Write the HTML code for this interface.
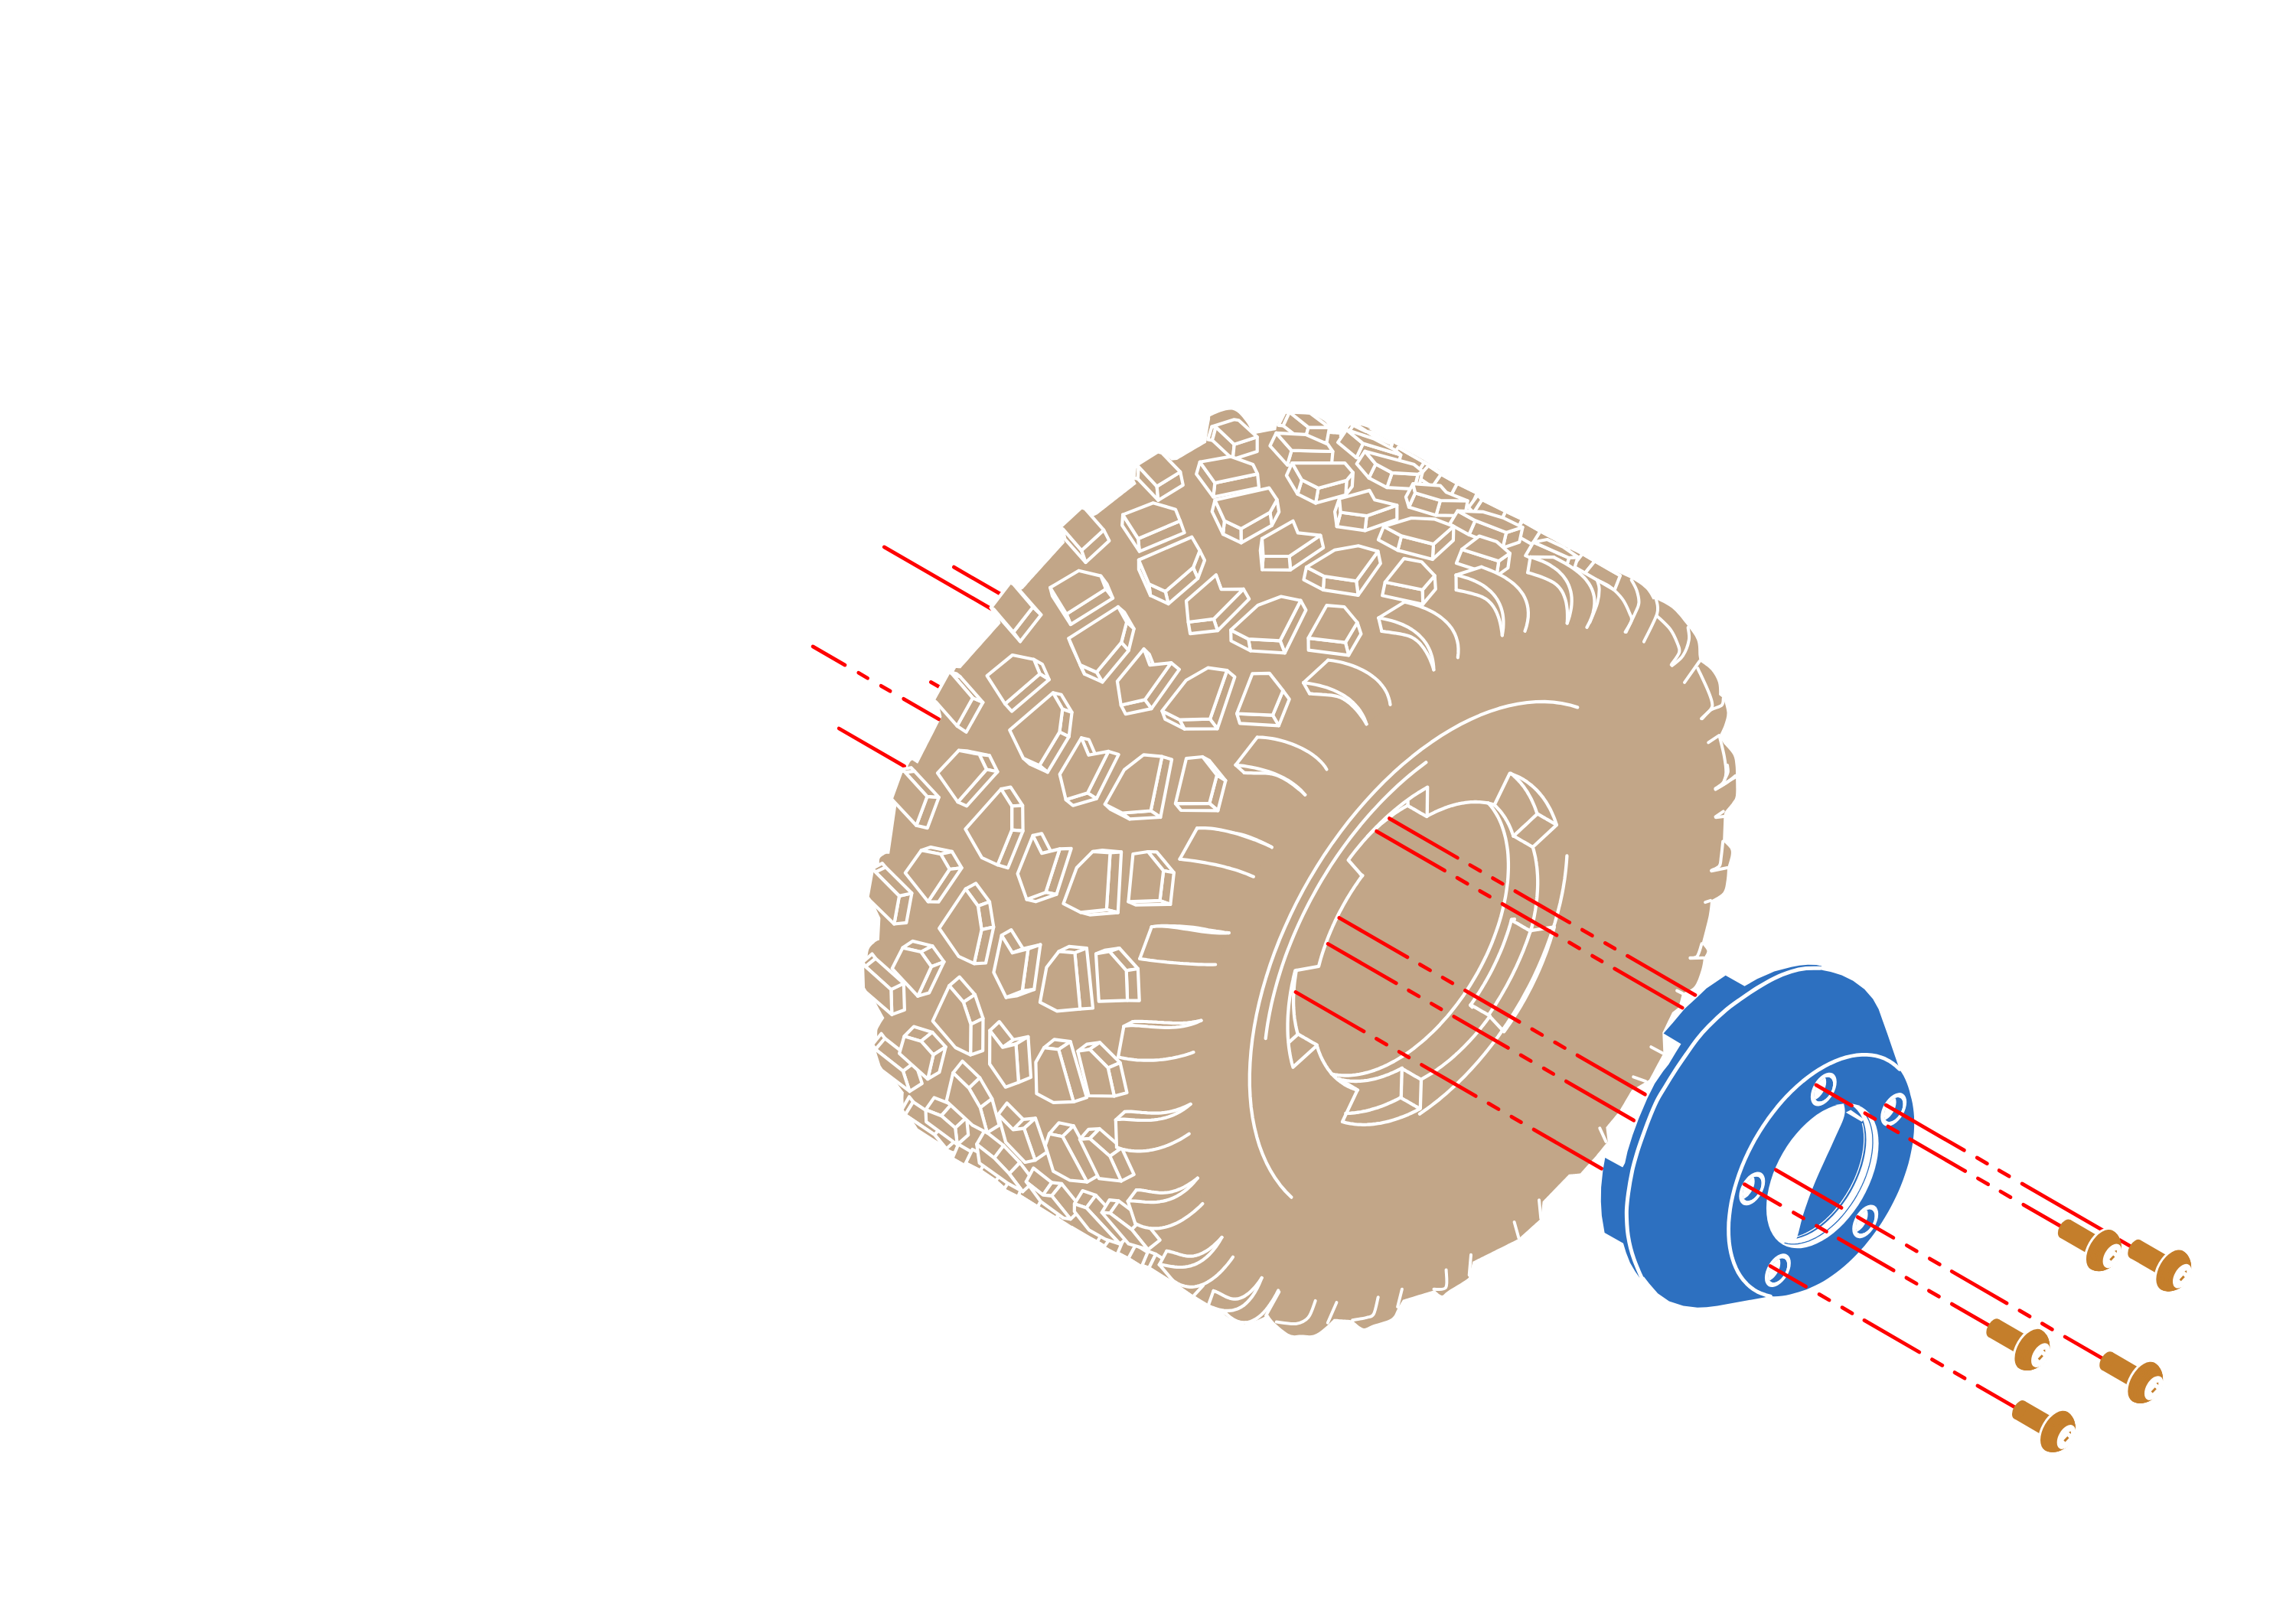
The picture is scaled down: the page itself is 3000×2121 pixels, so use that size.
<!DOCTYPE html>
<html><head><meta charset="utf-8"><title>Wheel assembly</title>
<style>html,body{margin:0;padding:0;background:#fff}svg{display:block}</style></head>
<body><svg xmlns="http://www.w3.org/2000/svg" width="3000" height="2121" viewBox="0 0 3000 2121">
<rect width="3000" height="2121" fill="#fff"/>
<g stroke="#FF0000" stroke-width="4.8" stroke-linecap="round" fill="none"><line x1="1246.4" y1="741.1" x2="1308.3" y2="776.9"/><line x1="1216.3" y1="891.4" x2="1229.8" y2="899.2"/><line x1="1096.2" y1="952.0" x2="1181.7" y2="1001.3"/><line x1="1062.1" y1="844.9" x2="1104.0" y2="869.1"/><line x1="1121.8" y1="879.3" x2="1133.6" y2="886.2"/><line x1="1151.2" y1="896.3" x2="1163.1" y2="903.2"/><line x1="1180.7" y1="913.3" x2="1226.9" y2="940.0"/><line x1="1155.3" y1="714.9" x2="1297.2" y2="796.8"/></g>
<path d="M1639.6,567.0 C1639.6,567.0 1637.8,572.8 1637.8,572.8 C1637.8,572.8 1633.8,559.3 1629.3,553.1 C1624.8,546.9 1618.3,537.5 1610.8,535.8 C1603.3,534.1 1589.2,540.4 1584.2,542.7 C1579.2,545.0 1582.1,543.7 1580.7,549.7 C1579.3,555.7 1576.1,578.6 1576.1,578.6 C1576.1,578.6 1538.0,601.0 1538.0,601.0 C1538.0,601.0 1531.1,601.7 1531.1,601.7 C1531.1,601.7 1519.5,592.4 1519.5,592.4 C1519.5,592.4 1497.6,603.5 1491.8,607.4 C1486.0,611.2 1486.5,612.8 1484.8,615.5 C1483.1,618.2 1481.4,620.8 1481.4,623.6 C1481.4,626.4 1484.8,632.2 1484.8,632.2 C1484.8,632.2 1434.0,672.1 1434.0,672.1 C1434.0,672.1 1428.2,675.1 1428.2,675.1 C1428.2,675.1 1417.8,665.2 1417.8,665.2 C1417.8,665.2 1396.3,685.4 1391.3,690.6 C1386.3,695.8 1387.8,693.3 1387.8,696.4 C1387.8,699.5 1391.3,709.1 1391.3,709.1 C1391.3,709.1 1337.0,769.2 1337.0,769.2 C1337.0,769.2 1331.2,772.6 1331.2,772.6 C1331.2,772.6 1324.3,763.4 1324.3,763.4 C1324.3,763.4 1300.0,786.5 1300.0,786.5 C1300.0,786.5 1301.3,795.7 1301.3,795.7 C1301.3,795.7 1307.6,814.2 1307.6,814.2 C1307.6,814.2 1255.1,873.4 1255.1,873.4 C1255.1,873.4 1249.0,873.1 1249.0,873.1 C1249.0,873.1 1248.1,875.0 1244.4,881.2 C1240.7,887.4 1229.7,904.7 1226.6,910.5 C1223.5,916.3 1225.2,911.5 1225.9,915.9 C1226.6,920.2 1230.5,936.6 1230.5,936.6 C1230.5,936.6 1199.4,997.9 1199.4,997.9 C1199.4,997.9 1193.6,994.4 1193.6,994.4 C1193.6,994.4 1191.4,990.6 1187.8,997.9 C1184.2,1005.2 1174.7,1030.2 1172.1,1038.3 C1169.5,1046.4 1173.7,1033.5 1172.1,1046.4 C1170.5,1059.3 1162.4,1115.7 1162.4,1115.7 C1162.4,1115.7 1157.8,1115.7 1157.8,1115.7 C1157.8,1115.7 1151.2,1118.8 1149.7,1121.5 C1148.2,1124.2 1149.3,1127.5 1148.5,1131.9 C1147.7,1136.3 1146.4,1141.9 1145.1,1148.1 C1143.8,1154.3 1141.0,1163.6 1140.4,1168.9 C1139.8,1174.2 1139.9,1174.9 1141.6,1180.0 C1143.3,1185.1 1150.4,1199.7 1150.4,1199.7 C1150.4,1199.7 1149.0,1228.6 1149.0,1228.6 C1149.0,1228.6 1145.1,1229.7 1142.7,1232.0 C1140.3,1234.3 1136.2,1236.8 1134.7,1242.4 C1133.2,1248.0 1133.2,1257.0 1133.5,1265.5 C1133.8,1274.0 1132.8,1282.5 1136.5,1293.3 C1140.2,1304.1 1155.5,1330.2 1155.5,1330.2 C1155.5,1330.2 1151.2,1336.4 1149.7,1339.5 C1148.2,1342.6 1146.4,1343.7 1146.2,1348.7 C1146.0,1353.7 1146.6,1361.8 1148.5,1369.5 C1150.4,1377.2 1152.4,1385.3 1157.8,1394.9 C1163.2,1404.5 1180.9,1427.3 1180.9,1427.3 C1180.9,1427.3 1179.2,1444.2 1182.7,1452.7 C1186.2,1461.2 1192.4,1470.0 1201.7,1478.1 C1211.0,1486.2 1231.0,1496.9 1238.6,1501.2 C1246.1,1505.5 1247.0,1504.0 1247.0,1504.0 C1247.0,1504.0 1256.3,1520.1 1256.3,1520.1 C1256.3,1520.1 1281.7,1529.4 1281.7,1529.4 C1281.7,1529.4 1311.7,1552.5 1311.7,1552.5 C1311.7,1552.5 1339.5,1566.4 1339.5,1566.4 C1339.5,1566.4 1381.1,1589.5 1381.1,1589.5 C1381.1,1589.5 1427.3,1619.5 1427.3,1619.5 C1427.3,1619.5 1473.5,1644.9 1473.5,1644.9 C1473.5,1644.9 1519.7,1668.0 1519.7,1668.0 C1519.7,1668.0 1561.3,1693.4 1561.3,1693.4 C1561.3,1693.4 1584.4,1707.3 1584.4,1707.3 C1584.4,1707.3 1607.5,1723.5 1607.5,1723.5 C1607.5,1723.5 1626.0,1730.4 1626.0,1730.4 C1626.0,1730.4 1637.2,1727.3 1642.4,1725.3 C1647.6,1723.3 1657.4,1718.3 1657.4,1718.3 C1657.4,1718.3 1660.9,1724.5 1665.5,1728.7 C1670.1,1733.0 1679.4,1741.2 1685.2,1743.8 C1691.0,1746.4 1695.0,1744.4 1700.2,1744.5 C1705.4,1744.6 1711.4,1746.0 1716.4,1744.5 C1721.4,1743.0 1725.8,1739.2 1730.2,1735.7 C1734.6,1732.2 1742.9,1723.7 1742.9,1723.7 C1742.9,1723.7 1767.2,1725.3 1767.2,1725.3 C1767.2,1725.3 1776.5,1734.7 1781.1,1735.7 C1785.7,1736.7 1788.8,1733.2 1794.9,1731.1 C1801.1,1729.0 1812.8,1726.5 1818.0,1723.0 C1823.2,1719.5 1823.6,1714.3 1826.1,1710.3 C1828.6,1706.2 1833.0,1698.7 1833.0,1698.7 C1833.0,1698.7 1874.6,1686.0 1874.6,1686.0 C1874.6,1686.0 1881.0,1692.7 1883.9,1692.9 C1886.8,1693.1 1886.6,1690.7 1892.0,1687.2 C1897.4,1683.7 1911.6,1675.6 1916.2,1672.1 C1920.8,1668.6 1918.4,1670.2 1919.7,1666.4 C1921.0,1662.6 1924.3,1649.0 1924.3,1649.0 C1924.3,1649.0 1982.1,1620.1 1982.1,1620.1 C1982.1,1620.1 1982.6,1620.1 1987.8,1615.5 C1993.0,1610.9 2013.3,1592.4 2013.3,1592.4 C2013.3,1592.4 2015.6,1570.5 2015.6,1570.5 C2015.6,1570.5 2050.0,1534.7 2050.0,1534.7 C2050.0,1534.7 2064.9,1533.4 2064.9,1533.4 C2064.9,1533.4 2085.7,1510.3 2085.7,1510.3 C2085.7,1510.3 2100.7,1491.8 2100.7,1491.8 C2100.7,1491.8 2098.4,1473.3 2098.4,1473.3 C2098.4,1473.3 2115.7,1452.5 2115.7,1452.5 C2115.7,1452.5 2131.9,1424.8 2131.9,1424.8 C2131.9,1424.8 2155.0,1410.9 2155.0,1410.9 C2155.0,1410.9 2173.5,1376.2 2173.5,1376.2 C2173.5,1376.2 2172.3,1349.7 2172.3,1349.7 C2172.3,1349.7 2185.0,1323.1 2185.0,1323.1 C2185.0,1323.1 2193.4,1316.5 2193.4,1316.5 C2193.4,1316.5 2198.1,1298.1 2198.1,1298.1 C2198.1,1298.1 2210.0,1294.2 2214.2,1288.8 C2218.4,1283.4 2221.6,1271.9 2223.5,1265.7 C2225.4,1259.5 2225.8,1251.8 2225.8,1251.8 C2225.8,1251.8 2230.8,1245.7 2230.4,1242.6 C2230.0,1239.5 2223.5,1233.4 2223.5,1233.4 C2223.5,1233.4 2230.8,1205.8 2232.7,1196.4 C2234.6,1187.0 2235.0,1176.8 2235.0,1176.8 C2235.0,1176.8 2247.7,1170.8 2251.2,1166.4 C2254.7,1162.0 2254.8,1155.6 2255.8,1150.2 C2256.8,1144.8 2257.0,1134.0 2257.0,1134.0 C2257.0,1134.0 2261.0,1122.0 2261.6,1117.8 C2262.2,1113.6 2262.1,1111.7 2260.4,1108.6 C2258.7,1105.5 2251.2,1099.4 2251.2,1099.4 C2251.2,1099.4 2252.4,1067.0 2252.4,1067.0 C2252.4,1067.0 2252.4,1063.4 2254.2,1060.4 C2256.0,1057.4 2261.1,1052.4 2263.4,1048.9 C2265.7,1045.4 2267.2,1045.2 2268.0,1039.6 C2268.8,1034.0 2268.0,1015.4 2268.0,1015.4 C2268.0,1015.4 2268.2,1005.2 2267.6,1000.4 C2267.0,995.6 2267.0,991.1 2264.6,986.5 C2262.2,981.9 2253.0,972.6 2253.0,972.6 C2253.0,972.6 2246.1,962.2 2246.1,962.2 C2246.1,962.2 2251.3,952.4 2253.0,947.2 C2254.7,942.0 2256.7,936.9 2256.5,931.1 C2256.3,925.3 2251.8,912.6 2251.8,912.6 C2251.8,912.6 2246.1,907.9 2246.1,907.9 C2246.1,907.9 2246.6,897.2 2244.9,891.8 C2243.2,886.4 2239.7,880.2 2235.7,875.6 C2231.7,871.0 2220.7,864.0 2220.7,864.0 C2220.7,864.0 2220.1,861.7 2219.5,857.1 C2218.9,852.5 2219.9,843.2 2217.2,836.3 C2214.5,829.4 2208.7,822.4 2203.3,815.5 C2197.9,808.6 2191.4,800.1 2184.8,794.7 C2178.2,789.3 2164.0,783.2 2164.0,783.2 C2164.0,783.2 2159.4,783.2 2159.4,783.2 C2159.4,783.2 2154.8,773.7 2150.2,769.3 C2145.6,764.9 2141.3,761.8 2131.7,756.6 C2122.1,751.4 2110.5,747.0 2092.4,738.1 C2074.3,729.2 2023.1,703.5 2023.1,703.5 C2023.1,703.5 1990.3,682.5 1990.3,682.5 C1990.3,682.5 1934.8,647.9 1934.8,647.9 C1934.8,647.9 1860.9,601.7 1860.9,601.7 C1860.9,601.7 1819.3,578.6 1819.3,578.6 C1819.3,578.6 1789.3,561.2 1789.3,561.2 C1789.3,561.2 1773.1,554.3 1773.1,554.3 C1773.1,554.3 1761.6,557.8 1761.6,557.8 C1761.6,557.8 1787.8,560.9 1789.8,560.5 C1791.8,560.1 1778.9,555.5 1773.7,555.5 C1768.5,555.5 1762.1,558.4 1758.6,560.5 C1755.1,562.6 1752.9,568.2 1752.9,568.2 C1752.9,568.2 1736.7,567.0 1736.7,567.0 C1736.7,567.0 1736.7,559.5 1735.5,556.6 C1734.3,553.7 1733.1,552.0 1729.8,549.7 C1726.5,547.4 1720.9,544.1 1715.9,542.7 C1710.9,541.4 1705.1,541.6 1699.7,541.6 C1694.3,541.6 1688.1,541.4 1683.5,542.7 C1678.9,544.1 1674.5,547.4 1672.0,549.7 C1669.5,552.0 1669.3,554.6 1668.5,556.6 C1667.7,558.6 1667.4,561.9 1667.4,561.9 C1667.4,561.9 1639.6,567.0 1639.6,567.0Z" fill="#C2A688" stroke="none" stroke-width="0" stroke-linejoin="round" stroke-linecap="round" />
<polygon points="1277.6,1533.2 1244.3,1514.0 1252.2,1495.4 1290.1,1517.3" fill="#C2A688" stroke="#fff" stroke-width="4.2" stroke-linejoin="round" />
<polygon points="1244.3,1514.0 1239.3,1507.6 1239.7,1507.9 1243.4,1513.5 1276.8,1532.7 1277.6,1533.2" fill="#C2A688" stroke="#fff" stroke-width="4.2" stroke-linejoin="round" />
<polygon points="1763.3,553.3 1769.6,553.6 1758.6,570.4 1751.7,569.8" fill="#C2A688" stroke="#fff" stroke-width="4.2" stroke-linejoin="round" />
<polygon points="1769.6,553.6 1795.7,570.0 1787.5,588.6 1758.6,570.4" fill="#C2A688" stroke="#fff" stroke-width="4.2" stroke-linejoin="round" />
<polygon points="1795.7,570.0 1818.9,580.3 1812.1,599.5 1787.5,588.6" fill="#C2A688" stroke="#fff" stroke-width="4.2" stroke-linejoin="round" />
<polygon points="1792.3,564.8 1784.7,563.9 1763.3,553.3 1769.6,553.6 1795.7,570.0 1818.9,580.3" fill="#C2A688" stroke="#fff" stroke-width="4.2" stroke-linejoin="round" />
<polygon points="1876.3,613.3 1860.7,604.3 1850.0,621.2 1868.6,632.0" fill="#C2A688" stroke="#fff" stroke-width="4.2" stroke-linejoin="round" />
<polygon points="1860.7,604.3 1826.9,584.8 1814.3,600.6 1850.0,621.2" fill="#C2A688" stroke="#fff" stroke-width="4.2" stroke-linejoin="round" />
<polygon points="1826.9,584.8 1838.6,591.6 1861.6,604.8 1876.3,613.3 1860.7,604.3" fill="#C2A688" stroke="#fff" stroke-width="4.2" stroke-linejoin="round" />
<polygon points="1261.8,1520.1 1280.8,1529.8 1291.7,1512.8 1270.6,1502.0" fill="#C2A688" stroke="#fff" stroke-width="4.2" stroke-linejoin="round" />
<polygon points="1280.8,1529.8 1300.9,1543.2 1313.6,1527.3 1291.7,1512.8" fill="#C2A688" stroke="#fff" stroke-width="4.2" stroke-linejoin="round" />
<polygon points="1300.9,1543.2 1312.2,1553.2 1323.5,1536.6 1313.6,1527.3" fill="#C2A688" stroke="#fff" stroke-width="4.2" stroke-linejoin="round" />
<polygon points="1268.6,1527.6 1261.8,1520.1 1280.8,1529.8 1300.9,1543.2 1312.2,1553.2" fill="#C2A688" stroke="#fff" stroke-width="4.2" stroke-linejoin="round" />
<polygon points="1182.7,1456.9 1178.1,1450.6 1188.0,1433.3 1193.2,1439.9" fill="#C2A688" stroke="#fff" stroke-width="4.2" stroke-linejoin="round" />
<polygon points="1236.5,1501.3 1220.9,1482.7 1235.0,1468.1 1251.5,1487.8" fill="#C2A688" stroke="#fff" stroke-width="4.2" stroke-linejoin="round" />
<polygon points="1220.9,1482.7 1182.7,1456.9 1193.2,1439.9 1235.0,1468.1" fill="#C2A688" stroke="#fff" stroke-width="4.2" stroke-linejoin="round" />
<polygon points="1182.7,1456.9 1178.1,1450.6 1194.1,1470.7 1197.7,1476.3 1236.5,1501.3 1220.9,1482.7" fill="#C2A688" stroke="#fff" stroke-width="4.2" stroke-linejoin="round" />
<polygon points="1331.0,1561.9 1355.8,1577.3 1365.5,1559.5 1338.5,1542.7" fill="#C2A688" stroke="#fff" stroke-width="4.2" stroke-linejoin="round" />
<polygon points="1355.8,1577.3 1379.6,1592.1 1391.0,1575.6 1365.5,1559.5" fill="#C2A688" stroke="#fff" stroke-width="4.2" stroke-linejoin="round" />
<polygon points="1379.6,1592.1 1380.3,1592.5 1392.0,1576.2 1391.0,1575.6" fill="#C2A688" stroke="#fff" stroke-width="4.2" stroke-linejoin="round" />
<polygon points="1331.8,1564.5 1331.0,1561.9 1355.8,1577.3 1379.6,1592.1 1380.3,1592.5 1360.3,1581.0" fill="#C2A688" stroke="#fff" stroke-width="4.2" stroke-linejoin="round" />
<polygon points="1930.0,644.3 1904.1,631.6 1894.6,649.6 1921.9,662.7" fill="#C2A688" stroke="#fff" stroke-width="4.2" stroke-linejoin="round" />
<polygon points="1904.1,631.6 1882.9,619.6 1871.3,636.4 1894.6,649.6" fill="#C2A688" stroke="#fff" stroke-width="4.2" stroke-linejoin="round" />
<polygon points="1882.9,619.6 1866.5,608.4 1852.9,623.7 1871.3,636.4" fill="#C2A688" stroke="#fff" stroke-width="4.2" stroke-linejoin="round" />
<polygon points="1866.5,608.4 1900.5,627.3 1919.6,638.3 1930.0,644.3 1904.1,631.6 1882.9,619.6" fill="#C2A688" stroke="#fff" stroke-width="4.2" stroke-linejoin="round" />
<polygon points="1830.3,594.5 1781.0,579.6 1772.3,598.1 1825.2,614.1" fill="#C2A688" stroke="#fff" stroke-width="4.2" stroke-linejoin="round" />
<polygon points="1781.0,579.6 1759.4,561.6 1748.1,578.1 1772.3,598.1" fill="#C2A688" stroke="#fff" stroke-width="4.2" stroke-linejoin="round" />
<polygon points="1759.4,561.6 1794.6,573.2 1822.7,588.0 1830.3,594.5 1781.0,579.6" fill="#C2A688" stroke="#fff" stroke-width="4.2" stroke-linejoin="round" />
<polygon points="1679.0,538.4 1684.9,538.7 1676.7,556.4 1670.4,555.9" fill="#C2A688" stroke="#fff" stroke-width="4.2" stroke-linejoin="round" />
<polygon points="1684.9,538.7 1709.6,558.3 1704.3,578.0 1676.7,556.4" fill="#C2A688" stroke="#fff" stroke-width="4.2" stroke-linejoin="round" />
<polygon points="1709.6,558.3 1737.1,558.7 1733.5,578.4 1704.3,578.0" fill="#C2A688" stroke="#fff" stroke-width="4.2" stroke-linejoin="round" />
<polygon points="1712.0,540.0 1705.5,539.3 1679.0,538.4 1684.9,538.7 1709.6,558.3 1737.1,558.7" fill="#C2A688" stroke="#fff" stroke-width="4.2" stroke-linejoin="round" />
<polygon points="1433.6,1623.0 1443.0,1628.7 1454.9,1612.5 1443.8,1605.7" fill="#C2A688" stroke="#fff" stroke-width="4.2" stroke-linejoin="round" />
<polygon points="1405.4,1607.0 1400.5,1604.0 1423.6,1617.5 1433.6,1623.0 1443.0,1628.7 1424.4,1618.0" fill="#C2A688" stroke="#fff" stroke-width="4.2" stroke-linejoin="round" />
<polygon points="1988.9,678.3 1967.2,668.0 1958.7,686.3 1980.6,696.6" fill="#C2A688" stroke="#fff" stroke-width="4.2" stroke-linejoin="round" />
<polygon points="1967.2,668.0 1936.5,652.9 1925.3,670.1 1958.7,686.3" fill="#C2A688" stroke="#fff" stroke-width="4.2" stroke-linejoin="round" />
<polygon points="1936.5,652.9 1931.0,646.9 1918.9,663.1 1925.3,670.1" fill="#C2A688" stroke="#fff" stroke-width="4.2" stroke-linejoin="round" />
<polygon points="1931.0,646.9 1954.7,658.6 1970.4,667.6 1988.9,678.3 1967.2,668.0 1936.5,652.9" fill="#C2A688" stroke="#fff" stroke-width="4.2" stroke-linejoin="round" />
<polygon points="1209.5,1450.3 1230.0,1458.2 1243.2,1443.2 1220.6,1434.4" fill="#C2A688" stroke="#fff" stroke-width="4.2" stroke-linejoin="round" />
<polygon points="1230.0,1458.2 1248.2,1474.0 1263.0,1460.4 1243.2,1443.2" fill="#C2A688" stroke="#fff" stroke-width="4.2" stroke-linejoin="round" />
<polygon points="1248.2,1474.0 1250.8,1495.9 1265.2,1483.1 1263.0,1460.4" fill="#C2A688" stroke="#fff" stroke-width="4.2" stroke-linejoin="round" />
<polygon points="1210.2,1466.0 1209.5,1450.3 1230.0,1458.2 1248.2,1474.0 1250.8,1495.9" fill="#C2A688" stroke="#fff" stroke-width="4.2" stroke-linejoin="round" />
<polygon points="1276.2,1495.4 1299.1,1513.3 1311.4,1497.1 1286.5,1477.6" fill="#C2A688" stroke="#fff" stroke-width="4.2" stroke-linejoin="round" />
<polygon points="1299.1,1513.3 1318.7,1533.9 1332.6,1519.3 1311.4,1497.1" fill="#C2A688" stroke="#fff" stroke-width="4.2" stroke-linejoin="round" />
<polygon points="1318.7,1533.9 1336.3,1557.2 1351.1,1543.8 1332.6,1519.3" fill="#C2A688" stroke="#fff" stroke-width="4.2" stroke-linejoin="round" />
<polygon points="1279.7,1519.9 1276.2,1495.4 1299.1,1513.3 1318.7,1533.9 1336.3,1557.2 1317.3,1546.7" fill="#C2A688" stroke="#fff" stroke-width="4.2" stroke-linejoin="round" />
<polygon points="1460.4,1637.5 1474.3,1644.8 1484.0,1626.8 1468.4,1618.8" fill="#C2A688" stroke="#fff" stroke-width="4.2" stroke-linejoin="round" />
<polygon points="1474.3,1644.8 1515.8,1670.7 1528.9,1655.2 1484.0,1626.8" fill="#C2A688" stroke="#fff" stroke-width="4.2" stroke-linejoin="round" />
<polygon points="1466.4,1642.2 1464.7,1641.2 1460.4,1637.5 1474.3,1644.8 1515.8,1670.7 1488.5,1655.0" fill="#C2A688" stroke="#fff" stroke-width="4.2" stroke-linejoin="round" />
<polygon points="1144.0,1371.3 1139.8,1365.3 1151.5,1350.7 1156.3,1357.0" fill="#C2A688" stroke="#fff" stroke-width="4.2" stroke-linejoin="round" />
<polygon points="1188.5,1426.2 1179.9,1399.6 1195.7,1387.8 1204.8,1415.9" fill="#C2A688" stroke="#fff" stroke-width="4.2" stroke-linejoin="round" />
<polygon points="1179.9,1399.6 1144.0,1371.3 1156.3,1357.0 1195.7,1387.8" fill="#C2A688" stroke="#fff" stroke-width="4.2" stroke-linejoin="round" />
<polygon points="1144.0,1371.3 1139.8,1365.3 1148.6,1393.3 1151.9,1398.5 1188.5,1426.2 1179.9,1399.6" fill="#C2A688" stroke="#fff" stroke-width="4.2" stroke-linejoin="round" />
<polygon points="2051.1,714.9 2012.6,694.2 2001.8,711.4 2043.7,733.8" fill="#C2A688" stroke="#fff" stroke-width="4.2" stroke-linejoin="round" />
<polygon points="2012.6,694.2 1989.8,681.2 1976.6,697.0 2001.8,711.4" fill="#C2A688" stroke="#fff" stroke-width="4.2" stroke-linejoin="round" />
<polygon points="1989.8,681.2 2014.9,693.3 2024.8,699.1 2043.4,709.8 2051.1,714.9 2012.6,694.2" fill="#C2A688" stroke="#fff" stroke-width="4.2" stroke-linejoin="round" />
<polygon points="1858.9,616.2 1852.7,619.8 1848.0,639.2 1854.2,635.2" fill="#C2A688" stroke="#fff" stroke-width="4.2" stroke-linejoin="round" />
<polygon points="1852.7,619.8 1818.9,617.8 1812.2,637.1 1848.0,639.2" fill="#C2A688" stroke="#fff" stroke-width="4.2" stroke-linejoin="round" />
<polygon points="1818.9,617.8 1797.5,606.4 1788.6,624.6 1812.2,637.1" fill="#C2A688" stroke="#fff" stroke-width="4.2" stroke-linejoin="round" />
<polygon points="1797.5,606.4 1783.5,589.7 1772.7,606.1 1788.6,624.6" fill="#C2A688" stroke="#fff" stroke-width="4.2" stroke-linejoin="round" />
<polygon points="1783.5,589.7 1847.1,606.7 1858.9,616.2 1852.7,619.8 1818.9,617.8 1797.5,606.4" fill="#C2A688" stroke="#fff" stroke-width="4.2" stroke-linejoin="round" />
<polygon points="1741.5,590.0 1687.6,588.6 1682.0,607.7 1739.7,609.4" fill="#C2A688" stroke="#fff" stroke-width="4.2" stroke-linejoin="round" />
<polygon points="1687.6,588.6 1667.5,565.8 1659.4,582.6 1682.0,607.7" fill="#C2A688" stroke="#fff" stroke-width="4.2" stroke-linejoin="round" />
<polygon points="1667.5,565.8 1706.0,567.9 1734.9,580.5 1741.5,590.0 1687.6,588.6" fill="#C2A688" stroke="#fff" stroke-width="4.2" stroke-linejoin="round" />
<polygon points="1340.8,1544.3 1362.8,1561.6 1374.3,1545.3 1350.3,1526.5" fill="#C2A688" stroke="#fff" stroke-width="4.2" stroke-linejoin="round" />
<polygon points="1362.8,1561.6 1374.2,1562.8 1387.1,1546.9 1374.3,1545.3" fill="#C2A688" stroke="#fff" stroke-width="4.2" stroke-linejoin="round" />
<polygon points="1374.2,1562.8 1398.8,1593.2 1413.3,1579.3 1387.1,1546.9" fill="#C2A688" stroke="#fff" stroke-width="4.2" stroke-linejoin="round" />
<polygon points="1360.0,1570.2 1340.8,1544.3 1362.8,1561.6 1374.2,1562.8 1398.8,1593.2 1389.4,1591.7" fill="#C2A688" stroke="#fff" stroke-width="4.2" stroke-linejoin="round" />
<polygon points="1583.4,557.5 1588.7,557.9 1584.0,575.3 1578.3,574.5" fill="#C2A688" stroke="#fff" stroke-width="4.2" stroke-linejoin="round" />
<polygon points="1588.7,557.9 1612.7,580.7 1610.8,600.3 1584.0,575.3" fill="#C2A688" stroke="#fff" stroke-width="4.2" stroke-linejoin="round" />
<polygon points="1612.7,580.7 1642.7,571.1 1642.7,590.1 1610.8,600.3" fill="#C2A688" stroke="#fff" stroke-width="4.2" stroke-linejoin="round" />
<polygon points="1618.6,549.3 1612.6,548.3 1583.4,557.5 1588.7,557.9 1612.7,580.7 1642.7,571.1" fill="#C2A688" stroke="#fff" stroke-width="4.2" stroke-linejoin="round" />
<polygon points="2083.9,733.2 2067.7,723.8 2055.3,739.8 2071.1,748.9" fill="#C2A688" stroke="#fff" stroke-width="4.2" stroke-linejoin="round" />
<polygon points="2117.0,752.3 2083.9,733.2 2071.1,748.9 2109.6,771.1" fill="#C2A688" stroke="#fff" stroke-width="4.2" stroke-linejoin="round" />
<polygon points="2083.9,733.2 2067.7,723.8 2082.0,732.1 2107.1,746.6 2117.0,752.3" fill="#C2A688" stroke="#fff" stroke-width="4.2" stroke-linejoin="round" />
<polygon points="1917.6,654.5 1882.0,654.0 1876.4,673.4 1914.1,674.0" fill="#C2A688" stroke="#fff" stroke-width="4.2" stroke-linejoin="round" />
<polygon points="1882.0,654.0 1849.2,644.2 1840.9,662.7 1876.4,673.4" fill="#C2A688" stroke="#fff" stroke-width="4.2" stroke-linejoin="round" />
<polygon points="1849.2,644.2 1846.2,632.2 1836.9,649.5 1840.9,662.7" fill="#C2A688" stroke="#fff" stroke-width="4.2" stroke-linejoin="round" />
<polygon points="1846.2,632.2 1882.0,634.6 1889.8,643.4 1917.6,654.5 1882.0,654.0 1849.2,644.2" fill="#C2A688" stroke="#fff" stroke-width="4.2" stroke-linejoin="round" />
<polygon points="1492.3,1653.7 1501.2,1657.1 1510.2,1639.0 1500.2,1635.1" fill="#C2A688" stroke="#fff" stroke-width="4.2" stroke-linejoin="round" />
<polygon points="1501.2,1657.1 1531.3,1676.1 1543.1,1659.7 1510.2,1639.0" fill="#C2A688" stroke="#fff" stroke-width="4.2" stroke-linejoin="round" />
<polygon points="1531.3,1676.1 1558.3,1694.8 1572.1,1679.8 1543.1,1659.7" fill="#C2A688" stroke="#fff" stroke-width="4.2" stroke-linejoin="round" />
<polygon points="1536.1,1682.5 1492.3,1653.7 1501.2,1657.1 1531.3,1676.1 1558.3,1694.8" fill="#C2A688" stroke="#fff" stroke-width="4.2" stroke-linejoin="round" />
<polygon points="1181.5,1354.3 1203.5,1360.7 1218.2,1348.9 1193.9,1341.6" fill="#C2A688" stroke="#fff" stroke-width="4.2" stroke-linejoin="round" />
<polygon points="1203.5,1360.7 1219.5,1378.5 1235.7,1368.1 1218.2,1348.9" fill="#C2A688" stroke="#fff" stroke-width="4.2" stroke-linejoin="round" />
<polygon points="1219.5,1378.5 1212.2,1410.1 1227.4,1401.2 1235.7,1368.1" fill="#C2A688" stroke="#fff" stroke-width="4.2" stroke-linejoin="round" />
<polygon points="1175.1,1376.7 1181.5,1354.3 1203.5,1360.7 1219.5,1378.5 1212.2,1410.1" fill="#C2A688" stroke="#fff" stroke-width="4.2" stroke-linejoin="round" />
<polygon points="1130.8,1263.1 1126.9,1257.6 1139.5,1246.6 1144.1,1252.5" fill="#C2A688" stroke="#fff" stroke-width="4.2" stroke-linejoin="round" />
<polygon points="1165.3,1325.9 1164.3,1293.2 1180.8,1285.2 1181.9,1319.8" fill="#C2A688" stroke="#fff" stroke-width="4.2" stroke-linejoin="round" />
<polygon points="1164.3,1293.2 1130.8,1263.1 1144.1,1252.5 1180.8,1285.2" fill="#C2A688" stroke="#fff" stroke-width="4.2" stroke-linejoin="round" />
<polygon points="1130.8,1263.1 1126.9,1257.6 1128.0,1291.5 1131.1,1296.3 1165.3,1325.9 1164.3,1293.2" fill="#C2A688" stroke="#fff" stroke-width="4.2" stroke-linejoin="round" />
<polygon points="1403.9,1573.2 1419.4,1578.4 1431.8,1561.9 1414.5,1556.1" fill="#C2A688" stroke="#fff" stroke-width="4.2" stroke-linejoin="round" />
<polygon points="1419.4,1578.4 1463.3,1625.7 1479.0,1612.6 1431.8,1561.9" fill="#C2A688" stroke="#fff" stroke-width="4.2" stroke-linejoin="round" />
<polygon points="1422.8,1607.3 1403.8,1583.2 1403.9,1573.2 1419.4,1578.4 1463.3,1625.7 1444.3,1619.5" fill="#C2A688" stroke="#fff" stroke-width="4.2" stroke-linejoin="round" />
<polygon points="1245.3,1402.0 1266.0,1422.0 1280.2,1408.5 1257.5,1386.8" fill="#C2A688" stroke="#fff" stroke-width="4.2" stroke-linejoin="round" />
<polygon points="1266.0,1422.0 1280.8,1447.5 1296.2,1435.9 1280.2,1408.5" fill="#C2A688" stroke="#fff" stroke-width="4.2" stroke-linejoin="round" />
<polygon points="1280.8,1447.5 1289.8,1480.3 1305.7,1470.4 1296.2,1435.9" fill="#C2A688" stroke="#fff" stroke-width="4.2" stroke-linejoin="round" />
<polygon points="1236.6,1439.1 1245.3,1402.0 1266.0,1422.0 1280.8,1447.5 1289.8,1480.3 1270.4,1470.3" fill="#C2A688" stroke="#fff" stroke-width="4.2" stroke-linejoin="round" />
<polygon points="1989.5,689.1 1968.1,695.9 1963.5,716.0 1985.3,708.4" fill="#C2A688" stroke="#fff" stroke-width="4.2" stroke-linejoin="round" />
<polygon points="1968.1,695.9 1927.5,680.3 1919.4,698.8 1963.5,716.0" fill="#C2A688" stroke="#fff" stroke-width="4.2" stroke-linejoin="round" />
<polygon points="1927.5,680.3 1904.5,667.6 1894.1,684.9 1919.4,698.8" fill="#C2A688" stroke="#fff" stroke-width="4.2" stroke-linejoin="round" />
<polygon points="1904.5,667.6 1937.2,668.8 1965.0,677.1 1989.5,689.1 1968.1,695.9 1927.5,680.3" fill="#C2A688" stroke="#fff" stroke-width="4.2" stroke-linejoin="round" />
<polygon points="1767.9,617.7 1759.5,627.9 1758.4,646.8 1766.8,635.8" fill="#C2A688" stroke="#fff" stroke-width="4.2" stroke-linejoin="round" />
<polygon points="1759.5,627.9 1722.5,638.0 1719.1,657.5 1758.4,646.8" fill="#C2A688" stroke="#fff" stroke-width="4.2" stroke-linejoin="round" />
<polygon points="1722.5,638.0 1701.0,627.2 1695.4,645.6 1719.1,657.5" fill="#C2A688" stroke="#fff" stroke-width="4.2" stroke-linejoin="round" />
<polygon points="1701.0,627.2 1688.3,605.1 1680.9,621.4 1695.4,645.6" fill="#C2A688" stroke="#fff" stroke-width="4.2" stroke-linejoin="round" />
<polygon points="1688.3,605.1 1757.2,605.2 1767.9,617.7 1759.5,627.9 1722.5,638.0 1701.0,627.2" fill="#C2A688" stroke="#fff" stroke-width="4.2" stroke-linejoin="round" />
<polygon points="2061.7,727.9 2050.1,729.2 2044.0,748.6 2055.8,747.0" fill="#C2A688" stroke="#fff" stroke-width="4.2" stroke-linejoin="round" />
<polygon points="2050.1,729.2 2003.6,708.5 1993.3,726.1 2044.0,748.6" fill="#C2A688" stroke="#fff" stroke-width="4.2" stroke-linejoin="round" />
<polygon points="2003.6,708.5 2021.7,705.0 2043.1,715.2 2061.7,727.9 2050.1,729.2" fill="#C2A688" stroke="#fff" stroke-width="4.2" stroke-linejoin="round" />
<polygon points="1483.0,609.1 1487.7,609.9 1486.7,625.8 1481.5,624.6" fill="#C2A688" stroke="#fff" stroke-width="4.2" stroke-linejoin="round" />
<polygon points="1487.7,609.9 1511.6,635.6 1513.4,653.8 1486.7,625.8" fill="#C2A688" stroke="#fff" stroke-width="4.2" stroke-linejoin="round" />
<polygon points="1511.6,635.6 1542.2,616.8 1545.8,633.9 1513.4,653.8" fill="#C2A688" stroke="#fff" stroke-width="4.2" stroke-linejoin="round" />
<polygon points="1518.3,592.0 1512.9,590.5 1483.0,609.1 1487.7,609.9 1511.6,635.6 1542.2,616.8" fill="#C2A688" stroke="#fff" stroke-width="4.2" stroke-linejoin="round" />
<polygon points="1643.1,619.4 1587.4,631.1 1585.3,649.5 1645.0,637.3" fill="#C2A688" stroke="#fff" stroke-width="4.2" stroke-linejoin="round" />
<polygon points="1587.4,631.1 1567.8,603.7 1563.2,619.6 1585.3,649.5" fill="#C2A688" stroke="#fff" stroke-width="4.2" stroke-linejoin="round" />
<polygon points="1567.8,603.7 1607.8,596.6 1637.1,607.0 1643.1,619.4 1587.4,631.1" fill="#C2A688" stroke="#fff" stroke-width="4.2" stroke-linejoin="round" />
<polygon points="1304.2,1456.5 1323.7,1476.4 1337.0,1462.9 1315.7,1441.4" fill="#C2A688" stroke="#fff" stroke-width="4.2" stroke-linejoin="round" />
<polygon points="1323.7,1476.4 1338.0,1474.6 1352.9,1461.3 1337.0,1462.9" fill="#C2A688" stroke="#fff" stroke-width="4.2" stroke-linejoin="round" />
<polygon points="1338.0,1474.6 1352.5,1516.2 1368.2,1505.5 1352.9,1461.3" fill="#C2A688" stroke="#fff" stroke-width="4.2" stroke-linejoin="round" />
<polygon points="1314.1,1492.6 1304.2,1456.5 1323.7,1476.4 1338.0,1474.6 1352.5,1516.2 1339.4,1519.0" fill="#C2A688" stroke="#fff" stroke-width="4.2" stroke-linejoin="round" />
<polygon points="1144.0,1139.7 1140.2,1134.8 1152.8,1128.1 1157.2,1133.3" fill="#C2A688" stroke="#fff" stroke-width="4.2" stroke-linejoin="round" />
<polygon points="1168.3,1207.5 1175.0,1170.9 1191.4,1167.2 1184.3,1205.9" fill="#C2A688" stroke="#fff" stroke-width="4.2" stroke-linejoin="round" />
<polygon points="1175.0,1170.9 1144.0,1139.7 1157.2,1133.3 1191.4,1167.2" fill="#C2A688" stroke="#fff" stroke-width="4.2" stroke-linejoin="round" />
<polygon points="1144.0,1139.7 1140.2,1134.8 1133.5,1172.3 1136.5,1176.5 1168.3,1207.5 1175.0,1170.9" fill="#C2A688" stroke="#fff" stroke-width="4.2" stroke-linejoin="round" />
<polygon points="1825.3,660.3 1785.7,674.2 1783.5,693.4 1825.3,678.7" fill="#C2A688" stroke="#fff" stroke-width="4.2" stroke-linejoin="round" />
<polygon points="1785.7,674.2 1751.7,669.5 1746.7,688.1 1783.5,693.4" fill="#C2A688" stroke="#fff" stroke-width="4.2" stroke-linejoin="round" />
<polygon points="1751.7,669.5 1750.0,651.7 1744.1,668.7 1746.7,688.1" fill="#C2A688" stroke="#fff" stroke-width="4.2" stroke-linejoin="round" />
<polygon points="1750.0,651.7 1789.4,640.9 1796.2,653.2 1825.3,660.3 1785.7,674.2 1751.7,669.5" fill="#C2A688" stroke="#fff" stroke-width="4.2" stroke-linejoin="round" />
<polygon points="1179.5,1238.6 1203.3,1244.0 1218.4,1236.2 1192.3,1229.9" fill="#C2A688" stroke="#fff" stroke-width="4.2" stroke-linejoin="round" />
<polygon points="1203.3,1244.0 1217.0,1263.2 1233.5,1256.9 1218.4,1236.2" fill="#C2A688" stroke="#fff" stroke-width="4.2" stroke-linejoin="round" />
<polygon points="1217.0,1263.2 1199.2,1301.8 1214.1,1297.4 1233.5,1256.9" fill="#C2A688" stroke="#fff" stroke-width="4.2" stroke-linejoin="round" />
<polygon points="1165.7,1265.8 1179.5,1238.6 1203.3,1244.0 1217.0,1263.2 1199.2,1301.8" fill="#C2A688" stroke="#fff" stroke-width="4.2" stroke-linejoin="round" />
<polygon points="1439.6,1584.5 1450.4,1585.4 1461.7,1569.4 1449.6,1568.1" fill="#C2A688" stroke="#fff" stroke-width="4.2" stroke-linejoin="round" />
<polygon points="1450.4,1585.4 1478.7,1606.7 1492.7,1592.5 1461.7,1569.4" fill="#C2A688" stroke="#fff" stroke-width="4.2" stroke-linejoin="round" />
<polygon points="1478.7,1606.7 1500.0,1633.0 1515.7,1620.6 1492.7,1592.5" fill="#C2A688" stroke="#fff" stroke-width="4.2" stroke-linejoin="round" />
<polygon points="1474.7,1625.6 1439.6,1584.5 1450.4,1585.4 1478.7,1606.7 1500.0,1633.0" fill="#C2A688" stroke="#fff" stroke-width="4.2" stroke-linejoin="round" />
<polygon points="1384.5,689.8 1388.7,691.2 1391.4,704.4 1386.7,702.6" fill="#C2A688" stroke="#fff" stroke-width="4.2" stroke-linejoin="round" />
<polygon points="1388.7,691.2 1413.2,719.3 1418.6,735.0 1391.4,704.4" fill="#C2A688" stroke="#fff" stroke-width="4.2" stroke-linejoin="round" />
<polygon points="1413.2,719.3 1442.2,692.6 1449.4,706.6 1418.6,735.0" fill="#C2A688" stroke="#fff" stroke-width="4.2" stroke-linejoin="round" />
<polygon points="1418.0,665.1 1413.1,663.1 1384.5,689.8 1388.7,691.2 1413.2,719.3 1442.2,692.6" fill="#C2A688" stroke="#fff" stroke-width="4.2" stroke-linejoin="round" />
<polygon points="1240.3,1288.2 1258.8,1309.7 1273.9,1299.8 1253.7,1276.6" fill="#C2A688" stroke="#fff" stroke-width="4.2" stroke-linejoin="round" />
<polygon points="1258.8,1309.7 1268.5,1338.7 1284.5,1330.9 1273.9,1299.8" fill="#C2A688" stroke="#fff" stroke-width="4.2" stroke-linejoin="round" />
<polygon points="1268.5,1338.7 1268.1,1378.6 1284.2,1373.1 1284.5,1330.9" fill="#C2A688" stroke="#fff" stroke-width="4.2" stroke-linejoin="round" />
<polygon points="1218.7,1334.4 1240.3,1288.2 1258.8,1309.7 1268.5,1338.7 1268.1,1378.6 1248.4,1369.0" fill="#C2A688" stroke="#fff" stroke-width="4.2" stroke-linejoin="round" />
<polygon points="1668.6,653.0 1659.4,669.5 1661.9,686.6 1671.2,668.9" fill="#C2A688" stroke="#fff" stroke-width="4.2" stroke-linejoin="round" />
<polygon points="1659.4,669.5 1621.5,691.0 1621.7,709.4 1661.9,686.6" fill="#C2A688" stroke="#fff" stroke-width="4.2" stroke-linejoin="round" />
<polygon points="1621.5,691.0 1599.9,680.6 1598.0,698.0 1621.7,709.4" fill="#C2A688" stroke="#fff" stroke-width="4.2" stroke-linejoin="round" />
<polygon points="1599.9,680.6 1587.5,653.5 1583.7,668.4 1598.0,698.0" fill="#C2A688" stroke="#fff" stroke-width="4.2" stroke-linejoin="round" />
<polygon points="1587.5,653.5 1658.3,637.6 1668.6,653.0 1659.4,669.5 1621.5,691.0 1599.9,680.6" fill="#C2A688" stroke="#fff" stroke-width="4.2" stroke-linejoin="round" />
<polygon points="1542.0,680.7 1487.1,704.0 1488.8,720.6 1547.6,696.1" fill="#C2A688" stroke="#fff" stroke-width="4.2" stroke-linejoin="round" />
<polygon points="1487.1,704.0 1467.1,672.6 1466.2,686.5 1488.8,720.6" fill="#C2A688" stroke="#fff" stroke-width="4.2" stroke-linejoin="round" />
<polygon points="1467.1,672.6 1506.7,657.2 1536.0,665.7 1542.0,680.7 1487.1,704.0" fill="#C2A688" stroke="#fff" stroke-width="4.2" stroke-linejoin="round" />
<polygon points="1371.0,1481.7 1388.3,1485.2 1402.7,1471.3 1383.5,1467.3" fill="#C2A688" stroke="#fff" stroke-width="4.2" stroke-linejoin="round" />
<polygon points="1388.3,1485.2 1420.4,1544.7 1437.4,1534.9 1402.7,1471.3" fill="#C2A688" stroke="#fff" stroke-width="4.2" stroke-linejoin="round" />
<polygon points="1376.2,1530.6 1365.8,1496.9 1371.0,1481.7 1388.3,1485.2 1420.4,1544.7 1397.9,1542.5" fill="#C2A688" stroke="#fff" stroke-width="4.2" stroke-linejoin="round" />
<polygon points="1899.4,687.8 1873.0,711.1 1871.8,731.0 1898.9,706.1" fill="#C2A688" stroke="#fff" stroke-width="4.2" stroke-linejoin="round" />
<polygon points="1873.0,711.1 1831.1,700.4 1826.3,719.1 1871.8,731.0" fill="#C2A688" stroke="#fff" stroke-width="4.2" stroke-linejoin="round" />
<polygon points="1831.1,700.4 1808.0,688.0 1800.9,705.5 1826.3,719.1" fill="#C2A688" stroke="#fff" stroke-width="4.2" stroke-linejoin="round" />
<polygon points="1808.0,688.0 1844.1,677.0 1874.1,678.3 1899.4,687.8 1873.0,711.1 1831.1,700.4" fill="#C2A688" stroke="#fff" stroke-width="4.2" stroke-linejoin="round" />
<polygon points="1182.7,1009.4 1178.8,1005.2 1190.5,1003.2 1194.9,1007.8" fill="#C2A688" stroke="#fff" stroke-width="4.2" stroke-linejoin="round" />
<polygon points="1197.3,1078.8 1211.4,1040.9 1226.7,1041.9 1211.8,1082.1" fill="#C2A688" stroke="#fff" stroke-width="4.2" stroke-linejoin="round" />
<polygon points="1211.4,1040.9 1182.7,1009.4 1194.9,1007.8 1226.7,1041.9" fill="#C2A688" stroke="#fff" stroke-width="4.2" stroke-linejoin="round" />
<polygon points="1182.7,1009.4 1178.8,1005.2 1164.8,1043.8 1168.0,1047.3 1197.3,1078.8 1211.4,1040.9" fill="#C2A688" stroke="#fff" stroke-width="4.2" stroke-linejoin="round" />
<polygon points="1972.9,723.1 1958.3,733.2 1955.3,752.9 1970.4,742.1" fill="#C2A688" stroke="#fff" stroke-width="4.2" stroke-linejoin="round" />
<polygon points="1958.3,733.2 1910.1,717.9 1902.9,736.1 1955.3,752.9" fill="#C2A688" stroke="#fff" stroke-width="4.2" stroke-linejoin="round" />
<polygon points="1910.1,717.9 1932.9,700.5 1955.3,707.7 1972.9,723.1 1958.3,733.2" fill="#C2A688" stroke="#fff" stroke-width="4.2" stroke-linejoin="round" />
<polygon points="1294.8,794.1 1298.5,796.1 1304.6,805.7 1300.4,803.3" fill="#C2A688" stroke="#fff" stroke-width="4.2" stroke-linejoin="round" />
<polygon points="1298.5,796.1 1324.1,826.1 1333.1,838.3 1304.6,805.7" fill="#C2A688" stroke="#fff" stroke-width="4.2" stroke-linejoin="round" />
<polygon points="1324.1,826.1 1349.7,793.3 1360.3,803.5 1333.1,838.3" fill="#C2A688" stroke="#fff" stroke-width="4.2" stroke-linejoin="round" />
<polygon points="1349.7,793.3 1324.5,763.8 1332.2,771.5 1360.3,803.5" fill="#C2A688" stroke="#fff" stroke-width="4.2" stroke-linejoin="round" />
<polygon points="1324.5,763.8 1320.1,761.1 1294.8,794.1 1298.5,796.1 1324.1,826.1 1349.7,793.3" fill="#C2A688" stroke="#fff" stroke-width="4.2" stroke-linejoin="round" />
<polygon points="1293.3,1346.7 1310.1,1368.6 1324.2,1358.8 1305.7,1335.1" fill="#C2A688" stroke="#fff" stroke-width="4.2" stroke-linejoin="round" />
<polygon points="1310.1,1368.6 1327.5,1364.4 1343.4,1354.8 1324.2,1358.8" fill="#C2A688" stroke="#fff" stroke-width="4.2" stroke-linejoin="round" />
<polygon points="1327.5,1364.4 1330.9,1414.5 1347.0,1407.9 1343.4,1354.8" fill="#C2A688" stroke="#fff" stroke-width="4.2" stroke-linejoin="round" />
<polygon points="1293.1,1390.5 1293.3,1346.7 1310.1,1368.6 1327.5,1364.4 1330.9,1414.5 1313.9,1420.7" fill="#C2A688" stroke="#fff" stroke-width="4.2" stroke-linejoin="round" />
<polygon points="1244.3,881.2 1240.2,877.7 1250.0,880.5 1254.6,884.4" fill="#C2A688" stroke="#fff" stroke-width="4.2" stroke-linejoin="round" />
<polygon points="1250.5,948.7 1271.0,912.1 1284.3,917.9 1262.5,956.7" fill="#C2A688" stroke="#fff" stroke-width="4.2" stroke-linejoin="round" />
<polygon points="1271.0,912.1 1244.3,881.2 1254.6,884.4 1284.3,917.9" fill="#C2A688" stroke="#fff" stroke-width="4.2" stroke-linejoin="round" />
<polygon points="1244.3,881.2 1240.2,877.7 1219.8,914.8 1223.2,917.6 1250.5,948.7 1271.0,912.1" fill="#C2A688" stroke="#fff" stroke-width="4.2" stroke-linejoin="round" />
<polygon points="1203.8,1111.2 1229.2,1116.2 1243.9,1112.9 1216.1,1107.1" fill="#C2A688" stroke="#fff" stroke-width="4.2" stroke-linejoin="round" />
<polygon points="1229.2,1116.2 1240.7,1136.0 1256.6,1134.2 1243.9,1112.9" fill="#C2A688" stroke="#fff" stroke-width="4.2" stroke-linejoin="round" />
<polygon points="1240.7,1136.0 1212.6,1178.3 1226.3,1178.7 1256.6,1134.2" fill="#C2A688" stroke="#fff" stroke-width="4.2" stroke-linejoin="round" />
<polygon points="1182.8,1140.8 1203.8,1111.2 1229.2,1116.2 1240.7,1136.0 1212.6,1178.3" fill="#C2A688" stroke="#fff" stroke-width="4.2" stroke-linejoin="round" />
<polygon points="1438.3,752.6 1445.0,769.8 1454.1,781.7 1446.4,763.2" fill="#C2A688" stroke="#fff" stroke-width="4.2" stroke-linejoin="round" />
<polygon points="1445.0,769.8 1393.5,802.5 1398.9,816.1 1454.1,781.7" fill="#C2A688" stroke="#fff" stroke-width="4.2" stroke-linejoin="round" />
<polygon points="1393.5,802.5 1372.2,767.9 1374.9,778.6 1398.9,816.1" fill="#C2A688" stroke="#fff" stroke-width="4.2" stroke-linejoin="round" />
<polygon points="1372.2,767.9 1409.5,745.7 1438.3,752.6 1445.0,769.8 1393.5,802.5" fill="#C2A688" stroke="#fff" stroke-width="4.2" stroke-linejoin="round" />
<polygon points="1725.4,699.6 1684.6,727.0 1686.1,744.8 1729.2,715.7" fill="#C2A688" stroke="#fff" stroke-width="4.2" stroke-linejoin="round" />
<polygon points="1684.6,727.0 1650.5,727.0 1649.2,744.5 1686.1,744.8" fill="#C2A688" stroke="#fff" stroke-width="4.2" stroke-linejoin="round" />
<polygon points="1650.5,727.0 1649.0,703.9 1646.8,719.4 1649.2,744.5" fill="#C2A688" stroke="#fff" stroke-width="4.2" stroke-linejoin="round" />
<polygon points="1649.0,703.9 1689.5,680.7 1695.9,696.4 1725.4,699.6 1684.6,727.0 1650.5,727.0" fill="#C2A688" stroke="#fff" stroke-width="4.2" stroke-linejoin="round" />
<polygon points="1261.7,1161.7 1277.9,1183.9 1293.0,1178.5 1275.2,1154.4" fill="#C2A688" stroke="#fff" stroke-width="4.2" stroke-linejoin="round" />
<polygon points="1277.9,1183.9 1282.6,1214.9 1298.3,1211.5 1293.0,1178.5" fill="#C2A688" stroke="#fff" stroke-width="4.2" stroke-linejoin="round" />
<polygon points="1282.6,1214.9 1272.8,1259.3 1288.0,1258.5 1298.3,1211.5" fill="#C2A688" stroke="#fff" stroke-width="4.2" stroke-linejoin="round" />
<polygon points="1227.2,1213.2 1261.7,1161.7 1277.9,1183.9 1282.6,1214.9 1272.8,1259.3 1252.6,1249.9" fill="#C2A688" stroke="#fff" stroke-width="4.2" stroke-linejoin="round" />
<polygon points="1567.7,719.6 1559.0,741.7 1565.1,755.9 1574.0,732.3" fill="#C2A688" stroke="#fff" stroke-width="4.2" stroke-linejoin="round" />
<polygon points="1559.0,741.7 1522.7,773.0 1526.6,789.1 1565.1,755.9" fill="#C2A688" stroke="#fff" stroke-width="4.2" stroke-linejoin="round" />
<polygon points="1522.7,773.0 1501.2,763.1 1503.1,778.2 1526.6,789.1" fill="#C2A688" stroke="#fff" stroke-width="4.2" stroke-linejoin="round" />
<polygon points="1501.2,763.1 1487.9,731.7 1487.9,744.1 1503.1,778.2" fill="#C2A688" stroke="#fff" stroke-width="4.2" stroke-linejoin="round" />
<polygon points="1487.9,731.7 1557.3,701.7 1567.7,719.6 1559.0,741.7 1522.7,773.0 1501.2,763.1" fill="#C2A688" stroke="#fff" stroke-width="4.2" stroke-linejoin="round" />
<polygon points="1252.7,980.7 1279.5,985.8 1292.8,987.3 1263.5,981.4" fill="#C2A688" stroke="#fff" stroke-width="4.2" stroke-linejoin="round" />
<polygon points="1279.5,985.8 1289.0,1005.5 1303.4,1008.5 1292.8,987.3" fill="#C2A688" stroke="#fff" stroke-width="4.2" stroke-linejoin="round" />
<polygon points="1289.0,1005.5 1251.5,1048.1 1263.1,1053.3 1303.4,1008.5" fill="#C2A688" stroke="#fff" stroke-width="4.2" stroke-linejoin="round" />
<polygon points="1225.0,1010.3 1252.7,980.7 1279.5,985.8 1289.0,1005.5 1251.5,1048.1" fill="#C2A688" stroke="#fff" stroke-width="4.2" stroke-linejoin="round" />
<polygon points="1350.9,861.8 1358.7,880.6 1370.8,888.2 1361.9,868.0" fill="#C2A688" stroke="#fff" stroke-width="4.2" stroke-linejoin="round" />
<polygon points="1358.7,880.6 1313.2,919.9 1322.0,929.6 1370.8,888.2" fill="#C2A688" stroke="#fff" stroke-width="4.2" stroke-linejoin="round" />
<polygon points="1289.6,883.1 1322.9,856.0 1350.9,861.8 1358.7,880.6 1313.2,919.9" fill="#C2A688" stroke="#fff" stroke-width="4.2" stroke-linejoin="round" />
<polygon points="1410.9,1489.0 1423.9,1487.9 1436.7,1475.0 1422.3,1475.9" fill="#C2A688" stroke="#fff" stroke-width="4.2" stroke-linejoin="round" />
<polygon points="1423.9,1487.9 1450.2,1511.0 1465.6,1500.1 1436.7,1475.0" fill="#C2A688" stroke="#fff" stroke-width="4.2" stroke-linejoin="round" />
<polygon points="1450.2,1511.0 1465.0,1543.5 1481.7,1534.8 1465.6,1500.1" fill="#C2A688" stroke="#fff" stroke-width="4.2" stroke-linejoin="round" />
<polygon points="1435.9,1540.1 1410.9,1489.0 1423.9,1487.9 1450.2,1511.0 1465.0,1543.5" fill="#C2A688" stroke="#fff" stroke-width="4.2" stroke-linejoin="round" />
<polygon points="1364.1,1369.2 1383.2,1371.5 1398.6,1361.2 1377.5,1358.4" fill="#C2A688" stroke="#fff" stroke-width="4.2" stroke-linejoin="round" />
<polygon points="1383.2,1371.5 1402.7,1439.9 1420.0,1434.3 1398.6,1361.2" fill="#C2A688" stroke="#fff" stroke-width="4.2" stroke-linejoin="round" />
<polygon points="1354.4,1429.1 1353.4,1388.1 1364.1,1369.2 1383.2,1371.5 1402.7,1439.9 1376.4,1440.8" fill="#C2A688" stroke="#fff" stroke-width="4.2" stroke-linejoin="round" />
<polygon points="1800.5,720.5 1772.2,759.3 1774.6,777.9 1803.8,736.4" fill="#C2A688" stroke="#fff" stroke-width="4.2" stroke-linejoin="round" />
<polygon points="1772.2,759.3 1730.1,753.2 1728.9,770.9 1774.6,777.9" fill="#C2A688" stroke="#fff" stroke-width="4.2" stroke-linejoin="round" />
<polygon points="1730.1,753.2 1707.0,741.2 1703.5,757.6 1728.9,770.9" fill="#C2A688" stroke="#fff" stroke-width="4.2" stroke-linejoin="round" />
<polygon points="1707.0,741.2 1743.9,718.7 1774.8,713.2 1800.5,720.5 1772.2,759.3 1730.1,753.2" fill="#C2A688" stroke="#fff" stroke-width="4.2" stroke-linejoin="round" />
<polygon points="1308.7,1222.3 1322.8,1245.3 1336.8,1239.9 1321.3,1215.1" fill="#C2A688" stroke="#fff" stroke-width="4.2" stroke-linejoin="round" />
<polygon points="1322.8,1245.3 1343.4,1239.9 1359.4,1234.5 1336.8,1239.9" fill="#C2A688" stroke="#fff" stroke-width="4.2" stroke-linejoin="round" />
<polygon points="1343.4,1239.9 1335.7,1295.1 1351.2,1293.1 1359.4,1234.5" fill="#C2A688" stroke="#fff" stroke-width="4.2" stroke-linejoin="round" />
<polygon points="1335.7,1295.1 1314.6,1303.5 1328.2,1301.5 1351.2,1293.1" fill="#C2A688" stroke="#fff" stroke-width="4.2" stroke-linejoin="round" />
<polygon points="1298.4,1270.8 1308.7,1222.3 1322.8,1245.3 1343.4,1239.9 1335.7,1295.1 1314.6,1303.5" fill="#C2A688" stroke="#fff" stroke-width="4.2" stroke-linejoin="round" />
<polygon points="1308.0,1031.1 1322.1,1053.4 1336.2,1052.6 1320.5,1028.6" fill="#C2A688" stroke="#fff" stroke-width="4.2" stroke-linejoin="round" />
<polygon points="1322.1,1053.4 1322.1,1084.6 1336.6,1085.9 1336.2,1052.6" fill="#C2A688" stroke="#fff" stroke-width="4.2" stroke-linejoin="round" />
<polygon points="1322.1,1084.6 1303.5,1130.3 1316.9,1134.3 1336.6,1085.9" fill="#C2A688" stroke="#fff" stroke-width="4.2" stroke-linejoin="round" />
<polygon points="1261.4,1083.5 1308.0,1031.1 1322.1,1053.4 1322.1,1084.6 1303.5,1130.3 1282.9,1120.9" fill="#C2A688" stroke="#fff" stroke-width="4.2" stroke-linejoin="round" />
<polygon points="1460.9,793.0 1472.1,813.0 1481.7,821.7 1469.1,800.1" fill="#C2A688" stroke="#fff" stroke-width="4.2" stroke-linejoin="round" />
<polygon points="1472.1,813.0 1465.2,839.6 1474.7,850.1 1481.7,821.7" fill="#C2A688" stroke="#fff" stroke-width="4.2" stroke-linejoin="round" />
<polygon points="1465.2,839.6 1432.8,878.5 1440.4,891.4 1474.7,850.1" fill="#C2A688" stroke="#fff" stroke-width="4.2" stroke-linejoin="round" />
<polygon points="1432.8,878.5 1411.5,869.0 1417.0,880.8 1440.4,891.4" fill="#C2A688" stroke="#fff" stroke-width="4.2" stroke-linejoin="round" />
<polygon points="1411.5,869.0 1396.4,834.2 1399.8,843.2 1417.0,880.8" fill="#C2A688" stroke="#fff" stroke-width="4.2" stroke-linejoin="round" />
<polygon points="1396.4,834.2 1460.9,793.0 1472.1,813.0 1465.2,839.6 1432.8,878.5 1411.5,869.0" fill="#C2A688" stroke="#fff" stroke-width="4.2" stroke-linejoin="round" />
<polygon points="1874.6,752.3 1858.6,770.8 1859.2,789.7 1875.8,769.8" fill="#C2A688" stroke="#fff" stroke-width="4.2" stroke-linejoin="round" />
<polygon points="1858.6,770.8 1809.8,760.7 1806.2,778.2 1859.2,789.7" fill="#C2A688" stroke="#fff" stroke-width="4.2" stroke-linejoin="round" />
<polygon points="1809.8,760.7 1834.5,729.9 1857.5,734.3 1874.6,752.3 1858.6,770.8" fill="#C2A688" stroke="#fff" stroke-width="4.2" stroke-linejoin="round" />
<polygon points="1588.9,751.4 1595.6,770.1 1600.6,782.5 1592.8,762.4" fill="#C2A688" stroke="#fff" stroke-width="4.2" stroke-linejoin="round" />
<polygon points="1624.7,769.8 1585.8,808.9 1590.9,824.2 1632.2,782.7" fill="#C2A688" stroke="#fff" stroke-width="4.2" stroke-linejoin="round" />
<polygon points="1585.8,808.9 1552.6,813.0 1555.1,828.1 1590.9,824.2" fill="#C2A688" stroke="#fff" stroke-width="4.2" stroke-linejoin="round" />
<polygon points="1550.0,785.3 1588.9,751.4 1595.6,770.1 1624.7,769.8 1585.8,808.9 1552.6,813.0" fill="#C2A688" stroke="#fff" stroke-width="4.2" stroke-linejoin="round" />
<polygon points="1375.9,905.4 1388.3,926.8 1400.6,930.9 1386.7,907.8" fill="#C2A688" stroke="#fff" stroke-width="4.2" stroke-linejoin="round" />
<polygon points="1388.3,926.8 1384.4,956.6 1396.7,962.7 1400.6,930.9" fill="#C2A688" stroke="#fff" stroke-width="4.2" stroke-linejoin="round" />
<polygon points="1384.4,956.6 1358.1,1000.4 1368.8,1009.1 1396.7,962.7" fill="#C2A688" stroke="#fff" stroke-width="4.2" stroke-linejoin="round" />
<polygon points="1358.1,1000.4 1337.1,991.0 1345.8,998.7 1368.8,1009.1" fill="#C2A688" stroke="#fff" stroke-width="4.2" stroke-linejoin="round" />
<polygon points="1319.2,954.2 1375.9,905.4 1388.3,926.8 1384.4,956.6 1358.1,1000.4 1337.1,991.0" fill="#C2A688" stroke="#fff" stroke-width="4.2" stroke-linejoin="round" />
<polygon points="1349.6,1091.9 1361.1,1115.1 1374.0,1114.4 1361.1,1089.3" fill="#C2A688" stroke="#fff" stroke-width="4.2" stroke-linejoin="round" />
<polygon points="1384.7,1109.4 1366.4,1166.1 1380.4,1168.8 1399.7,1108.8" fill="#C2A688" stroke="#fff" stroke-width="4.2" stroke-linejoin="round" />
<polygon points="1366.4,1166.1 1341.5,1175.4 1353.3,1178.3 1380.4,1168.8" fill="#C2A688" stroke="#fff" stroke-width="4.2" stroke-linejoin="round" />
<polygon points="1329.6,1141.7 1349.6,1091.9 1361.1,1115.1 1384.7,1109.4 1366.4,1166.1 1341.5,1175.4" fill="#C2A688" stroke="#fff" stroke-width="4.2" stroke-linejoin="round" />
<polygon points="1383.5,1243.4 1404.4,1245.1 1419.9,1239.1 1396.9,1236.9" fill="#C2A688" stroke="#fff" stroke-width="4.2" stroke-linejoin="round" />
<polygon points="1404.4,1245.1 1411.3,1318.6 1428.0,1317.5 1419.9,1239.1" fill="#C2A688" stroke="#fff" stroke-width="4.2" stroke-linejoin="round" />
<polygon points="1358.9,1309.9 1367.4,1264.3 1383.5,1243.4 1404.4,1245.1 1411.3,1318.6 1381.1,1321.3" fill="#C2A688" stroke="#fff" stroke-width="4.2" stroke-linejoin="round" />
<polygon points="1494.6,848.1 1502.3,869.1 1510.6,877.6 1501.7,855.0" fill="#C2A688" stroke="#fff" stroke-width="4.2" stroke-linejoin="round" />
<polygon points="1530.3,866.1 1495.9,914.4 1504.5,926.1 1540.9,874.9" fill="#C2A688" stroke="#fff" stroke-width="4.2" stroke-linejoin="round" />
<polygon points="1495.9,914.4 1464.7,921.5 1470.8,933.2 1504.5,926.1" fill="#C2A688" stroke="#fff" stroke-width="4.2" stroke-linejoin="round" />
<polygon points="1459.9,890.4 1494.6,848.1 1502.3,869.1 1530.3,866.1 1495.9,914.4 1464.7,921.5" fill="#C2A688" stroke="#fff" stroke-width="4.2" stroke-linejoin="round" />
<polygon points="1408.3,1373.7 1423.7,1371.3 1437.0,1362.3 1420.1,1364.6" fill="#C2A688" stroke="#fff" stroke-width="4.2" stroke-linejoin="round" />
<polygon points="1423.7,1371.3 1447.8,1395.6 1463.6,1388.8 1437.0,1362.3" fill="#C2A688" stroke="#fff" stroke-width="4.2" stroke-linejoin="round" />
<polygon points="1447.8,1395.6 1455.9,1432.5 1472.5,1428.0 1463.6,1388.8" fill="#C2A688" stroke="#fff" stroke-width="4.2" stroke-linejoin="round" />
<polygon points="1422.6,1432.0 1408.3,1373.7 1423.7,1371.3 1447.8,1395.6 1455.9,1432.5" fill="#C2A688" stroke="#fff" stroke-width="4.2" stroke-linejoin="round" />
<polygon points="1699.5,784.7 1672.6,837.3 1678.8,853.3 1706.4,797.3" fill="#C2A688" stroke="#fff" stroke-width="4.2" stroke-linejoin="round" />
<polygon points="1672.6,837.3 1631.2,835.2 1633.8,850.5 1678.8,853.3" fill="#C2A688" stroke="#fff" stroke-width="4.2" stroke-linejoin="round" />
<polygon points="1631.2,835.2 1608.2,823.4 1608.5,837.5 1633.8,850.5" fill="#C2A688" stroke="#fff" stroke-width="4.2" stroke-linejoin="round" />
<polygon points="1608.2,823.4 1643.5,791.0 1673.9,779.5 1699.5,784.7 1672.6,837.3 1631.2,835.2" fill="#C2A688" stroke="#fff" stroke-width="4.2" stroke-linejoin="round" />
<polygon points="1413.0,964.2 1422.4,986.8 1433.3,990.8 1422.7,966.5" fill="#C2A688" stroke="#fff" stroke-width="4.2" stroke-linejoin="round" />
<polygon points="1448.4,981.9 1421.1,1036.2 1432.7,1043.7 1461.6,986.1" fill="#C2A688" stroke="#fff" stroke-width="4.2" stroke-linejoin="round" />
<polygon points="1421.1,1036.2 1392.7,1045.1 1401.9,1052.7 1432.7,1043.7" fill="#C2A688" stroke="#fff" stroke-width="4.2" stroke-linejoin="round" />
<polygon points="1384.7,1011.9 1413.0,964.2 1422.4,986.8 1448.4,981.9 1421.1,1036.2 1392.7,1045.1" fill="#C2A688" stroke="#fff" stroke-width="4.2" stroke-linejoin="round" />
<polygon points="1773.5,813.5 1757.9,839.6 1762.2,856.3 1778.4,828.4" fill="#C2A688" stroke="#fff" stroke-width="4.2" stroke-linejoin="round" />
<polygon points="1757.9,839.6 1709.5,833.9 1709.7,849.6 1762.2,856.3" fill="#C2A688" stroke="#fff" stroke-width="4.2" stroke-linejoin="round" />
<polygon points="1709.5,833.9 1733.4,791.2 1756.4,793.0 1773.5,813.5 1757.9,839.6" fill="#C2A688" stroke="#fff" stroke-width="4.2" stroke-linejoin="round" />
<polygon points="1427.9,1112.8 1450.5,1114.5 1465.1,1113.3 1440.4,1111.1" fill="#C2A688" stroke="#fff" stroke-width="4.2" stroke-linejoin="round" />
<polygon points="1450.5,1114.5 1445.8,1188.9 1460.8,1192.6 1465.1,1113.3" fill="#C2A688" stroke="#fff" stroke-width="4.2" stroke-linejoin="round" />
<polygon points="1445.8,1188.9 1411.9,1192.3 1423.9,1195.6 1460.8,1192.6" fill="#C2A688" stroke="#fff" stroke-width="4.2" stroke-linejoin="round" />
<polygon points="1389.4,1180.9 1406.8,1134.0 1427.9,1112.8 1450.5,1114.5 1445.8,1188.9 1411.9,1192.3" fill="#C2A688" stroke="#fff" stroke-width="4.2" stroke-linejoin="round" />
<polygon points="1603.2,876.2 1581.0,939.7 1590.6,952.3 1613.4,884.6" fill="#C2A688" stroke="#fff" stroke-width="4.2" stroke-linejoin="round" />
<polygon points="1581.0,939.7 1541.4,940.7 1547.6,952.7 1590.6,952.3" fill="#C2A688" stroke="#fff" stroke-width="4.2" stroke-linejoin="round" />
<polygon points="1541.4,940.7 1518.4,929.1 1522.4,939.9 1547.6,952.7" fill="#C2A688" stroke="#fff" stroke-width="4.2" stroke-linejoin="round" />
<polygon points="1518.4,929.1 1549.8,889.0 1578.2,872.7 1603.2,876.2 1581.0,939.7 1541.4,940.7" fill="#C2A688" stroke="#fff" stroke-width="4.2" stroke-linejoin="round" />
<polygon points="1518.3,988.7 1503.6,1059.6 1516.3,1068.0 1531.1,992.4" fill="#C2A688" stroke="#fff" stroke-width="4.2" stroke-linejoin="round" />
<polygon points="1503.6,1059.6 1466.5,1062.5 1475.9,1070.4 1516.3,1068.0" fill="#C2A688" stroke="#fff" stroke-width="4.2" stroke-linejoin="round" />
<polygon points="1466.5,1062.5 1443.8,1051.0 1451.0,1057.7 1475.9,1070.4" fill="#C2A688" stroke="#fff" stroke-width="4.2" stroke-linejoin="round" />
<polygon points="1443.8,1051.0 1469.0,1006.0 1494.3,986.4 1518.3,988.7 1503.6,1059.6 1466.5,1062.5" fill="#C2A688" stroke="#fff" stroke-width="4.2" stroke-linejoin="round" />
<polygon points="1432.0,1246.5 1449.6,1243.4 1462.5,1239.0 1443.3,1241.9" fill="#C2A688" stroke="#fff" stroke-width="4.2" stroke-linejoin="round" />
<polygon points="1449.6,1243.4 1471.7,1268.4 1486.9,1266.0 1462.5,1239.0" fill="#C2A688" stroke="#fff" stroke-width="4.2" stroke-linejoin="round" />
<polygon points="1471.7,1268.4 1473.1,1307.4 1488.7,1307.7 1486.9,1266.0" fill="#C2A688" stroke="#fff" stroke-width="4.2" stroke-linejoin="round" />
<polygon points="1435.8,1308.6 1432.0,1246.5 1449.6,1243.4 1471.7,1268.4 1473.1,1307.4" fill="#C2A688" stroke="#fff" stroke-width="4.2" stroke-linejoin="round" />
<polygon points="1676.4,902.4 1662.9,934.7 1670.9,948.3 1684.7,913.7" fill="#C2A688" stroke="#fff" stroke-width="4.2" stroke-linejoin="round" />
<polygon points="1662.9,934.7 1616.1,932.6 1620.0,945.4 1670.9,948.3" fill="#C2A688" stroke="#fff" stroke-width="4.2" stroke-linejoin="round" />
<polygon points="1616.1,932.6 1636.4,880.3 1658.7,879.9 1676.4,902.4 1662.9,934.7" fill="#C2A688" stroke="#fff" stroke-width="4.2" stroke-linejoin="round" />
<polygon points="1499.9,1113.0 1520.2,1137.9 1533.9,1140.3 1511.4,1113.4" fill="#C2A688" stroke="#fff" stroke-width="4.2" stroke-linejoin="round" />
<polygon points="1520.2,1137.9 1515.5,1176.9 1529.3,1181.9 1533.9,1140.3" fill="#C2A688" stroke="#fff" stroke-width="4.2" stroke-linejoin="round" />
<polygon points="1515.5,1176.9 1474.4,1178.4 1484.5,1182.7 1529.3,1181.9" fill="#C2A688" stroke="#fff" stroke-width="4.2" stroke-linejoin="round" />
<polygon points="1474.4,1178.4 1480.4,1116.0 1499.9,1113.0 1520.2,1137.9 1515.5,1176.9" fill="#C2A688" stroke="#fff" stroke-width="4.2" stroke-linejoin="round" />
<polygon points="1571.3,989.0 1590.0,1013.0 1601.4,1020.1 1580.5,994.2" fill="#C2A688" stroke="#fff" stroke-width="4.2" stroke-linejoin="round" />
<polygon points="1590.0,1013.0 1580.3,1049.8 1591.4,1059.3 1601.4,1020.1" fill="#C2A688" stroke="#fff" stroke-width="4.2" stroke-linejoin="round" />
<polygon points="1580.3,1049.8 1535.9,1050.1 1543.1,1059.0 1591.4,1059.3" fill="#C2A688" stroke="#fff" stroke-width="4.2" stroke-linejoin="round" />
<polygon points="1535.9,1050.1 1550.1,991.1 1571.3,989.0 1590.0,1013.0 1580.3,1049.8" fill="#C2A688" stroke="#fff" stroke-width="4.2" stroke-linejoin="round" />
<polygon points="1578.5,1706.7 1579.9,1707.1 1581.6,1707.7 1583.5,1708.4 1585.6,1709.1 1587.9,1710.0 1590.4,1710.8 1593.1,1711.5 1596.0,1712.1 1598.9,1712.6 1602.0,1712.9 1605.2,1712.9 1608.5,1712.7 1611.9,1712.1 1615.3,1711.1 1618.7,1709.7 1622.2,1707.8 1625.7,1705.4 1629.1,1702.4 1632.5,1698.8 1635.9,1694.6 1639.2,1689.6 1642.5,1683.8 1645.6,1677.3 1648.7,1669.9 1648.7,1669.9 1644.1,1676.6 1639.6,1682.2 1635.2,1686.8 1631.0,1690.5 1627.0,1693.3 1623.4,1695.3 1620.1,1696.6 1617.2,1697.4 1614.6,1697.7 1612.3,1697.6 1610.2,1697.4 1608.3,1697.0 1606.4,1696.4 1604.5,1695.7 1602.7,1695.0 1600.8,1694.1 1598.9,1693.2 1597.0,1692.2 1595.1,1691.2 1593.2,1690.2 1591.3,1689.2 1589.4,1688.3 1587.3,1687.5 1585.6,1686.9" fill="#C2A688" stroke="none" stroke-width="0" stroke-linejoin="round" />
<path d="M1585.6,1686.9 L1587.3,1687.5 L1589.4,1688.3 L1591.3,1689.2 L1593.2,1690.2 L1595.1,1691.2 L1597.0,1692.2 L1598.9,1693.2 L1600.8,1694.1 L1602.7,1695.0 L1604.5,1695.7 L1606.4,1696.4 L1608.3,1697.0 L1610.2,1697.4 L1612.3,1697.6 L1614.6,1697.7 L1617.2,1697.4 L1620.1,1696.6 L1623.4,1695.3 L1627.0,1693.3 L1631.0,1690.5 L1635.2,1686.8 L1639.6,1682.2 L1644.1,1676.6 L1648.7,1669.9" fill="none" stroke="#fff" stroke-width="4.2" stroke-linejoin="round" stroke-linecap="round" />
<path d="M1578.5,1706.7 L1585.6,1686.9" fill="none" stroke="#fff" stroke-width="4.2" stroke-linejoin="round" stroke-linecap="round" />
<polygon points="1578.5,1706.7 1579.9,1707.1 1581.6,1707.7 1583.5,1708.4 1585.6,1709.1 1587.9,1710.0 1590.4,1710.8 1593.1,1711.5 1596.0,1712.1 1598.9,1712.6 1602.0,1712.9 1605.2,1712.9 1608.5,1712.7 1611.9,1712.1 1615.3,1711.1 1618.7,1709.7 1622.2,1707.8 1625.7,1705.4 1629.1,1702.4 1632.5,1698.8 1635.9,1694.6 1639.2,1689.6 1642.5,1683.8 1645.6,1677.3 1648.7,1669.9 1670.2,1686.4 1667.6,1691.4 1665.0,1696.1 1662.3,1700.5 1659.6,1704.5 1656.9,1708.3 1654.1,1711.8 1651.3,1714.9 1648.5,1717.7 1645.7,1720.2 1642.9,1722.4 1640.0,1724.2 1637.1,1725.7 1634.2,1726.9 1631.3,1727.7 1628.4,1728.2 1625.5,1728.4 1622.6,1728.2 1619.7,1727.6 1616.7,1726.7 1613.8,1725.4 1610.9,1723.8 1607.9,1721.8 1605.0,1719.4 1602.0,1716.7" fill="#C2A688" stroke="none" stroke-width="0" stroke-linejoin="round" />
<path d="M1578.5,1706.7 L1579.9,1707.1 L1581.6,1707.7 L1583.5,1708.4 L1585.6,1709.1 L1587.9,1710.0 L1590.4,1710.8 L1593.1,1711.5 L1596.0,1712.1 L1598.9,1712.6 L1602.0,1712.9 L1605.2,1712.9 L1608.5,1712.7 L1611.9,1712.1 L1615.3,1711.1 L1618.7,1709.7 L1622.2,1707.8 L1625.7,1705.4 L1629.1,1702.4 L1632.5,1698.8 L1635.9,1694.6 L1639.2,1689.6 L1642.5,1683.8 L1645.6,1677.3 L1648.7,1669.9" fill="none" stroke="#fff" stroke-width="4.2" stroke-linejoin="round" stroke-linecap="round" />
<path d="M1602.0,1716.7 L1605.0,1719.4 L1607.9,1721.8 L1610.9,1723.8 L1613.8,1725.4 L1616.7,1726.7 L1619.7,1727.6 L1622.6,1728.2 L1625.5,1728.4 L1628.4,1728.2 L1631.3,1727.7 L1634.2,1726.9 L1637.1,1725.7 L1640.0,1724.2 L1642.9,1722.4 L1645.7,1720.2 L1648.5,1717.7 L1651.3,1714.9 L1654.1,1711.8 L1656.9,1708.3 L1659.6,1704.5 L1662.3,1700.5 L1665.0,1696.1 L1667.6,1691.4 L1670.2,1686.4" fill="none" stroke="#fff" stroke-width="4.2" stroke-linejoin="round" stroke-linecap="round" />
<path d="M1578.5,1706.7 L1602.0,1716.7" fill="none" stroke="#fff" stroke-width="4.2" stroke-linejoin="round" stroke-linecap="round" />
<polygon points="1514.8,1652.7 1516.5,1652.7 1518.5,1652.9 1520.7,1653.3 1523.2,1653.7 1525.8,1654.2 1528.6,1654.7 1531.6,1655.2 1534.8,1655.6 1538.1,1655.9 1541.5,1656.0 1545.1,1656.0 1548.7,1655.6 1552.5,1655.0 1556.4,1654.1 1560.3,1652.8 1564.3,1651.0 1568.3,1648.8 1572.3,1646.2 1576.4,1642.9 1580.5,1639.1 1584.5,1634.6 1588.6,1629.5 1592.6,1623.6 1596.5,1617.0 1596.5,1617.0 1591.0,1622.9 1585.6,1627.8 1580.5,1631.9 1575.6,1635.2 1571.1,1637.6 1566.9,1639.4 1563.2,1640.6 1559.9,1641.3 1557.1,1641.6 1554.5,1641.7 1552.2,1641.6 1550.0,1641.4 1547.9,1641.0 1545.8,1640.6 1543.7,1640.0 1541.6,1639.4 1539.5,1638.8 1537.4,1638.1 1535.3,1637.5 1533.1,1636.8 1530.9,1636.2 1528.7,1635.6 1526.4,1635.1 1524.4,1634.9" fill="#C2A688" stroke="none" stroke-width="0" stroke-linejoin="round" />
<path d="M1524.4,1634.9 L1526.4,1635.1 L1528.7,1635.6 L1530.9,1636.2 L1533.1,1636.8 L1535.3,1637.5 L1537.4,1638.1 L1539.5,1638.8 L1541.6,1639.4 L1543.7,1640.0 L1545.8,1640.6 L1547.9,1641.0 L1550.0,1641.4 L1552.2,1641.6 L1554.5,1641.7 L1557.1,1641.6 L1559.9,1641.3 L1563.2,1640.6 L1566.9,1639.4 L1571.1,1637.6 L1575.6,1635.2 L1580.5,1631.9 L1585.6,1627.8 L1591.0,1622.9 L1596.5,1617.0" fill="none" stroke="#fff" stroke-width="4.2" stroke-linejoin="round" stroke-linecap="round" />
<path d="M1514.8,1652.7 L1524.4,1634.9" fill="none" stroke="#fff" stroke-width="4.2" stroke-linejoin="round" stroke-linecap="round" />
<polygon points="1514.8,1652.7 1516.5,1652.7 1518.5,1652.9 1520.7,1653.3 1523.2,1653.7 1525.8,1654.2 1528.6,1654.7 1531.6,1655.2 1534.8,1655.6 1538.1,1655.9 1541.5,1656.0 1545.1,1656.0 1548.7,1655.6 1552.5,1655.0 1556.4,1654.1 1560.3,1652.8 1564.3,1651.0 1568.3,1648.8 1572.3,1646.2 1576.4,1642.9 1580.5,1639.1 1584.5,1634.6 1588.6,1629.5 1592.6,1623.6 1596.5,1617.0 1611.0,1642.8 1607.8,1647.3 1604.5,1651.5 1601.1,1655.5 1597.8,1659.2 1594.5,1662.6 1591.1,1665.8 1587.8,1668.6 1584.4,1671.2 1581.0,1673.5 1577.7,1675.6 1574.3,1677.3 1571.0,1678.8 1567.6,1680.0 1564.3,1680.9 1561.0,1681.5 1557.7,1681.8 1554.4,1681.8 1551.1,1681.4 1547.9,1680.8 1544.6,1679.9 1541.4,1678.6 1538.3,1677.0 1535.1,1675.1 1532.0,1672.9" fill="#C2A688" stroke="none" stroke-width="0" stroke-linejoin="round" />
<path d="M1514.8,1652.7 L1516.5,1652.7 L1518.5,1652.9 L1520.7,1653.3 L1523.2,1653.7 L1525.8,1654.2 L1528.6,1654.7 L1531.6,1655.2 L1534.8,1655.6 L1538.1,1655.9 L1541.5,1656.0 L1545.1,1656.0 L1548.7,1655.6 L1552.5,1655.0 L1556.4,1654.1 L1560.3,1652.8 L1564.3,1651.0 L1568.3,1648.8 L1572.3,1646.2 L1576.4,1642.9 L1580.5,1639.1 L1584.5,1634.6 L1588.6,1629.5 L1592.6,1623.6 L1596.5,1617.0" fill="none" stroke="#fff" stroke-width="4.2" stroke-linejoin="round" stroke-linecap="round" />
<path d="M1532.0,1672.9 L1535.1,1675.1 L1538.3,1677.0 L1541.4,1678.6 L1544.6,1679.9 L1547.9,1680.8 L1551.1,1681.4 L1554.4,1681.8 L1557.7,1681.8 L1561.0,1681.5 L1564.3,1680.9 L1567.6,1680.0 L1571.0,1678.8 L1574.3,1677.3 L1577.7,1675.6 L1581.0,1673.5 L1584.4,1671.2 L1587.8,1668.6 L1591.1,1665.8 L1594.5,1662.6 L1597.8,1659.2 L1601.1,1655.5 L1604.5,1651.5 L1607.8,1647.3 L1611.0,1642.8" fill="none" stroke="#fff" stroke-width="4.2" stroke-linejoin="round" stroke-linecap="round" />
<path d="M1514.8,1652.7 L1532.0,1672.9" fill="none" stroke="#fff" stroke-width="4.2" stroke-linejoin="round" stroke-linecap="round" />
<polygon points="1999.6,727.9 2005.5,729.7 2011.0,731.7 2016.3,733.8 2021.1,736.2 2025.7,738.7 2029.8,741.4 2033.7,744.2 2037.2,747.2 2040.4,750.4 2043.2,753.7 2045.7,757.2 2047.9,760.8 2049.7,764.6 2051.1,768.5 2052.3,772.5 2053.1,776.7 2053.6,781.0 2053.7,785.4 2053.5,790.0 2053.0,794.7 2052.1,799.4 2051.0,804.3 2049.5,809.4 2047.7,814.5 2047.7,814.5 2048.0,808.5 2048.0,802.8 2047.8,797.4 2047.2,792.4 2046.4,787.6 2045.3,783.2 2043.9,779.2 2042.4,775.6 2040.6,772.3 2038.7,769.5 2036.7,767.0 2034.6,764.9 2032.4,763.1 2030.2,761.5 2027.8,760.1 2025.4,758.8 2022.8,757.6 2020.0,756.4 2017.0,755.1 2013.6,753.8 2010.0,752.5 2005.9,751.2 2001.5,749.8 1996.2,748.3" fill="#C2A688" stroke="none" stroke-width="0" stroke-linejoin="round" />
<path d="M1996.2,748.3 L2001.5,749.8 L2005.9,751.2 L2010.0,752.5 L2013.6,753.8 L2017.0,755.1 L2020.0,756.4 L2022.8,757.6 L2025.4,758.8 L2027.8,760.1 L2030.2,761.5 L2032.4,763.1 L2034.6,764.9 L2036.7,767.0 L2038.7,769.5 L2040.6,772.3 L2042.4,775.6 L2043.9,779.2 L2045.3,783.2 L2046.4,787.6 L2047.2,792.4 L2047.8,797.4 L2048.0,802.8 L2048.0,808.5 L2047.7,814.5" fill="none" stroke="#fff" stroke-width="4.2" stroke-linejoin="round" stroke-linecap="round" />
<path d="M1999.6,727.9 L1996.2,748.3" fill="none" stroke="#fff" stroke-width="4.2" stroke-linejoin="round" stroke-linecap="round" />
<polygon points="2030.1,728.2 2033.4,729.9 2036.8,731.7 2040.4,733.6 2044.2,735.7 2048.0,737.9 2051.8,740.3 2055.6,742.8 2059.4,745.5 2063.0,748.4 2066.5,751.4 2069.8,754.7 2072.8,758.2 2075.6,761.9 2078.0,765.8 2080.0,769.9 2081.6,774.3 2082.8,779.0 2083.4,784.0 2083.4,789.2 2082.8,794.7 2081.6,800.5 2079.7,806.6 2077.0,813.0 2073.5,819.8 2047.7,814.5 2049.5,809.4 2051.0,804.3 2052.1,799.4 2053.0,794.7 2053.5,790.0 2053.7,785.4 2053.6,781.0 2053.1,776.7 2052.3,772.5 2051.1,768.5 2049.7,764.6 2047.9,760.8 2045.7,757.2 2043.2,753.7 2040.4,750.4 2037.2,747.2 2033.7,744.2 2029.8,741.4 2025.7,738.7 2021.1,736.2 2016.3,733.8 2011.0,731.7 2005.5,729.7 1999.6,727.9" fill="#C2A688" stroke="none" stroke-width="0" stroke-linejoin="round" />
<path d="M2030.1,728.2 L2033.4,729.9 L2036.8,731.7 L2040.4,733.6 L2044.2,735.7 L2048.0,737.9 L2051.8,740.3 L2055.6,742.8 L2059.4,745.5 L2063.0,748.4 L2066.5,751.4 L2069.8,754.7 L2072.8,758.2 L2075.6,761.9 L2078.0,765.8 L2080.0,769.9 L2081.6,774.3 L2082.8,779.0 L2083.4,784.0 L2083.4,789.2 L2082.8,794.7 L2081.6,800.5 L2079.7,806.6 L2077.0,813.0 L2073.5,819.8" fill="none" stroke="#fff" stroke-width="4.2" stroke-linejoin="round" stroke-linecap="round" />
<path d="M1999.6,727.9 L2005.5,729.7 L2011.0,731.7 L2016.3,733.8 L2021.1,736.2 L2025.7,738.7 L2029.8,741.4 L2033.7,744.2 L2037.2,747.2 L2040.4,750.4 L2043.2,753.7 L2045.7,757.2 L2047.9,760.8 L2049.7,764.6 L2051.1,768.5 L2052.3,772.5 L2053.1,776.7 L2053.6,781.0 L2053.7,785.4 L2053.5,790.0 L2053.0,794.7 L2052.1,799.4 L2051.0,804.3 L2049.5,809.4 L2047.7,814.5" fill="none" stroke="#fff" stroke-width="4.2" stroke-linejoin="round" stroke-linecap="round" />
<path d="M2030.1,728.2 L1999.6,727.9" fill="none" stroke="#fff" stroke-width="4.2" stroke-linejoin="round" stroke-linecap="round" />
<polygon points="1473.7,1569.7 1475.8,1569.5 1478.1,1569.4 1480.6,1569.5 1483.4,1569.6 1486.3,1569.9 1489.5,1570.2 1492.8,1570.5 1496.2,1570.8 1499.9,1571.0 1503.6,1571.1 1507.5,1571.1 1511.5,1570.8 1515.6,1570.3 1519.9,1569.6 1524.2,1568.6 1528.5,1567.2 1533.0,1565.5 1537.4,1563.3 1542.0,1560.7 1546.5,1557.6 1551.1,1554.0 1555.7,1549.8 1560.2,1545.0 1564.8,1539.6 1564.8,1539.6 1558.7,1544.2 1552.7,1548.1 1547.1,1551.3 1541.7,1553.8 1536.8,1555.7 1532.3,1557.1 1528.2,1558.0 1524.7,1558.5 1521.5,1558.7 1518.7,1558.8 1516.1,1558.8 1513.7,1558.7 1511.4,1558.4 1509.1,1558.2 1506.7,1557.8 1504.4,1557.5 1502.0,1557.1 1499.6,1556.7 1497.2,1556.2 1494.8,1555.9 1492.3,1555.5 1489.8,1555.2 1487.2,1555.0 1484.8,1555.1" fill="#C2A688" stroke="none" stroke-width="0" stroke-linejoin="round" />
<path d="M1484.8,1555.1 L1487.2,1555.0 L1489.8,1555.2 L1492.3,1555.5 L1494.8,1555.9 L1497.2,1556.2 L1499.6,1556.7 L1502.0,1557.1 L1504.4,1557.5 L1506.7,1557.8 L1509.1,1558.2 L1511.4,1558.4 L1513.7,1558.7 L1516.1,1558.8 L1518.7,1558.8 L1521.5,1558.7 L1524.7,1558.5 L1528.2,1558.0 L1532.3,1557.1 L1536.8,1555.7 L1541.7,1553.8 L1547.1,1551.3 L1552.7,1548.1 L1558.7,1544.2 L1564.8,1539.6" fill="none" stroke="#fff" stroke-width="4.2" stroke-linejoin="round" stroke-linecap="round" />
<path d="M1473.7,1569.7 L1484.8,1555.1" fill="none" stroke="#fff" stroke-width="4.2" stroke-linejoin="round" stroke-linecap="round" />
<polygon points="1473.7,1569.7 1475.8,1569.5 1478.1,1569.4 1480.6,1569.5 1483.4,1569.6 1486.3,1569.9 1489.5,1570.2 1492.8,1570.5 1496.2,1570.8 1499.9,1571.0 1503.6,1571.1 1507.5,1571.1 1511.5,1570.8 1515.6,1570.3 1519.9,1569.6 1524.2,1568.6 1528.5,1567.2 1533.0,1565.5 1537.4,1563.3 1542.0,1560.7 1546.5,1557.6 1551.1,1554.0 1555.7,1549.8 1560.2,1545.0 1564.8,1539.6 1571.3,1573.0 1567.6,1576.7 1563.8,1580.1 1560.1,1583.4 1556.3,1586.4 1552.5,1589.2 1548.7,1591.8 1545.0,1594.2 1541.2,1596.4 1537.4,1598.3 1533.6,1600.0 1529.9,1601.5 1526.1,1602.7 1522.4,1603.7 1518.7,1604.5 1515.0,1605.1 1511.4,1605.4 1507.7,1605.4 1504.1,1605.2 1500.5,1604.8 1497.0,1604.1 1493.5,1603.2 1490.0,1602.0 1486.6,1600.5 1483.2,1598.7" fill="#C2A688" stroke="none" stroke-width="0" stroke-linejoin="round" />
<path d="M1473.7,1569.7 L1475.8,1569.5 L1478.1,1569.4 L1480.6,1569.5 L1483.4,1569.6 L1486.3,1569.9 L1489.5,1570.2 L1492.8,1570.5 L1496.2,1570.8 L1499.9,1571.0 L1503.6,1571.1 L1507.5,1571.1 L1511.5,1570.8 L1515.6,1570.3 L1519.9,1569.6 L1524.2,1568.6 L1528.5,1567.2 L1533.0,1565.5 L1537.4,1563.3 L1542.0,1560.7 L1546.5,1557.6 L1551.1,1554.0 L1555.7,1549.8 L1560.2,1545.0 L1564.8,1539.6" fill="none" stroke="#fff" stroke-width="4.2" stroke-linejoin="round" stroke-linecap="round" />
<path d="M1483.2,1598.7 L1486.6,1600.5 L1490.0,1602.0 L1493.5,1603.2 L1497.0,1604.1 L1500.5,1604.8 L1504.1,1605.2 L1507.7,1605.4 L1511.4,1605.4 L1515.0,1605.1 L1518.7,1604.5 L1522.4,1603.7 L1526.1,1602.7 L1529.9,1601.5 L1533.6,1600.0 L1537.4,1598.3 L1541.2,1596.4 L1545.0,1594.2 L1548.7,1591.8 L1552.5,1589.2 L1556.3,1586.4 L1560.1,1583.4 L1563.8,1580.1 L1567.6,1576.7 L1571.3,1573.0" fill="none" stroke="#fff" stroke-width="4.2" stroke-linejoin="round" stroke-linecap="round" />
<path d="M1473.7,1569.7 L1483.2,1598.7" fill="none" stroke="#fff" stroke-width="4.2" stroke-linejoin="round" stroke-linecap="round" />
<polygon points="1902.5,751.5 1908.3,752.8 1913.9,754.4 1919.2,756.1 1924.2,758.0 1928.9,760.1 1933.3,762.4 1937.5,764.8 1941.3,767.5 1944.8,770.3 1948.1,773.2 1951.1,776.4 1953.7,779.6 1956.1,783.1 1958.1,786.7 1959.9,790.4 1961.4,794.3 1962.6,798.4 1963.5,802.5 1964.1,806.9 1964.4,811.3 1964.4,815.9 1964.2,820.6 1963.6,825.4 1962.8,830.3 1962.8,830.3 1962.1,824.6 1961.2,819.1 1960.1,813.9 1958.8,809.0 1957.2,804.4 1955.5,800.3 1953.6,796.5 1951.5,793.0 1949.3,790.0 1947.0,787.4 1944.7,785.2 1942.3,783.3 1939.9,781.8 1937.5,780.5 1935.0,779.4 1932.5,778.4 1929.8,777.5 1926.8,776.7 1923.7,775.8 1920.3,774.9 1916.6,774.0 1912.5,773.0 1908.0,772.1 1902.7,771.0" fill="#C2A688" stroke="none" stroke-width="0" stroke-linejoin="round" />
<path d="M1902.7,771.0 L1908.0,772.1 L1912.5,773.0 L1916.6,774.0 L1920.3,774.9 L1923.7,775.8 L1926.8,776.7 L1929.8,777.5 L1932.5,778.4 L1935.0,779.4 L1937.5,780.5 L1939.9,781.8 L1942.3,783.3 L1944.7,785.2 L1947.0,787.4 L1949.3,790.0 L1951.5,793.0 L1953.6,796.5 L1955.5,800.3 L1957.2,804.4 L1958.8,809.0 L1960.1,813.9 L1961.2,819.1 L1962.1,824.6 L1962.8,830.3" fill="none" stroke="#fff" stroke-width="4.2" stroke-linejoin="round" stroke-linecap="round" />
<path d="M1902.5,751.5 L1902.7,771.0" fill="none" stroke="#fff" stroke-width="4.2" stroke-linejoin="round" stroke-linecap="round" />
<polygon points="1935.7,740.8 1939.1,742.1 1942.8,743.5 1946.6,745.0 1950.5,746.6 1954.5,748.4 1958.5,750.4 1962.6,752.5 1966.6,754.8 1970.5,757.4 1974.3,760.1 1978.0,763.0 1981.4,766.2 1984.6,769.5 1987.5,773.2 1990.2,777.0 1992.4,781.2 1994.2,785.6 1995.6,790.3 1996.5,795.2 1996.9,800.5 1996.8,806.1 1996.0,812.0 1994.6,818.3 1992.5,824.8 1962.8,830.3 1963.6,825.4 1964.2,820.6 1964.4,815.9 1964.4,811.3 1964.1,806.9 1963.5,802.5 1962.6,798.4 1961.4,794.3 1959.9,790.4 1958.1,786.7 1956.1,783.1 1953.7,779.6 1951.1,776.4 1948.1,773.2 1944.8,770.3 1941.3,767.5 1937.5,764.8 1933.3,762.4 1928.9,760.1 1924.2,758.0 1919.2,756.1 1913.9,754.4 1908.3,752.8 1902.5,751.5" fill="#C2A688" stroke="none" stroke-width="0" stroke-linejoin="round" />
<path d="M1935.7,740.8 L1939.1,742.1 L1942.8,743.5 L1946.6,745.0 L1950.5,746.6 L1954.5,748.4 L1958.5,750.4 L1962.6,752.5 L1966.6,754.8 L1970.5,757.4 L1974.3,760.1 L1978.0,763.0 L1981.4,766.2 L1984.6,769.5 L1987.5,773.2 L1990.2,777.0 L1992.4,781.2 L1994.2,785.6 L1995.6,790.3 L1996.5,795.2 L1996.9,800.5 L1996.8,806.1 L1996.0,812.0 L1994.6,818.3 L1992.5,824.8" fill="none" stroke="#fff" stroke-width="4.2" stroke-linejoin="round" stroke-linecap="round" />
<path d="M1902.5,751.5 L1908.3,752.8 L1913.9,754.4 L1919.2,756.1 L1924.2,758.0 L1928.9,760.1 L1933.3,762.4 L1937.5,764.8 L1941.3,767.5 L1944.8,770.3 L1948.1,773.2 L1951.1,776.4 L1953.7,779.6 L1956.1,783.1 L1958.1,786.7 L1959.9,790.4 L1961.4,794.3 L1962.6,798.4 L1963.5,802.5 L1964.1,806.9 L1964.4,811.3 L1964.4,815.9 L1964.2,820.6 L1963.6,825.4 L1962.8,830.3" fill="none" stroke="#fff" stroke-width="4.2" stroke-linejoin="round" stroke-linecap="round" />
<path d="M1935.7,740.8 L1902.5,751.5" fill="none" stroke="#fff" stroke-width="4.2" stroke-linejoin="round" stroke-linecap="round" />
<polygon points="1457.8,1463.5 1460.3,1463.0 1463.0,1462.8 1465.9,1462.7 1468.9,1462.7 1472.2,1462.9 1475.6,1463.1 1479.3,1463.3 1483.0,1463.6 1486.9,1463.8 1491.0,1464.0 1495.1,1464.0 1499.4,1464.0 1503.8,1463.8 1508.3,1463.4 1512.8,1462.8 1517.4,1462.0 1522.1,1460.9 1526.8,1459.5 1531.6,1457.8 1536.4,1455.7 1541.2,1453.1 1546.0,1450.2 1550.8,1446.8 1555.6,1442.9 1555.6,1442.9 1549.2,1446.0 1543.1,1448.5 1537.2,1450.6 1531.6,1452.1 1526.4,1453.2 1521.7,1453.9 1517.5,1454.4 1513.7,1454.6 1510.3,1454.7 1507.3,1454.7 1504.5,1454.6 1501.9,1454.5 1499.3,1454.4 1496.8,1454.2 1494.2,1454.0 1491.6,1453.8 1489.0,1453.5 1486.3,1453.3 1483.6,1453.1 1480.9,1452.9 1478.1,1452.7 1475.3,1452.7 1472.3,1452.7 1469.6,1452.9" fill="#C2A688" stroke="none" stroke-width="0" stroke-linejoin="round" />
<path d="M1469.6,1452.9 L1472.3,1452.7 L1475.3,1452.7 L1478.1,1452.7 L1480.9,1452.9 L1483.6,1453.1 L1486.3,1453.3 L1489.0,1453.5 L1491.6,1453.8 L1494.2,1454.0 L1496.8,1454.2 L1499.3,1454.4 L1501.9,1454.5 L1504.5,1454.6 L1507.3,1454.7 L1510.3,1454.7 L1513.7,1454.6 L1517.5,1454.4 L1521.7,1453.9 L1526.4,1453.2 L1531.6,1452.1 L1537.2,1450.6 L1543.1,1448.5 L1549.2,1446.0 L1555.6,1442.9" fill="none" stroke="#fff" stroke-width="4.2" stroke-linejoin="round" stroke-linecap="round" />
<path d="M1457.8,1463.5 L1469.6,1452.9" fill="none" stroke="#fff" stroke-width="4.2" stroke-linejoin="round" stroke-linecap="round" />
<polygon points="1457.8,1463.5 1460.3,1463.0 1463.0,1462.8 1465.9,1462.7 1468.9,1462.7 1472.2,1462.9 1475.6,1463.1 1479.3,1463.3 1483.0,1463.6 1486.9,1463.8 1491.0,1464.0 1495.1,1464.0 1499.4,1464.0 1503.8,1463.8 1508.3,1463.4 1512.8,1462.8 1517.4,1462.0 1522.1,1460.9 1526.8,1459.5 1531.6,1457.8 1536.4,1455.7 1541.2,1453.1 1546.0,1450.2 1550.8,1446.8 1555.6,1442.9 1553.7,1481.7 1549.8,1484.3 1545.8,1486.8 1541.9,1489.1 1537.9,1491.2 1533.9,1493.2 1529.9,1495.0 1525.8,1496.7 1521.8,1498.2 1517.8,1499.5 1513.8,1500.7 1509.7,1501.8 1505.7,1502.6 1501.7,1503.3 1497.7,1503.8 1493.7,1504.2 1489.7,1504.4 1485.8,1504.4 1481.9,1504.2 1478.0,1503.9 1474.1,1503.3 1470.3,1502.6 1466.5,1501.7 1462.7,1500.6 1459.0,1499.3" fill="#C2A688" stroke="none" stroke-width="0" stroke-linejoin="round" />
<path d="M1457.8,1463.5 L1460.3,1463.0 L1463.0,1462.8 L1465.9,1462.7 L1468.9,1462.7 L1472.2,1462.9 L1475.6,1463.1 L1479.3,1463.3 L1483.0,1463.6 L1486.9,1463.8 L1491.0,1464.0 L1495.1,1464.0 L1499.4,1464.0 L1503.8,1463.8 L1508.3,1463.4 L1512.8,1462.8 L1517.4,1462.0 L1522.1,1460.9 L1526.8,1459.5 L1531.6,1457.8 L1536.4,1455.7 L1541.2,1453.1 L1546.0,1450.2 L1550.8,1446.8 L1555.6,1442.9" fill="none" stroke="#fff" stroke-width="4.2" stroke-linejoin="round" stroke-linecap="round" />
<path d="M1459.0,1499.3 L1462.7,1500.6 L1466.5,1501.7 L1470.3,1502.6 L1474.1,1503.3 L1478.0,1503.9 L1481.9,1504.2 L1485.8,1504.4 L1489.7,1504.4 L1493.7,1504.2 L1497.7,1503.8 L1501.7,1503.3 L1505.7,1502.6 L1509.7,1501.8 L1513.8,1500.7 L1517.8,1499.5 L1521.8,1498.2 L1525.8,1496.7 L1529.9,1495.0 L1533.9,1493.2 L1537.9,1491.2 L1541.9,1489.1 L1545.8,1486.8 L1549.8,1484.3 L1553.7,1481.7" fill="none" stroke="#fff" stroke-width="4.2" stroke-linejoin="round" stroke-linecap="round" />
<path d="M1457.8,1463.5 L1459.0,1499.3" fill="none" stroke="#fff" stroke-width="4.2" stroke-linejoin="round" stroke-linecap="round" />
<polygon points="1801.3,807.5 1807.1,808.5 1812.6,809.7 1817.9,811.0 1822.9,812.5 1827.7,814.2 1832.3,816.0 1836.7,818.1 1840.8,820.2 1844.7,822.6 1848.3,825.1 1851.7,827.8 1854.8,830.6 1857.7,833.6 1860.4,836.7 1862.8,839.9 1864.9,843.3 1866.8,846.9 1868.5,850.6 1869.9,854.4 1871.1,858.3 1872.0,862.4 1872.7,866.6 1873.2,870.9 1873.4,875.3 1873.4,875.3 1871.7,870.1 1869.8,865.1 1867.8,860.3 1865.6,855.9 1863.3,851.8 1860.9,848.1 1858.4,844.7 1855.9,841.6 1853.3,839.0 1850.6,836.7 1848.0,834.8 1845.4,833.2 1842.9,832.0 1840.3,831.0 1837.7,830.2 1835.1,829.6 1832.3,829.0 1829.4,828.4 1826.2,827.9 1822.8,827.3 1819.0,826.8 1815.0,826.2 1810.6,825.7 1805.4,824.9" fill="#C2A688" stroke="none" stroke-width="0" stroke-linejoin="round" />
<path d="M1805.4,824.9 L1810.6,825.7 L1815.0,826.2 L1819.0,826.8 L1822.8,827.3 L1826.2,827.9 L1829.4,828.4 L1832.3,829.0 L1835.1,829.6 L1837.7,830.2 L1840.3,831.0 L1842.9,832.0 L1845.4,833.2 L1848.0,834.8 L1850.6,836.7 L1853.3,839.0 L1855.9,841.6 L1858.4,844.7 L1860.9,848.1 L1863.3,851.8 L1865.6,855.9 L1867.8,860.3 L1869.8,865.1 L1871.7,870.1 L1873.4,875.3" fill="none" stroke="#fff" stroke-width="4.2" stroke-linejoin="round" stroke-linecap="round" />
<path d="M1801.3,807.5 L1805.4,824.9" fill="none" stroke="#fff" stroke-width="4.2" stroke-linejoin="round" stroke-linecap="round" />
<polygon points="1835.1,786.7 1838.6,787.5 1842.4,788.4 1846.3,789.5 1850.3,790.7 1854.5,792.1 1858.6,793.7 1862.9,795.4 1867.1,797.3 1871.2,799.4 1875.3,801.7 1879.3,804.3 1883.1,807.0 1886.7,810.0 1890.1,813.1 1893.3,816.6 1896.2,820.2 1898.7,824.2 1900.9,828.3 1902.7,832.8 1904.1,837.5 1905.1,842.5 1905.5,847.8 1905.4,853.4 1904.8,859.3 1873.4,875.3 1873.2,870.9 1872.7,866.6 1872.0,862.4 1871.1,858.3 1869.9,854.4 1868.5,850.6 1866.8,846.9 1864.9,843.3 1862.8,839.9 1860.4,836.7 1857.7,833.6 1854.8,830.6 1851.7,827.8 1848.3,825.1 1844.7,822.6 1840.8,820.2 1836.7,818.1 1832.3,816.0 1827.7,814.2 1822.9,812.5 1817.9,811.0 1812.6,809.7 1807.1,808.5 1801.3,807.5" fill="#C2A688" stroke="none" stroke-width="0" stroke-linejoin="round" />
<path d="M1835.1,786.7 L1838.6,787.5 L1842.4,788.4 L1846.3,789.5 L1850.3,790.7 L1854.5,792.1 L1858.6,793.7 L1862.9,795.4 L1867.1,797.3 L1871.2,799.4 L1875.3,801.7 L1879.3,804.3 L1883.1,807.0 L1886.7,810.0 L1890.1,813.1 L1893.3,816.6 L1896.2,820.2 L1898.7,824.2 L1900.9,828.3 L1902.7,832.8 L1904.1,837.5 L1905.1,842.5 L1905.5,847.8 L1905.4,853.4 L1904.8,859.3" fill="none" stroke="#fff" stroke-width="4.2" stroke-linejoin="round" stroke-linecap="round" />
<path d="M1801.3,807.5 L1807.1,808.5 L1812.6,809.7 L1817.9,811.0 L1822.9,812.5 L1827.7,814.2 L1832.3,816.0 L1836.7,818.1 L1840.8,820.2 L1844.7,822.6 L1848.3,825.1 L1851.7,827.8 L1854.8,830.6 L1857.7,833.6 L1860.4,836.7 L1862.8,839.9 L1864.9,843.3 L1866.8,846.9 L1868.5,850.6 L1869.9,854.4 L1871.1,858.3 L1872.0,862.4 L1872.7,866.6 L1873.2,870.9 L1873.4,875.3" fill="none" stroke="#fff" stroke-width="4.2" stroke-linejoin="round" stroke-linecap="round" />
<path d="M1835.1,786.7 L1801.3,807.5" fill="none" stroke="#fff" stroke-width="4.2" stroke-linejoin="round" stroke-linecap="round" />
<polygon points="1468.4,1341.2 1471.2,1340.7 1474.2,1340.4 1477.4,1340.2 1480.8,1340.2 1484.4,1340.3 1488.1,1340.5 1492.0,1340.8 1496.0,1341.1 1500.1,1341.5 1504.4,1341.8 1508.8,1342.2 1513.2,1342.5 1517.7,1342.7 1522.4,1342.8 1527.0,1342.8 1531.7,1342.7 1536.4,1342.4 1541.2,1341.9 1546.0,1341.2 1550.7,1340.2 1555.5,1339.0 1560.2,1337.5 1564.9,1335.7 1569.5,1333.6 1569.5,1333.6 1563.3,1334.9 1557.3,1335.9 1551.5,1336.5 1545.9,1336.9 1540.8,1337.0 1536.0,1337.0 1531.7,1336.9 1527.8,1336.7 1524.3,1336.5 1521.1,1336.4 1518.2,1336.2 1515.4,1336.0 1512.6,1335.9 1509.8,1335.7 1507.0,1335.6 1504.2,1335.4 1501.3,1335.3 1498.3,1335.1 1495.3,1335.0 1492.3,1334.9 1489.2,1334.9 1486.1,1334.9 1482.8,1334.9 1479.7,1335.3" fill="#C2A688" stroke="none" stroke-width="0" stroke-linejoin="round" />
<path d="M1479.7,1335.3 L1482.8,1334.9 L1486.1,1334.9 L1489.2,1334.9 L1492.3,1334.9 L1495.3,1335.0 L1498.3,1335.1 L1501.3,1335.3 L1504.2,1335.4 L1507.0,1335.6 L1509.8,1335.7 L1512.6,1335.9 L1515.4,1336.0 L1518.2,1336.2 L1521.1,1336.4 L1524.3,1336.5 L1527.8,1336.7 L1531.7,1336.9 L1536.0,1337.0 L1540.8,1337.0 L1545.9,1336.9 L1551.5,1336.5 L1557.3,1335.9 L1563.3,1334.9 L1569.5,1333.6" fill="none" stroke="#fff" stroke-width="4.2" stroke-linejoin="round" stroke-linecap="round" />
<path d="M1468.4,1341.2 L1479.7,1335.3" fill="none" stroke="#fff" stroke-width="4.2" stroke-linejoin="round" stroke-linecap="round" />
<polygon points="1468.4,1341.2 1471.2,1340.7 1474.2,1340.4 1477.4,1340.2 1480.8,1340.2 1484.4,1340.3 1488.1,1340.5 1492.0,1340.8 1496.0,1341.1 1500.1,1341.5 1504.4,1341.8 1508.8,1342.2 1513.2,1342.5 1517.7,1342.7 1522.4,1342.8 1527.0,1342.8 1531.7,1342.7 1536.4,1342.4 1541.2,1341.9 1546.0,1341.2 1550.7,1340.2 1555.5,1339.0 1560.2,1337.5 1564.9,1335.7 1569.5,1333.6 1559.5,1375.1 1555.6,1376.5 1551.7,1377.8 1547.8,1379.0 1543.8,1380.0 1539.8,1381.0 1535.8,1381.9 1531.7,1382.7 1527.6,1383.4 1523.5,1384.1 1519.4,1384.6 1515.2,1385.0 1511.0,1385.3 1506.9,1385.6 1502.7,1385.7 1498.5,1385.7 1494.3,1385.7 1490.1,1385.5 1485.9,1385.3 1481.7,1384.9 1477.6,1384.4 1473.4,1383.8 1469.3,1383.1 1465.1,1382.3 1461.0,1381.3" fill="#C2A688" stroke="none" stroke-width="0" stroke-linejoin="round" />
<path d="M1468.4,1341.2 L1471.2,1340.7 L1474.2,1340.4 L1477.4,1340.2 L1480.8,1340.2 L1484.4,1340.3 L1488.1,1340.5 L1492.0,1340.8 L1496.0,1341.1 L1500.1,1341.5 L1504.4,1341.8 L1508.8,1342.2 L1513.2,1342.5 L1517.7,1342.7 L1522.4,1342.8 L1527.0,1342.8 L1531.7,1342.7 L1536.4,1342.4 L1541.2,1341.9 L1546.0,1341.2 L1550.7,1340.2 L1555.5,1339.0 L1560.2,1337.5 L1564.9,1335.7 L1569.5,1333.6" fill="none" stroke="#fff" stroke-width="4.2" stroke-linejoin="round" stroke-linecap="round" />
<path d="M1461.0,1381.3 L1465.1,1382.3 L1469.3,1383.1 L1473.4,1383.8 L1477.6,1384.4 L1481.7,1384.9 L1485.9,1385.3 L1490.1,1385.5 L1494.3,1385.7 L1498.5,1385.7 L1502.7,1385.7 L1506.9,1385.6 L1511.0,1385.3 L1515.2,1385.0 L1519.4,1384.6 L1523.5,1384.1 L1527.6,1383.4 L1531.7,1382.7 L1535.8,1381.9 L1539.8,1381.0 L1543.8,1380.0 L1547.8,1379.0 L1551.7,1377.8 L1555.6,1376.5 L1559.5,1375.1" fill="none" stroke="#fff" stroke-width="4.2" stroke-linejoin="round" stroke-linecap="round" />
<path d="M1468.4,1341.2 L1461.0,1381.3" fill="none" stroke="#fff" stroke-width="4.2" stroke-linejoin="round" stroke-linecap="round" />
<polygon points="1703.1,892.2 1708.6,892.9 1714.0,893.8 1719.2,894.8 1724.2,895.9 1729.1,897.2 1733.7,898.6 1738.2,900.2 1742.5,901.9 1746.7,903.8 1750.6,905.8 1754.3,907.9 1757.9,910.1 1761.3,912.5 1764.4,915.0 1767.4,917.6 1770.2,920.4 1772.8,923.3 1775.2,926.2 1777.4,929.3 1779.4,932.5 1781.2,935.8 1782.9,939.2 1784.3,942.7 1785.5,946.3 1785.5,946.3 1782.8,941.9 1780.0,937.7 1777.1,933.7 1774.1,930.0 1771.1,926.5 1768.1,923.4 1765.0,920.5 1762.0,918.0 1759.0,915.8 1756.1,913.9 1753.2,912.4 1750.5,911.2 1747.8,910.3 1745.2,909.6 1742.5,909.1 1739.9,908.7 1737.1,908.4 1734.2,908.2 1731.1,907.9 1727.7,907.7 1724.1,907.4 1720.1,907.1 1715.9,906.8 1711.0,906.3" fill="#C2A688" stroke="none" stroke-width="0" stroke-linejoin="round" />
<path d="M1711.0,906.3 L1715.9,906.8 L1720.1,907.1 L1724.1,907.4 L1727.7,907.7 L1731.1,907.9 L1734.2,908.2 L1737.1,908.4 L1739.9,908.7 L1742.5,909.1 L1745.2,909.6 L1747.8,910.3 L1750.5,911.2 L1753.2,912.4 L1756.1,913.9 L1759.0,915.8 L1762.0,918.0 L1765.0,920.5 L1768.1,923.4 L1771.1,926.5 L1774.1,930.0 L1777.1,933.7 L1780.0,937.7 L1782.8,941.9 L1785.5,946.3" fill="none" stroke="#fff" stroke-width="4.2" stroke-linejoin="round" stroke-linecap="round" />
<path d="M1703.1,892.2 L1711.0,906.3" fill="none" stroke="#fff" stroke-width="4.2" stroke-linejoin="round" stroke-linecap="round" />
<polygon points="1735.2,862.7 1738.7,863.0 1742.5,863.5 1746.4,864.2 1750.5,865.0 1754.7,866.0 1758.9,867.2 1763.2,868.5 1767.6,870.0 1771.9,871.7 1776.2,873.6 1780.4,875.7 1784.5,877.9 1788.5,880.3 1792.4,883.0 1796.1,885.8 1799.5,888.8 1802.8,892.1 1805.7,895.6 1808.4,899.2 1810.8,903.1 1812.8,907.2 1814.4,911.6 1815.7,916.1 1816.5,920.9 1785.5,946.3 1784.3,942.7 1782.9,939.2 1781.2,935.8 1779.4,932.5 1777.4,929.3 1775.2,926.2 1772.8,923.3 1770.2,920.4 1767.4,917.6 1764.4,915.0 1761.3,912.5 1757.9,910.1 1754.3,907.9 1750.6,905.8 1746.7,903.8 1742.5,901.9 1738.2,900.2 1733.7,898.6 1729.1,897.2 1724.2,895.9 1719.2,894.8 1714.0,893.8 1708.6,892.9 1703.1,892.2" fill="#C2A688" stroke="none" stroke-width="0" stroke-linejoin="round" />
<path d="M1735.2,862.7 L1738.7,863.0 L1742.5,863.5 L1746.4,864.2 L1750.5,865.0 L1754.7,866.0 L1758.9,867.2 L1763.2,868.5 L1767.6,870.0 L1771.9,871.7 L1776.2,873.6 L1780.4,875.7 L1784.5,877.9 L1788.5,880.3 L1792.4,883.0 L1796.1,885.8 L1799.5,888.8 L1802.8,892.1 L1805.7,895.6 L1808.4,899.2 L1810.8,903.1 L1812.8,907.2 L1814.4,911.6 L1815.7,916.1 L1816.5,920.9" fill="none" stroke="#fff" stroke-width="4.2" stroke-linejoin="round" stroke-linecap="round" />
<path d="M1703.1,892.2 L1708.6,892.9 L1714.0,893.8 L1719.2,894.8 L1724.2,895.9 L1729.1,897.2 L1733.7,898.6 L1738.2,900.2 L1742.5,901.9 L1746.7,903.8 L1750.6,905.8 L1754.3,907.9 L1757.9,910.1 L1761.3,912.5 L1764.4,915.0 L1767.4,917.6 L1770.2,920.4 L1772.8,923.3 L1775.2,926.2 L1777.4,929.3 L1779.4,932.5 L1781.2,935.8 L1782.9,939.2 L1784.3,942.7 L1785.5,946.3" fill="none" stroke="#fff" stroke-width="4.2" stroke-linejoin="round" stroke-linecap="round" />
<path d="M1735.2,862.7 L1703.1,892.2" fill="none" stroke="#fff" stroke-width="4.2" stroke-linejoin="round" stroke-linecap="round" />
<polygon points="1504.7,1211.3 1507.8,1210.8 1511.1,1210.5 1514.6,1210.4 1518.2,1210.4 1522.0,1210.6 1526.0,1211.0 1530.1,1211.4 1534.3,1211.9 1538.6,1212.5 1543.0,1213.1 1547.5,1213.8 1552.0,1214.5 1556.6,1215.2 1561.2,1215.9 1565.8,1216.6 1570.4,1217.3 1575.0,1217.8 1579.6,1218.4 1584.1,1218.8 1588.6,1219.1 1593.0,1219.3 1597.4,1219.4 1601.6,1219.3 1605.7,1219.1 1605.7,1219.1 1600.0,1218.5 1594.4,1217.7 1589.0,1216.9 1583.8,1216.0 1578.8,1215.2 1574.2,1214.3 1569.9,1213.5 1566.0,1212.9 1562.5,1212.3 1559.2,1211.9 1556.2,1211.6 1553.2,1211.3 1550.2,1211.0 1547.3,1210.8 1544.3,1210.6 1541.2,1210.4 1538.1,1210.3 1534.9,1210.1 1531.6,1210.0 1528.3,1210.0 1525.0,1209.9 1521.5,1209.9 1518.0,1209.9 1514.6,1210.2" fill="#C2A688" stroke="none" stroke-width="0" stroke-linejoin="round" />
<path d="M1514.6,1210.2 L1518.0,1209.9 L1521.5,1209.9 L1525.0,1209.9 L1528.3,1210.0 L1531.6,1210.0 L1534.9,1210.1 L1538.1,1210.3 L1541.2,1210.4 L1544.3,1210.6 L1547.3,1210.8 L1550.2,1211.0 L1553.2,1211.3 L1556.2,1211.6 L1559.2,1211.9 L1562.5,1212.3 L1566.0,1212.9 L1569.9,1213.5 L1574.2,1214.3 L1578.8,1215.2 L1583.8,1216.0 L1589.0,1216.9 L1594.4,1217.7 L1600.0,1218.5 L1605.7,1219.1" fill="none" stroke="#fff" stroke-width="4.2" stroke-linejoin="round" stroke-linecap="round" />
<path d="M1504.7,1211.3 L1514.6,1210.2" fill="none" stroke="#fff" stroke-width="4.2" stroke-linejoin="round" stroke-linecap="round" />
<polygon points="1504.7,1211.3 1507.8,1210.8 1511.1,1210.5 1514.6,1210.4 1518.2,1210.4 1522.0,1210.6 1526.0,1211.0 1530.1,1211.4 1534.3,1211.9 1538.6,1212.5 1543.0,1213.1 1547.5,1213.8 1552.0,1214.5 1556.6,1215.2 1561.2,1215.9 1565.8,1216.6 1570.4,1217.3 1575.0,1217.8 1579.6,1218.4 1584.1,1218.8 1588.6,1219.1 1593.0,1219.3 1597.4,1219.4 1601.6,1219.3 1605.7,1219.1 1588.2,1260.5 1584.7,1260.6 1581.1,1260.6 1577.4,1260.6 1573.7,1260.5 1569.9,1260.4 1566.0,1260.3 1562.1,1260.1 1558.2,1259.9 1554.2,1259.7 1550.1,1259.4 1546.0,1259.2 1541.8,1258.9 1537.6,1258.5 1533.3,1258.2 1529.0,1257.8 1524.7,1257.4 1520.4,1256.9 1516.0,1256.5 1511.5,1256.0 1507.1,1255.4 1502.6,1254.9 1498.2,1254.2 1493.7,1253.6 1489.2,1252.9" fill="#C2A688" stroke="none" stroke-width="0" stroke-linejoin="round" />
<path d="M1504.7,1211.3 L1507.8,1210.8 L1511.1,1210.5 L1514.6,1210.4 L1518.2,1210.4 L1522.0,1210.6 L1526.0,1211.0 L1530.1,1211.4 L1534.3,1211.9 L1538.6,1212.5 L1543.0,1213.1 L1547.5,1213.8 L1552.0,1214.5 L1556.6,1215.2 L1561.2,1215.9 L1565.8,1216.6 L1570.4,1217.3 L1575.0,1217.8 L1579.6,1218.4 L1584.1,1218.8 L1588.6,1219.1 L1593.0,1219.3 L1597.4,1219.4 L1601.6,1219.3 L1605.7,1219.1" fill="none" stroke="#fff" stroke-width="4.2" stroke-linejoin="round" stroke-linecap="round" />
<path d="M1489.2,1252.9 L1493.7,1253.6 L1498.2,1254.2 L1502.6,1254.9 L1507.1,1255.4 L1511.5,1256.0 L1516.0,1256.5 L1520.4,1256.9 L1524.7,1257.4 L1529.0,1257.8 L1533.3,1258.2 L1537.6,1258.5 L1541.8,1258.9 L1546.0,1259.2 L1550.1,1259.4 L1554.2,1259.7 L1558.2,1259.9 L1562.1,1260.1 L1566.0,1260.3 L1569.9,1260.4 L1573.7,1260.5 L1577.4,1260.6 L1581.1,1260.6 L1584.7,1260.6 L1588.2,1260.5" fill="none" stroke="#fff" stroke-width="4.2" stroke-linejoin="round" stroke-linecap="round" />
<path d="M1504.7,1211.3 L1489.2,1252.9" fill="none" stroke="#fff" stroke-width="4.2" stroke-linejoin="round" stroke-linecap="round" />
<polygon points="1614.5,999.7 1619.7,1000.3 1624.9,1000.9 1629.9,1001.7 1634.8,1002.6 1639.6,1003.5 1644.2,1004.6 1648.8,1005.7 1653.2,1007.0 1657.5,1008.3 1661.7,1009.7 1665.7,1011.3 1669.6,1012.9 1673.3,1014.6 1677.0,1016.4 1680.4,1018.3 1683.8,1020.2 1686.9,1022.3 1690.0,1024.4 1692.9,1026.6 1695.6,1028.8 1698.3,1031.2 1700.7,1033.6 1703.0,1036.1 1705.2,1038.6 1705.2,1038.6 1701.6,1035.2 1697.9,1032.0 1694.2,1029.0 1690.5,1026.1 1686.9,1023.5 1683.3,1021.0 1679.8,1018.9 1676.3,1016.9 1673.0,1015.3 1669.8,1013.9 1666.8,1012.8 1663.9,1011.9 1661.2,1011.3 1658.5,1010.9 1655.9,1010.6 1653.3,1010.5 1650.6,1010.4 1647.8,1010.4 1644.8,1010.4 1641.6,1010.4 1638.1,1010.3 1634.4,1010.2 1630.4,1010.1 1625.7,1009.8" fill="#C2A688" stroke="none" stroke-width="0" stroke-linejoin="round" />
<path d="M1625.7,1009.8 L1630.4,1010.1 L1634.4,1010.2 L1638.1,1010.3 L1641.6,1010.4 L1644.8,1010.4 L1647.8,1010.4 L1650.6,1010.4 L1653.3,1010.5 L1655.9,1010.6 L1658.5,1010.9 L1661.2,1011.3 L1663.9,1011.9 L1666.8,1012.8 L1669.8,1013.9 L1673.0,1015.3 L1676.3,1016.9 L1679.8,1018.9 L1683.3,1021.0 L1686.9,1023.5 L1690.5,1026.1 L1694.2,1029.0 L1697.9,1032.0 L1701.6,1035.2 L1705.2,1038.6" fill="none" stroke="#fff" stroke-width="4.2" stroke-linejoin="round" stroke-linecap="round" />
<path d="M1614.5,999.7 L1625.7,1009.8" fill="none" stroke="#fff" stroke-width="4.2" stroke-linejoin="round" stroke-linecap="round" />
<polygon points="1642.7,963.5 1646.3,963.5 1649.9,963.7 1653.8,964.0 1657.8,964.5 1662.0,965.1 1666.2,965.9 1670.5,966.9 1674.9,968.0 1679.3,969.3 1683.7,970.7 1688.1,972.3 1692.4,974.0 1696.7,975.9 1701.0,977.9 1705.1,980.1 1709.1,982.3 1712.9,984.8 1716.5,987.3 1720.0,990.0 1723.2,992.9 1726.2,995.8 1729.0,998.9 1731.4,1002.1 1733.5,1005.5 1705.2,1038.6 1703.0,1036.1 1700.7,1033.6 1698.3,1031.2 1695.6,1028.8 1692.9,1026.6 1690.0,1024.4 1686.9,1022.3 1683.8,1020.2 1680.4,1018.3 1677.0,1016.4 1673.3,1014.6 1669.6,1012.9 1665.7,1011.3 1661.7,1009.7 1657.5,1008.3 1653.2,1007.0 1648.8,1005.7 1644.2,1004.6 1639.6,1003.5 1634.8,1002.6 1629.9,1001.7 1624.9,1000.9 1619.7,1000.3 1614.5,999.7" fill="#C2A688" stroke="none" stroke-width="0" stroke-linejoin="round" />
<path d="M1642.7,963.5 L1646.3,963.5 L1649.9,963.7 L1653.8,964.0 L1657.8,964.5 L1662.0,965.1 L1666.2,965.9 L1670.5,966.9 L1674.9,968.0 L1679.3,969.3 L1683.7,970.7 L1688.1,972.3 L1692.4,974.0 L1696.7,975.9 L1701.0,977.9 L1705.1,980.1 L1709.1,982.3 L1712.9,984.8 L1716.5,987.3 L1720.0,990.0 L1723.2,992.9 L1726.2,995.8 L1729.0,998.9 L1731.4,1002.1 L1733.5,1005.5" fill="none" stroke="#fff" stroke-width="4.2" stroke-linejoin="round" stroke-linecap="round" />
<path d="M1614.5,999.7 L1619.7,1000.3 L1624.9,1000.9 L1629.9,1001.7 L1634.8,1002.6 L1639.6,1003.5 L1644.2,1004.6 L1648.8,1005.7 L1653.2,1007.0 L1657.5,1008.3 L1661.7,1009.7 L1665.7,1011.3 L1669.6,1012.9 L1673.3,1014.6 L1677.0,1016.4 L1680.4,1018.3 L1683.8,1020.2 L1686.9,1022.3 L1690.0,1024.4 L1692.9,1026.6 L1695.6,1028.8 L1698.3,1031.2 L1700.7,1033.6 L1703.0,1036.1 L1705.2,1038.6" fill="none" stroke="#fff" stroke-width="4.2" stroke-linejoin="round" stroke-linecap="round" />
<path d="M1642.7,963.5 L1614.5,999.7" fill="none" stroke="#fff" stroke-width="4.2" stroke-linejoin="round" stroke-linecap="round" />
<polygon points="1564.1,1082.4 1567.5,1082.1 1571.0,1082.0 1574.7,1082.1 1578.6,1082.3 1582.6,1082.7 1586.7,1083.2 1591.0,1083.8 1595.3,1084.6 1599.7,1085.5 1604.2,1086.5 1608.6,1087.6 1613.1,1088.8 1617.6,1090.1 1622.1,1091.5 1626.5,1092.9 1630.9,1094.4 1635.2,1095.9 1639.4,1097.4 1643.5,1099.0 1647.5,1100.7 1651.3,1102.3 1654.9,1103.9 1658.4,1105.5 1661.7,1107.2 1661.7,1107.2 1656.9,1104.6 1652.0,1102.2 1647.2,1099.9 1642.5,1097.8 1637.9,1095.9 1633.6,1094.2 1629.5,1092.7 1625.8,1091.5 1622.3,1090.6 1619.0,1089.8 1615.8,1089.2 1612.8,1088.8 1609.7,1088.4 1606.6,1088.0 1603.4,1087.7 1600.2,1087.4 1596.8,1087.1 1593.5,1086.9 1590.0,1086.7 1586.5,1086.5 1582.9,1086.4 1579.2,1086.3 1575.4,1086.2 1571.8,1086.3" fill="#C2A688" stroke="none" stroke-width="0" stroke-linejoin="round" />
<path d="M1571.8,1086.3 L1575.4,1086.2 L1579.2,1086.3 L1582.9,1086.4 L1586.5,1086.5 L1590.0,1086.7 L1593.5,1086.9 L1596.8,1087.1 L1600.2,1087.4 L1603.4,1087.7 L1606.6,1088.0 L1609.7,1088.4 L1612.8,1088.8 L1615.8,1089.2 L1619.0,1089.8 L1622.3,1090.6 L1625.8,1091.5 L1629.5,1092.7 L1633.6,1094.2 L1637.9,1095.9 L1642.5,1097.8 L1647.2,1099.9 L1652.0,1102.2 L1656.9,1104.6 L1661.7,1107.2" fill="none" stroke="#fff" stroke-width="4.2" stroke-linejoin="round" stroke-linecap="round" />
<path d="M1564.1,1082.4 L1571.8,1086.3" fill="none" stroke="#fff" stroke-width="4.2" stroke-linejoin="round" stroke-linecap="round" />
<polygon points="1564.1,1082.4 1567.5,1082.1 1571.0,1082.0 1574.7,1082.1 1578.6,1082.3 1582.6,1082.7 1586.7,1083.2 1591.0,1083.8 1595.3,1084.6 1599.7,1085.5 1604.2,1086.5 1608.6,1087.6 1613.1,1088.8 1617.6,1090.1 1622.1,1091.5 1626.5,1092.9 1630.9,1094.4 1635.2,1095.9 1639.4,1097.4 1643.5,1099.0 1647.5,1100.7 1651.3,1102.3 1654.9,1103.9 1658.4,1105.5 1661.7,1107.2 1637.9,1145.7 1634.9,1144.5 1631.9,1143.2 1628.7,1141.9 1625.5,1140.7 1622.1,1139.5 1618.7,1138.3 1615.1,1137.1 1611.4,1136.0 1607.7,1134.9 1603.8,1133.9 1599.9,1132.8 1595.9,1131.8 1591.8,1130.9 1587.6,1129.9 1583.3,1129.1 1578.9,1128.2 1574.5,1127.4 1570.0,1126.6 1565.4,1125.9 1560.7,1125.2 1556.0,1124.5 1551.2,1123.9 1546.4,1123.3 1541.5,1122.7" fill="#C2A688" stroke="none" stroke-width="0" stroke-linejoin="round" />
<path d="M1564.1,1082.4 L1567.5,1082.1 L1571.0,1082.0 L1574.7,1082.1 L1578.6,1082.3 L1582.6,1082.7 L1586.7,1083.2 L1591.0,1083.8 L1595.3,1084.6 L1599.7,1085.5 L1604.2,1086.5 L1608.6,1087.6 L1613.1,1088.8 L1617.6,1090.1 L1622.1,1091.5 L1626.5,1092.9 L1630.9,1094.4 L1635.2,1095.9 L1639.4,1097.4 L1643.5,1099.0 L1647.5,1100.7 L1651.3,1102.3 L1654.9,1103.9 L1658.4,1105.5 L1661.7,1107.2" fill="none" stroke="#fff" stroke-width="4.2" stroke-linejoin="round" stroke-linecap="round" />
<path d="M1541.5,1122.7 L1546.4,1123.3 L1551.2,1123.9 L1556.0,1124.5 L1560.7,1125.2 L1565.4,1125.9 L1570.0,1126.6 L1574.5,1127.4 L1578.9,1128.2 L1583.3,1129.1 L1587.6,1129.9 L1591.8,1130.9 L1595.9,1131.8 L1599.9,1132.8 L1603.8,1133.9 L1607.7,1134.9 L1611.4,1136.0 L1615.1,1137.1 L1618.7,1138.3 L1622.1,1139.5 L1625.5,1140.7 L1628.7,1141.9 L1631.9,1143.2 L1634.9,1144.5 L1637.9,1145.7" fill="none" stroke="#fff" stroke-width="4.2" stroke-linejoin="round" stroke-linecap="round" />
<path d="M1564.1,1082.4 L1541.5,1122.7" fill="none" stroke="#fff" stroke-width="4.2" stroke-linejoin="round" stroke-linecap="round" />
<path d="M2086.6,757.8 C2087.1,759.7 2089.5,764.3 2089.6,769.3 C2089.7,774.3 2089.3,780.5 2087.3,787.8 C2085.3,795.1 2079.1,809.0 2077.4,813.2" fill="none" stroke="#fff" stroke-width="4.0" stroke-linejoin="round" stroke-linecap="round" />
<path d="M2086.6,757.8 C2089.5,759.3 2098.4,762.8 2104.0,767.0 C2109.6,771.2 2115.9,777.4 2120.1,783.2 C2124.3,789.0 2127.5,797.1 2129.4,801.7 C2131.3,806.3 2132.7,806.9 2131.7,810.9 C2130.7,814.9 2124.9,823.4 2123.6,825.9" fill="none" stroke="#fff" stroke-width="4.0" stroke-linejoin="round" stroke-linecap="round" />
<path d="M2131.7,757.8 C2132.8,760.1 2137.0,766.6 2138.6,771.6 C2140.2,776.6 2141.8,782.8 2141.4,787.8 C2141.0,792.8 2139.1,795.4 2136.3,801.7 C2133.5,808.1 2126.7,821.9 2124.8,825.9" fill="none" stroke="#fff" stroke-width="4.0" stroke-linejoin="round" stroke-linecap="round" />
<path d="M2164.0,783.2 C2164.2,786.3 2167.9,792.5 2165.2,801.7 C2162.5,810.9 2150.8,832.5 2147.9,838.6" fill="none" stroke="#fff" stroke-width="4.0" stroke-linejoin="round" stroke-linecap="round" />
<path d="M2165.2,805.1 C2168.1,808.0 2178.1,816.5 2182.5,822.5 C2186.9,828.5 2189.9,835.9 2191.8,840.9 C2193.7,845.9 2195.4,847.9 2194.1,852.5 C2192.8,857.1 2185.4,866.0 2183.7,868.7" fill="none" stroke="#fff" stroke-width="4.0" stroke-linejoin="round" stroke-linecap="round" />
<path d="M2205.6,820.1 C2205.8,822.8 2208.0,830.1 2206.8,836.3 C2205.7,842.5 2202.4,851.5 2198.7,857.1 C2195.0,862.7 2187.1,867.7 2184.8,869.8" fill="none" stroke="#fff" stroke-width="4.0" stroke-linejoin="round" stroke-linecap="round" />
<path d="M2220.7,864.0 L2201.0,891.8" fill="none" stroke="#fff" stroke-width="4.0" stroke-linejoin="round" stroke-linecap="round" />
<path d="M2218.3,873.3 C2220.4,877.9 2228.0,893.7 2231.1,901.0 C2234.2,908.3 2236.0,913.0 2236.8,917.2 C2237.6,921.4 2238.0,922.8 2235.7,926.4 C2233.4,930.0 2225.1,937.0 2223.0,939.1" fill="none" stroke="#fff" stroke-width="4.0" stroke-linejoin="round" stroke-linecap="round" />
<path d="M2251.8,912.6 C2251.4,914.1 2252.2,919.3 2249.5,921.8 C2246.8,924.3 2239.9,924.7 2235.7,927.6 C2231.5,930.5 2226.0,937.2 2224.1,939.1" fill="none" stroke="#fff" stroke-width="4.0" stroke-linejoin="round" stroke-linecap="round" />
<path d="M2246.1,961.1 L2232.2,970.3" fill="none" stroke="#fff" stroke-width="4.0" stroke-linejoin="round" stroke-linecap="round" />
<path d="M2246.8,962.2 C2247.8,966.6 2251.6,980.9 2253.0,988.8 C2254.4,996.7 2255.5,1004.0 2255.3,1009.6 C2255.1,1015.2 2254.1,1018.8 2251.8,1022.3 C2249.5,1025.8 2243.2,1029.1 2241.5,1030.4" fill="none" stroke="#fff" stroke-width="4.0" stroke-linejoin="round" stroke-linecap="round" />
<path d="M2268.0,1015.4 C2265.7,1016.8 2258.6,1020.8 2254.2,1023.5 C2249.8,1026.2 2243.6,1030.2 2241.5,1031.6" fill="none" stroke="#fff" stroke-width="4.0" stroke-linejoin="round" stroke-linecap="round" />
<path d="M2251.8,1060.4 L2241.5,1067.4" fill="none" stroke="#fff" stroke-width="4.0" stroke-linejoin="round" stroke-linecap="round" />
<path d="M2267.4,1013.9 C2265.5,1015.4 2260.0,1020.2 2255.8,1023.1 C2251.6,1026.0 2244.3,1029.9 2242.0,1031.2" fill="none" stroke="#fff" stroke-width="4.0" stroke-linejoin="round" stroke-linecap="round" />
<path d="M2257.0,1000.0 C2257.1,1001.5 2258.3,1006.1 2257.7,1009.2 C2257.1,1012.3 2254.2,1017.0 2253.5,1018.5" fill="none" stroke="#fff" stroke-width="4.0" stroke-linejoin="round" stroke-linecap="round" />
<path d="M2252.4,1067.0 L2242.0,1068.2" fill="none" stroke="#fff" stroke-width="4.0" stroke-linejoin="round" stroke-linecap="round" />
<path d="M2251.2,1099.4 C2250.8,1102.9 2249.7,1114.7 2248.9,1120.1 C2248.1,1125.5 2248.7,1128.8 2246.6,1131.7 C2244.5,1134.6 2237.9,1136.5 2236.2,1137.5" fill="none" stroke="#fff" stroke-width="4.0" stroke-linejoin="round" stroke-linecap="round" />
<path d="M2257.0,1134.0 L2236.2,1138.2" fill="none" stroke="#fff" stroke-width="4.0" stroke-linejoin="round" stroke-linecap="round" />
<path d="M2235.0,1176.8 L2228.1,1179.1" fill="none" stroke="#fff" stroke-width="4.0" stroke-linejoin="round" stroke-linecap="round" />
<path d="M2223.5,1233.4 C2222.5,1236.1 2220.2,1246.4 2217.7,1249.5 C2215.2,1252.6 2210.0,1251.4 2208.5,1251.8" fill="none" stroke="#fff" stroke-width="4.0" stroke-linejoin="round" stroke-linecap="round" />
<path d="M2225.8,1251.8 L2208.5,1252.3" fill="none" stroke="#fff" stroke-width="4.0" stroke-linejoin="round" stroke-linecap="round" />
<path d="M2198.1,1298.1 L2191.1,1294.6" fill="none" stroke="#fff" stroke-width="4.0" stroke-linejoin="round" stroke-linecap="round" />
<path d="M1671.3,1688.3 L1654.0,1719.5" fill="none" stroke="#fff" stroke-width="4.0" stroke-linejoin="round" stroke-linecap="round" />
<path d="M1718.7,1699.9 C1717.2,1703.6 1713.6,1716.8 1709.4,1721.8 C1705.2,1726.8 1700.2,1728.9 1693.3,1729.9 C1686.4,1730.9 1672.0,1728.0 1667.8,1727.6" fill="none" stroke="#fff" stroke-width="4.0" stroke-linejoin="round" stroke-linecap="round" />
<path d="M1746.4,1702.2 L1734.8,1728.7" fill="none" stroke="#fff" stroke-width="4.0" stroke-linejoin="round" stroke-linecap="round" />
<path d="M1800.7,1695.2 C1799.7,1698.9 1797.4,1712.8 1794.9,1717.2 C1792.4,1721.6 1790.3,1720.5 1785.7,1721.8 C1781.1,1723.1 1770.3,1724.7 1767.2,1725.3" fill="none" stroke="#fff" stroke-width="4.0" stroke-linejoin="round" stroke-linecap="round" />
<path d="M1831.9,1684.8 L1826.1,1707.9" fill="none" stroke="#fff" stroke-width="4.0" stroke-linejoin="round" stroke-linecap="round" />
<path d="M1889.6,1659.4 C1889.5,1663.2 1891.9,1678.3 1889.2,1682.5 C1886.5,1686.7 1876.1,1684.4 1873.5,1684.8" fill="none" stroke="#fff" stroke-width="4.0" stroke-linejoin="round" stroke-linecap="round" />
<path d="M1922.0,1639.8 L1919.7,1666.4" fill="none" stroke="#fff" stroke-width="4.0" stroke-linejoin="round" stroke-linecap="round" />
<path d="M1978.6,1597.0 L1984.4,1617.8" fill="none" stroke="#fff" stroke-width="4.0" stroke-linejoin="round" stroke-linecap="round" />
<path d="M2011.0,1568.2 L2013.3,1592.4" fill="none" stroke="#fff" stroke-width="4.0" stroke-linejoin="round" stroke-linecap="round" />
<path d="M2090.3,1474.4 L2098.4,1491.8" fill="none" stroke="#fff" stroke-width="4.0" stroke-linejoin="round" stroke-linecap="round" />
<path d="M2134.2,1407.4 L2150.4,1413.2" fill="none" stroke="#fff" stroke-width="4.0" stroke-linejoin="round" stroke-linecap="round" />
<path d="M2157.3,1368.2 L2172.3,1376.2" fill="none" stroke="#fff" stroke-width="4.0" stroke-linejoin="round" stroke-linecap="round" />
<path d="M1687.3,1564.6 L1679.8,1557.0 L1672.8,1548.8 L1666.3,1539.8 L1660.3,1530.2 L1654.9,1520.0 L1650.1,1509.2 L1645.8,1497.8 L1642.2,1485.8 L1639.1,1473.3 L1636.6,1460.3 L1634.7,1446.8 L1633.5,1432.9 L1632.8,1418.5 L1632.8,1403.8 L1633.4,1388.8 L1634.6,1373.4 L1636.4,1357.8 L1638.8,1342.0 L1641.8,1325.9 L1645.4,1309.7 L1649.6,1293.4 L1654.4,1277.0 L1659.7,1260.5 L1665.6,1244.1 L1672.0,1227.6 L1679.0,1211.3 L1686.5,1195.0 L1694.4,1178.9 L1702.8,1163.0 L1711.7,1147.3 L1721.0,1131.9 L1730.7,1116.7 L1740.8,1101.9 L1751.3,1087.5 L1762.1,1073.4 L1773.2,1059.8 L1784.7,1046.6 L1796.3,1034.0 L1808.2,1021.8 L1820.3,1010.2 L1832.6,999.2 L1845.1,988.8 L1857.6,979.0 L1870.3,969.9 L1883.0,961.4 L1895.8,953.6 L1908.5,946.5 L1921.2,940.2 L1933.9,934.6 L1946.5,929.8 L1958.9,925.7 L1971.2,922.4 L1983.4,919.9 L1995.3,918.1 L2007.0,917.2 L2018.5,917.0 L2029.7,917.7 L2040.5,919.1 L2051.1,921.3 L2061.2,924.4" fill="none" stroke="#fff" stroke-width="4.3" stroke-linejoin="round" stroke-linecap="round" />
<path d="M1653.7,1357.1 L1654.5,1350.6 L1655.4,1344.1 L1656.4,1337.5 L1657.6,1330.9 L1658.8,1324.3 L1660.2,1317.6 L1661.6,1310.9 L1663.2,1304.2 L1664.9,1297.4 L1666.7,1290.7 L1668.6,1283.9 L1670.6,1277.1 L1672.7,1270.3 L1674.9,1263.4 L1677.2,1256.6 L1679.6,1249.8 L1682.1,1243.0 L1684.8,1236.2 L1687.5,1229.4 L1690.3,1222.6 L1693.2,1215.8 L1696.2,1209.1 L1699.3,1202.3 L1702.5,1195.6 L1705.8,1189.0 L1709.2,1182.3 L1712.6,1175.7 L1716.2,1169.2 L1719.8,1162.6 L1723.5,1156.1 L1727.3,1149.7 L1731.2,1143.3 L1735.1,1137.0 L1739.1,1130.7 L1743.2,1124.5 L1747.4,1118.3 L1751.6,1112.3 L1755.9,1106.2 L1760.3,1100.3 L1764.7,1094.4 L1769.2,1088.6 L1773.8,1082.9 L1778.4,1077.2 L1783.1,1071.7 L1787.8,1066.2 L1792.5,1060.8 L1797.4,1055.6 L1802.2,1050.4 L1807.1,1045.3 L1812.1,1040.3 L1817.1,1035.4 L1822.1,1030.6 L1827.1,1025.9 L1832.2,1021.3 L1837.3,1016.9 L1842.5,1012.5 L1847.6,1008.3 L1852.8,1004.2 L1858.1,1000.2 L1863.3,996.3" fill="none" stroke="#fff" stroke-width="4.3" stroke-linejoin="round" stroke-linecap="round" />
<path d="M2047.4,1118.5 L2047.0,1124.4 L2046.5,1130.4 L2045.9,1136.5 L2045.2,1142.6 L2044.4,1148.8 L2043.4,1155.0 L2042.4,1161.2 L2041.2,1167.5 L2039.9,1173.8 L2038.5,1180.2 L2036.9,1186.6 L2035.3,1192.9 L2033.5,1199.4 L2031.7,1205.8 L2029.7,1212.2 L2027.6,1218.7 L2025.4,1225.1 L2023.1,1231.5 L2020.7,1238.0 L2018.2,1244.4 L2015.6,1250.8 L2012.9,1257.2 L2010.1,1263.6 L2007.2,1270.0 L2004.2,1276.3 L2001.1,1282.6 L1997.9,1288.9 L1994.6,1295.1 L1991.2,1301.3 L1987.8,1307.5 L1984.2,1313.6 L1980.6,1319.6 L1976.9,1325.6 L1973.1,1331.6 L1969.3,1337.5 L1965.3,1343.3 L1961.3,1349.0 L1957.3,1354.7 L1953.1,1360.3 L1948.9,1365.8 L1944.6,1371.3 L1940.3,1376.7 L1935.9,1381.9 L1931.5,1387.1 L1927.0,1392.2 L1922.4,1397.2 L1917.8,1402.1 L1913.2,1406.9 L1908.5,1411.6 L1903.8,1416.2 L1899.0,1420.7 L1894.2,1425.0 L1889.4,1429.3 L1884.5,1433.4 L1879.7,1437.5 L1874.8,1441.3 L1869.8,1445.1 L1864.9,1448.8 L1859.9,1452.3 L1855.0,1455.7" fill="none" stroke="#fff" stroke-width="4.3" stroke-linejoin="round" stroke-linecap="round" />
<path d="M1758.1,1418.0 L1756.3,1417.0 L1756.3,1417.0 L1754.5,1415.8 L1754.5,1415.8 L1752.8,1414.6 L1752.8,1414.6 L1751.1,1413.4 L1751.1,1413.4 L1749.4,1412.1 L1749.4,1412.1 L1747.8,1410.8 L1747.8,1410.8 L1746.2,1409.4 L1746.2,1409.4 L1744.6,1407.9 L1744.6,1407.9 L1743.1,1406.4 L1743.1,1406.4 L1741.6,1404.9 L1741.6,1404.9 L1740.2,1403.3 L1740.2,1403.3 L1738.7,1401.6 L1738.7,1401.6 L1737.4,1399.9 L1737.4,1399.9 L1736.0,1398.2 L1736.0,1398.2 L1734.7,1396.4 L1734.7,1396.4 L1733.5,1394.5 L1733.5,1394.5 L1732.2,1392.6 L1732.2,1392.6 L1731.1,1390.7 L1731.1,1390.7 L1729.9,1388.7 L1729.9,1388.7 L1728.8,1386.6 L1728.8,1386.6 L1727.7,1384.6 L1727.7,1384.6 L1726.7,1382.4 L1726.7,1382.4 L1725.7,1380.3 L1725.7,1380.3 L1724.8,1378.0 L1724.8,1378.0 L1723.9,1375.8 L1723.9,1375.8 L1723.0,1373.5 L1723.0,1373.5 L1722.2,1371.1 L1722.2,1371.1 L1721.4,1368.8 L1721.4,1368.8 L1720.7,1366.3 L1689.5,1394.7 L1688.6,1391.7 L1688.6,1391.7 L1687.8,1388.7 L1687.8,1388.7 L1687.1,1385.6 L1687.1,1385.6 L1686.4,1382.4 L1686.4,1382.4 L1685.8,1379.3 L1685.8,1379.3 L1685.2,1376.0 L1685.2,1376.0 L1684.7,1372.8 L1684.7,1372.8 L1684.2,1369.4 L1684.2,1369.4 L1683.8,1366.1 L1683.8,1366.1 L1683.5,1362.7 L1683.5,1362.7 L1683.2,1359.3 L1683.2,1359.3 L1682.9,1355.8 L1682.9,1355.8 L1682.7,1352.3 L1682.7,1352.3 L1682.6,1348.8 L1682.6,1348.8 L1682.5,1345.2 L1682.5,1345.2 L1682.5,1341.6 L1682.5,1341.6 L1682.5,1338.0 L1682.5,1338.0 L1682.6,1334.3 L1682.6,1334.3 L1682.7,1330.6 L1682.7,1330.6 L1682.9,1326.9 L1682.9,1326.9 L1683.2,1323.1 L1683.2,1323.1 L1683.5,1319.3 L1683.5,1319.3 L1683.8,1315.5 L1683.8,1315.5 L1684.2,1311.7 L1684.2,1311.7 L1684.7,1307.9 L1684.7,1307.9 L1685.2,1304.0 L1685.2,1304.0 L1685.8,1300.1 L1685.8,1300.1 L1686.4,1296.2 L1686.4,1296.2 L1687.1,1292.3 L1687.1,1292.3 L1687.8,1288.3 L1687.8,1288.3 L1688.6,1284.4 L1688.6,1284.4 L1689.5,1280.4 L1689.5,1280.4 L1690.3,1276.4 L1690.3,1276.4 L1691.3,1272.4 L1691.3,1272.4 L1692.3,1268.4 L1723.0,1262.9 L1723.9,1259.6 L1723.9,1259.6 L1724.8,1256.3 L1724.8,1256.3 L1725.7,1253.0 L1725.7,1253.0 L1726.7,1249.7 L1726.7,1249.7 L1727.7,1246.4 L1727.7,1246.4 L1728.8,1243.1 L1728.8,1243.1 L1729.9,1239.8 L1729.9,1239.8 L1731.1,1236.5 L1731.1,1236.5 L1732.2,1233.1 L1732.2,1233.1 L1733.5,1229.8 L1733.5,1229.8 L1734.7,1226.5 L1734.7,1226.5 L1736.0,1223.2 L1736.0,1223.2 L1737.4,1219.9 L1737.4,1219.9 L1738.7,1216.6 L1738.7,1216.6 L1740.2,1213.3 L1740.2,1213.3 L1741.6,1210.0 L1741.6,1210.0 L1743.1,1206.8 L1743.1,1206.8 L1744.6,1203.5 L1744.6,1203.5 L1746.2,1200.3 L1746.2,1200.3 L1747.8,1197.0 L1747.8,1197.0 L1749.4,1193.8 L1749.4,1193.8 L1751.1,1190.6 L1751.1,1190.6 L1752.8,1187.4 L1752.8,1187.4 L1754.5,1184.2 L1754.5,1184.2 L1756.3,1181.0 L1756.3,1181.0 L1758.1,1177.9 L1758.1,1177.9 L1759.9,1174.7 L1759.9,1174.7 L1761.8,1171.6 L1761.8,1171.6 L1763.7,1168.5 L1763.7,1168.5 L1765.6,1165.4 L1765.6,1165.4 L1767.6,1162.4 L1767.6,1162.4 L1769.5,1159.4 L1769.5,1159.4 L1771.5,1156.4 L1771.5,1156.4 L1773.6,1153.4 L1773.6,1153.4 L1775.6,1150.4 L1775.6,1150.4 L1777.7,1147.5 L1777.7,1147.5 L1779.9,1144.6 L1761.7,1124.0 L1764.3,1120.4 L1764.3,1120.4 L1766.9,1117.0 L1766.9,1117.0 L1769.6,1113.5 L1769.6,1113.5 L1772.3,1110.1 L1772.3,1110.1 L1775.0,1106.8 L1775.0,1106.8 L1777.8,1103.5 L1777.8,1103.5 L1780.6,1100.2 L1780.6,1100.2 L1783.4,1097.0 L1783.4,1097.0 L1786.2,1093.8 L1786.2,1093.8 L1789.0,1090.6 L1789.0,1090.6 L1791.9,1087.5 L1791.9,1087.5 L1794.8,1084.5 L1794.8,1084.5 L1797.7,1081.4 L1797.7,1081.4 L1800.7,1078.5 L1800.7,1078.5 L1803.6,1075.6 L1803.6,1075.6 L1806.6,1072.7 L1806.6,1072.7 L1809.6,1069.9 L1809.6,1069.9 L1812.6,1067.1 L1812.6,1067.1 L1815.6,1064.4 L1815.6,1064.4 L1818.6,1061.8 L1818.6,1061.8 L1821.7,1059.2 L1821.7,1059.2 L1824.8,1056.6 L1824.8,1056.6 L1827.8,1054.1 L1827.8,1054.1 L1830.9,1051.7 L1830.9,1051.7 L1834.0,1049.3 L1834.0,1049.3 L1837.1,1047.0 L1837.1,1047.0 L1840.2,1044.7 L1840.2,1044.7 L1843.3,1042.5 L1843.3,1042.5 L1846.4,1040.3 L1846.4,1040.3 L1849.6,1038.2 L1849.6,1038.2 L1852.7,1036.2 L1852.7,1036.2 L1855.8,1034.3 L1855.8,1034.3 L1859.0,1032.4 L1859.0,1032.4 L1862.1,1030.5 L1862.1,1030.5 L1865.2,1028.7 L1864.7,1066.6 L1867.2,1065.2 L1867.2,1065.2 L1869.8,1063.9 L1869.8,1063.9 L1872.4,1062.6 L1872.4,1062.6 L1874.9,1061.3 L1874.9,1061.3 L1877.5,1060.1 L1877.5,1060.1 L1880.0,1059.0 L1880.0,1059.0 L1882.6,1057.9 L1882.6,1057.9 L1885.1,1056.9 L1885.1,1056.9 L1887.6,1055.9 L1887.6,1055.9 L1890.2,1055.0 L1890.2,1055.0 L1892.7,1054.1 L1892.7,1054.1 L1895.2,1053.3 L1895.2,1053.3 L1897.7,1052.6 L1897.7,1052.6 L1900.2,1051.9 L1900.2,1051.9 L1902.6,1051.2 L1902.6,1051.2 L1905.1,1050.7 L1905.1,1050.7 L1907.5,1050.1 L1907.5,1050.1 L1910.0,1049.7 L1910.0,1049.7 L1912.4,1049.3 L1912.4,1049.3 L1914.8,1048.9 L1914.8,1048.9 L1917.2,1048.6 L1917.2,1048.6 L1919.6,1048.4 L1919.6,1048.4 L1921.9,1048.2 L1921.9,1048.2 L1924.3,1048.1 L1924.3,1048.1 L1926.6,1048.0 L1926.6,1048.0 L1928.9,1048.0 L1928.9,1048.0 L1931.1,1048.1 L1931.1,1048.1 L1933.4,1048.2 L1933.4,1048.2 L1935.6,1048.4 L1935.6,1048.4 L1937.9,1048.6 L1937.9,1048.6 L1940.0,1048.9 L1940.0,1048.9 L1942.2,1049.2 L1942.2,1049.2 L1944.3,1049.6 L1944.3,1049.6 L1946.5,1050.1 L1946.5,1050.1 L1948.6,1050.6 L1948.6,1050.6 L1950.6,1051.2 L1950.6,1051.2 L1952.7,1051.8 L1972.7,1010.6 L1975.1,1011.5 L1975.1,1011.5 L1977.5,1012.4 L1977.5,1012.4 L1979.9,1013.4 L1979.9,1013.4 L1982.3,1014.4 L1982.3,1014.4 L1984.6,1015.5 L1984.6,1015.5 L1986.9,1016.7 L1986.9,1016.7 L1989.1,1017.9 L1989.1,1017.9 L1991.3,1019.2 L1991.3,1019.2 L1993.5,1020.6 L1993.5,1020.6 L1995.6,1022.1 L1995.6,1022.1 L1997.6,1023.6 L1997.6,1023.6 L1999.7,1025.2 L1999.7,1025.2 L2001.7,1026.8 L2001.7,1026.8 L2003.6,1028.5 L2003.6,1028.5 L2005.5,1030.3 L2005.5,1030.3 L2007.4,1032.1 L2007.4,1032.1 L2009.2,1034.0 L2009.2,1034.0 L2011.0,1036.0 L2011.0,1036.0 L2012.7,1038.0 L2012.7,1038.0 L2014.4,1040.1 L2014.4,1040.1 L2016.1,1042.2 L2016.1,1042.2 L2017.6,1044.4 L2017.6,1044.4 L2019.2,1046.7 L2019.2,1046.7 L2020.7,1049.0 L2020.7,1049.0 L2022.1,1051.4 L2022.1,1051.4 L2023.5,1053.8 L2023.5,1053.8 L2024.9,1056.3 L2024.9,1056.3 L2026.2,1058.8 L2026.2,1058.8 L2027.4,1061.4 L2027.4,1061.4 L2028.6,1064.1 L2028.6,1064.1 L2029.8,1066.8 L2029.8,1066.8 L2030.9,1069.5 L2030.9,1069.5 L2031.9,1072.3 L2031.9,1072.3 L2032.9,1075.2 L2032.9,1075.2 L2033.9,1078.1 L2002.8,1107.0 L2003.5,1109.5 L2003.5,1109.5 L2004.2,1111.9 L2004.2,1111.9 L2004.8,1114.4 L2004.8,1114.4 L2005.4,1117.0 L2005.4,1117.0 L2006.0,1119.5 L2006.0,1119.5 L2006.5,1122.1 L2006.5,1122.1 L2006.9,1124.8 L2006.9,1124.8 L2007.4,1127.5 L2007.4,1127.5 L2007.7,1130.2 L2007.7,1130.2 L2008.1,1132.9 L2008.1,1132.9 L2008.4,1135.7 L2008.4,1135.7 L2008.6,1138.5 L2008.6,1138.5 L2008.8,1141.3 L2008.8,1141.3 L2009.0,1144.2 L2009.0,1144.2 L2009.1,1147.1 L2009.1,1147.1 L2009.2,1150.0 L2009.2,1150.0 L2009.2,1153.0 L2009.2,1153.0 L2009.2,1156.0 L2009.2,1156.0 L2009.1,1159.0 L2009.1,1159.0 L2009.0,1162.0 L2009.0,1162.0 L2008.8,1165.0 L2008.8,1165.0 L2008.6,1168.1 L2008.6,1168.1 L2008.4,1171.2 L2008.4,1171.2 L2008.1,1174.3 L2008.1,1174.3 L2007.7,1177.4 L2007.7,1177.4 L2007.4,1180.6 L2007.4,1180.6 L2006.9,1183.8 L2006.9,1183.8 L2006.5,1186.9 L2006.5,1186.9 L2006.0,1190.1 L2006.0,1190.1 L2005.4,1193.4 L2005.4,1193.4 L2004.8,1196.6 L2004.8,1196.6 L2004.2,1199.8 L2004.2,1199.8 L2003.5,1203.1 L2003.5,1203.1 L2002.8,1206.3 L2002.8,1206.3 L2002.0,1209.6 L2002.0,1209.6 L2001.2,1212.9 L2001.2,1212.9 L2000.3,1216.2 L2030.9,1211.4 L2029.8,1215.4 L2029.8,1215.4 L2028.6,1219.4 L2028.6,1219.4 L2027.4,1223.5 L2027.4,1223.5 L2026.2,1227.5 L2026.2,1227.5 L2024.9,1231.6 L2024.9,1231.6 L2023.5,1235.6 L2023.5,1235.6 L2022.1,1239.7 L2022.1,1239.7 L2020.7,1243.7 L2020.7,1243.7 L2019.2,1247.8 L2019.2,1247.8 L2017.6,1251.8 L2017.6,1251.8 L2016.1,1255.8 L2016.1,1255.8 L2014.4,1259.9 L2014.4,1259.9 L2012.7,1263.9 L2012.7,1263.9 L2011.0,1267.9 L2011.0,1267.9 L2009.2,1271.9 L2009.2,1271.9 L2007.4,1275.9 L2007.4,1275.9 L2005.5,1279.9 L2005.5,1279.9 L2003.6,1283.9 L2003.6,1283.9 L2001.7,1287.8 L2001.7,1287.8 L1999.7,1291.8 L1999.7,1291.8 L1997.6,1295.7 L1997.6,1295.7 L1995.6,1299.6 L1995.6,1299.6 L1993.5,1303.5 L1993.5,1303.5 L1991.3,1307.4 L1991.3,1307.4 L1989.1,1311.2 L1989.1,1311.2 L1986.9,1315.1 L1986.9,1315.1 L1984.6,1318.9 L1984.6,1318.9 L1982.3,1322.6 L1982.3,1322.6 L1979.9,1326.4 L1979.9,1326.4 L1977.5,1330.1 L1977.5,1330.1 L1975.1,1333.8 L1975.1,1333.8 L1972.7,1337.5 L1972.7,1337.5 L1970.2,1341.1 L1970.2,1341.1 L1967.7,1344.7 L1967.7,1344.7 L1965.1,1348.3 L1946.5,1328.3 L1944.3,1331.2 L1944.3,1331.2 L1942.2,1334.1 L1942.2,1334.1 L1940.0,1336.9 L1940.0,1336.9 L1937.9,1339.7 L1937.9,1339.7 L1935.6,1342.5 L1935.6,1342.5 L1933.4,1345.3 L1933.4,1345.3 L1931.1,1348.0 L1931.1,1348.0 L1928.9,1350.7 L1928.9,1350.7 L1926.6,1353.3 L1926.6,1353.3 L1924.3,1355.9 L1924.3,1355.9 L1921.9,1358.5 L1921.9,1358.5 L1919.6,1361.1 L1919.6,1361.1 L1917.2,1363.6 L1917.2,1363.6 L1914.8,1366.0 L1914.8,1366.0 L1912.4,1368.4 L1912.4,1368.4 L1910.0,1370.8 L1910.0,1370.8 L1907.5,1373.2 L1907.5,1373.2 L1905.1,1375.5 L1905.1,1375.5 L1902.6,1377.7 L1902.6,1377.7 L1900.2,1380.0 L1900.2,1380.0 L1897.7,1382.1 L1897.7,1382.1 L1895.2,1384.3 L1895.2,1384.3 L1892.7,1386.4 L1892.7,1386.4 L1890.2,1388.4 L1890.2,1388.4 L1887.6,1390.4 L1887.6,1390.4 L1885.1,1392.4 L1885.1,1392.4 L1882.6,1394.3 L1882.6,1394.3 L1880.0,1396.1 L1880.0,1396.1 L1877.5,1397.9 L1877.5,1397.9 L1874.9,1399.7 L1874.9,1399.7 L1872.4,1401.4 L1872.4,1401.4 L1869.8,1403.1 L1869.8,1403.1 L1867.2,1404.7 L1867.2,1404.7 L1864.7,1406.2 L1864.7,1406.2 L1862.1,1407.7 L1862.1,1407.7 L1859.5,1409.2 L1859.5,1409.2 L1857.0,1410.6 L1855.8,1448.8 L1852.7,1450.4 L1852.7,1450.4 L1849.6,1452.0 L1849.6,1452.0 L1846.4,1453.5 L1846.4,1453.5 L1843.3,1455.0 L1843.3,1455.0 L1840.2,1456.4 L1840.2,1456.4 L1837.1,1457.7 L1837.1,1457.7 L1834.0,1459.0 L1834.0,1459.0 L1830.9,1460.1 L1830.9,1460.1 L1827.8,1461.3 L1827.8,1461.3 L1824.8,1462.3 L1824.8,1462.3 L1821.7,1463.3 L1821.7,1463.3 L1818.6,1464.2 L1818.6,1464.2 L1815.6,1465.1 L1815.6,1465.1 L1812.6,1465.8 L1812.6,1465.8 L1809.6,1466.5 L1809.6,1466.5 L1806.6,1467.2 L1806.6,1467.2 L1803.6,1467.8 L1803.6,1467.8 L1800.7,1468.2 L1800.7,1468.2 L1797.7,1468.7 L1797.7,1468.7 L1794.8,1469.0 L1794.8,1469.0 L1791.9,1469.3 L1791.9,1469.3 L1789.0,1469.5 L1789.0,1469.5 L1786.2,1469.7 L1786.2,1469.7 L1783.4,1469.8 L1783.4,1469.8 L1780.6,1469.8 L1780.6,1469.8 L1777.8,1469.7 L1777.8,1469.7 L1775.0,1469.6 L1775.0,1469.6 L1772.3,1469.4 L1772.3,1469.4 L1769.6,1469.1 L1769.6,1469.1 L1766.9,1468.7 L1766.9,1468.7 L1764.3,1468.3 L1764.3,1468.3 L1761.7,1467.8 L1761.7,1467.8 L1759.1,1467.3 L1759.1,1467.3 L1756.5,1466.6 L1756.5,1466.6 L1754.0,1465.9 L1773.6,1424.6 L1771.5,1424.0 L1771.5,1424.0 L1769.5,1423.3 L1769.5,1423.3 L1767.6,1422.6 L1767.6,1422.6 L1765.6,1421.8 L1765.6,1421.8 L1763.7,1420.9 L1763.7,1420.9 L1761.8,1420.0 L1761.8,1420.0 L1759.9,1419.1 L1759.9,1419.1 L1758.1,1418.0Z" fill="none" stroke="#fff" stroke-width="4.3" stroke-linejoin="round" stroke-linecap="round" />
<path d="M1944.4,1049.2 L1947.3,1052.5 L1950.0,1055.9 L1952.5,1059.6 L1954.9,1063.4 L1957.2,1067.4 L1959.3,1071.6 L1961.2,1076.0 L1962.9,1080.6 L1964.5,1085.3 L1965.9,1090.2 L1967.2,1095.2 L1968.2,1100.4 L1969.1,1105.7 L1969.9,1111.1 L1970.4,1116.7 L1970.7,1122.4 L1970.9,1128.2 L1970.9,1134.1 L1970.7,1140.1 L1970.4,1146.3 L1969.9,1152.5 L1969.1,1158.7 L1968.2,1165.1 L1967.2,1171.5 L1965.9,1177.9 L1964.5,1184.4 L1962.9,1191.0 L1961.2,1197.6 L1959.3,1204.2 L1957.2,1210.8 L1954.9,1217.4 L1952.5,1224.0 L1950.0,1230.6 L1947.3,1237.2 L1944.4,1243.8 L1941.4,1250.3 L1938.2,1256.8 L1934.9,1263.2 L1931.5,1269.6 L1927.9,1275.9 L1924.2,1282.1 L1920.4,1288.3 L1916.5,1294.4 L1912.5,1300.4 L1908.3,1306.2 L1904.1,1312.0 L1899.7,1317.6 L1895.3,1323.2 L1890.8,1328.6 L1886.1,1333.8 L1881.5,1338.9 L1876.7,1343.9 L1871.9,1348.7 L1867.0,1353.3 L1862.1,1357.8 L1857.1,1362.1 L1852.1,1366.2 L1847.1,1370.2 L1842.0,1373.9 L1836.9,1377.5 L1831.8,1380.9 L1826.6,1384.0 L1821.5,1387.0 L1816.4,1389.7 L1811.3,1392.3 L1806.2,1394.6 L1801.1,1396.7 L1796.1,1398.6 L1791.0,1400.3 L1786.1,1401.7 L1781.1,1402.9 L1776.3,1403.9 L1771.4,1404.7 L1766.7,1405.2 L1762.0,1405.5 L1757.4,1405.5 L1752.9,1405.4 L1748.4,1405.0 L1744.1,1404.4 L1739.8,1403.5" fill="none" stroke="#fff" stroke-width="4.3" stroke-linejoin="round" stroke-linecap="round" />
<path d="M1786.8,1093.0 L1789.2,1090.7 L1791.6,1088.3 L1794.0,1086.0 L1796.5,1083.8 L1799.0,1081.5 L1801.5,1079.4 L1803.9,1077.2 L1806.5,1075.1 L1809.0,1073.1 L1811.5,1071.1 L1814.0,1069.2 L1816.5,1067.3 L1819.1,1065.4 L1821.6,1063.6 L1824.2,1061.8 L1826.7,1060.1 L1829.3,1058.5 L1831.9,1056.9 L1834.4,1055.3 L1837.0,1053.8 L1839.5,1052.4" fill="none" stroke="#fff" stroke-width="4.3" stroke-linejoin="round" stroke-linecap="round" />
<path d="M1780.4,1144.1 L1777.9,1142.7" fill="none" stroke="#fff" stroke-width="4.3" stroke-linejoin="round" stroke-linecap="round" />
<path d="M1839.6,1052.1 L1839.6,1047.4" fill="none" stroke="#fff" stroke-width="4.3" stroke-linejoin="round" stroke-linecap="round" />
<path d="M1864.2,1067.1 L1861.6,1065.7 L1859.1,1064.2 L1856.6,1062.8 L1854.1,1061.3 L1851.6,1059.9 L1849.1,1058.4 L1846.6,1057.0 L1844.1,1055.5 L1841.5,1054.1 L1839.0,1052.6" fill="none" stroke="#fff" stroke-width="4.3" stroke-linejoin="round" stroke-linecap="round" />
<path d="M1974.4,1010.9 L1976.4,1012.5 L1978.3,1014.3 L1980.3,1016.0 L1982.1,1017.9 L1983.9,1019.7 L1985.7,1021.7 L1987.4,1023.7 L1989.1,1025.8 L1990.8,1027.9 L1992.3,1030.1 L1993.9,1032.4 L1995.4,1034.7 L1996.8,1037.1 L1998.2,1039.5 L1999.6,1042.0 L2000.9,1044.5 L2002.1,1047.1 L2003.3,1049.8 L2004.5,1052.5 L2005.6,1055.2 L2006.6,1058.0 L2007.6,1060.9 L2008.5,1063.8" fill="none" stroke="#fff" stroke-width="4.3" stroke-linejoin="round" stroke-linecap="round" />
<path d="M1952.7,1052.2 L1954.3,1053.6 L1955.8,1055.1 L1957.3,1056.7 L1958.7,1058.3 L1960.2,1059.9 L1961.5,1061.6 L1962.9,1063.4 L1964.2,1065.2 L1965.4,1067.0 L1966.7,1068.9 L1967.8,1070.9 L1969.0,1072.8 L1970.1,1074.9 L1971.2,1077.0 L1972.2,1079.1 L1973.2,1081.3 L1974.1,1083.5 L1975.0,1085.7 L1975.8,1088.0 L1976.7,1090.4 L1977.4,1092.7" fill="none" stroke="#fff" stroke-width="4.3" stroke-linejoin="round" stroke-linecap="round" />
<path d="M1977.6,1092.5 L1981.5,1088.9 L1985.4,1085.3 L1989.3,1081.7 L1993.2,1078.1 L1997.1,1074.5 L2001.0,1070.8 L2004.9,1067.2 L2008.7,1063.6" fill="none" stroke="#fff" stroke-width="4.3" stroke-linejoin="round" stroke-linecap="round" />
<path d="M2002.4,1106.8 L1999.9,1105.3 L1997.4,1103.9 L1994.9,1102.4 L1992.4,1101.0 L1989.8,1099.5 L1987.3,1098.1 L1984.8,1096.6 L1982.3,1095.2 L1979.8,1093.7 L1977.3,1092.3" fill="none" stroke="#fff" stroke-width="4.3" stroke-linejoin="round" stroke-linecap="round" />
<path d="M2033.5,1077.7 L2031.0,1076.3 L2028.4,1074.8 L2025.9,1073.4 L2023.4,1071.9 L2020.9,1070.5 L2018.4,1069.0 L2015.9,1067.6 L2013.4,1066.1 L2010.9,1064.7 L2008.4,1063.2" fill="none" stroke="#fff" stroke-width="4.3" stroke-linejoin="round" stroke-linecap="round" />
<path d="M2000.9,1213.0 L1999.6,1217.1 L1998.2,1221.1 L1996.8,1225.2 L1995.4,1229.2 L1993.9,1233.2 L1992.3,1237.3 L1990.8,1241.3 L1989.1,1245.3 L1987.4,1249.4 L1985.7,1253.4 L1983.9,1257.4 L1982.1,1261.4 L1980.3,1265.3 L1978.3,1269.3 L1976.4,1273.3 L1974.4,1277.2 L1972.4,1281.1 L1970.3,1285.0 L1968.2,1288.9 L1966.0,1292.8 L1963.8,1296.6 L1961.6,1300.5 L1959.3,1304.3 L1957.0,1308.0 L1954.7,1311.8 L1952.3,1315.5 L1949.9,1319.2 L1947.4,1322.9 L1944.9,1326.5" fill="none" stroke="#fff" stroke-width="4.3" stroke-linejoin="round" stroke-linecap="round" />
<path d="M1975.0,1201.7 L1974.1,1205.0 L1973.2,1208.3 L1972.2,1211.6 L1971.2,1214.9 L1970.1,1218.2 L1969.0,1221.5 L1967.8,1224.8 L1966.7,1228.1 L1965.4,1231.5 L1964.2,1234.8 L1962.9,1238.1 L1961.5,1241.4 L1960.2,1244.6 L1958.7,1247.9 L1957.3,1251.2 L1955.8,1254.5 L1954.3,1257.7 L1952.7,1261.0 L1951.1,1264.2 L1949.5,1267.5 L1947.8,1270.7 L1946.1,1273.9 L1944.4,1277.0 L1942.6,1280.2 L1940.8,1283.4 L1939.0,1286.5 L1937.1,1289.6 L1935.3,1292.7 L1933.3,1295.8 L1931.4,1298.8 L1929.4,1301.8 L1927.4,1304.8 L1925.4,1307.8 L1923.3,1310.8 L1921.2,1313.7" fill="none" stroke="#fff" stroke-width="4.3" stroke-linejoin="round" stroke-linecap="round" />
<path d="M1975.2,1201.7 L1979.0,1201.1" fill="none" stroke="#fff" stroke-width="4.3" stroke-linejoin="round" stroke-linecap="round" />
<path d="M1999.9,1216.9 L1997.4,1215.4 L1994.9,1214.0 L1992.4,1212.5 L1989.9,1211.1 L1987.4,1209.6 L1984.9,1208.2 L1982.4,1206.7 L1979.8,1205.3 L1977.3,1203.8 L1974.8,1202.4" fill="none" stroke="#fff" stroke-width="4.3" stroke-linejoin="round" stroke-linecap="round" />
<path d="M1921.3,1313.8 L1923.7,1316.3" fill="none" stroke="#fff" stroke-width="4.3" stroke-linejoin="round" stroke-linecap="round" />
<path d="M1946.8,1327.6 L1944.2,1326.1 L1941.7,1324.7 L1939.2,1323.2 L1936.7,1321.8 L1934.2,1320.3 L1931.7,1318.9 L1929.2,1317.4 L1926.7,1316.0 L1924.2,1314.5 L1921.6,1313.1" fill="none" stroke="#fff" stroke-width="4.3" stroke-linejoin="round" stroke-linecap="round" />
<path d="M1965.5,1347.5 L1963.0,1346.0" fill="none" stroke="#fff" stroke-width="4.3" stroke-linejoin="round" stroke-linecap="round" />
<path d="M1830.7,1434.0 L1827.6,1435.7 L1824.5,1437.3 L1821.4,1438.8 L1818.2,1440.2 L1815.1,1441.6 L1812.0,1442.9 L1808.9,1444.2 L1805.8,1445.4 L1802.8,1446.5 L1799.7,1447.6 L1796.6,1448.5 L1793.6,1449.4 L1790.6,1450.3 L1787.5,1451.1 L1784.5,1451.8 L1781.5,1452.4 L1778.6,1453.0 L1775.6,1453.5 L1772.7,1453.9 L1769.8,1454.3 L1766.9,1454.5 L1764.0,1454.8 L1761.2,1454.9 L1758.3,1455.0" fill="none" stroke="#fff" stroke-width="4.3" stroke-linejoin="round" stroke-linecap="round" />
<path d="M1831.9,1395.8 L1829.3,1397.2 L1826.7,1398.5 L1824.2,1399.7 L1821.6,1400.9 L1819.1,1402.1 L1816.5,1403.1 L1814.0,1404.2 L1811.5,1405.1 L1809.0,1406.0 L1806.5,1406.9 L1803.9,1407.7 L1801.5,1408.5 L1799.0,1409.2 L1796.5,1409.8 L1794.0,1410.4 L1791.6,1410.9 L1789.2,1411.4 L1786.8,1411.8 L1784.4,1412.1 L1782.0,1412.4 L1779.6,1412.6 L1777.2,1412.8 L1774.9,1412.9 L1772.6,1413.0 L1770.3,1413.0 L1768.0,1412.9 L1765.8,1412.8 L1763.6,1412.7 L1761.3,1412.4 L1759.2,1412.2 L1757.0,1411.8 L1754.9,1411.4 L1752.7,1411.0 L1750.7,1410.4 L1748.6,1409.9" fill="none" stroke="#fff" stroke-width="4.3" stroke-linejoin="round" stroke-linecap="round" />
<path d="M1831.9,1396.1 L1831.7,1400.9 L1831.6,1405.6 L1831.4,1410.4 L1831.3,1415.2 L1831.1,1420.0 L1831.0,1424.7 L1830.9,1429.5 L1830.7,1434.3" fill="none" stroke="#fff" stroke-width="4.3" stroke-linejoin="round" stroke-linecap="round" />
<path d="M1856.5,1410.6 L1854.0,1409.2 L1851.4,1407.7 L1848.9,1406.3 L1846.4,1404.8 L1843.9,1403.4 L1841.4,1401.9 L1838.9,1400.5 L1836.4,1399.0 L1833.9,1397.6 L1831.3,1396.1" fill="none" stroke="#fff" stroke-width="4.3" stroke-linejoin="round" stroke-linecap="round" />
<path d="M1855.2,1448.9 L1852.7,1447.4 L1850.2,1446.0 L1847.7,1444.5 L1845.2,1443.1 L1842.7,1441.6 L1840.1,1440.2 L1837.6,1438.7 L1835.1,1437.3 L1832.6,1435.8 L1830.1,1434.4" fill="none" stroke="#fff" stroke-width="4.3" stroke-linejoin="round" stroke-linecap="round" />
<path d="M1774.1,1424.5 L1771.6,1423.0 L1769.1,1421.6 L1766.6,1420.1 L1764.1,1418.7 L1761.6,1417.2 L1759.1,1415.8 L1756.5,1414.3 L1754.0,1412.9 L1751.5,1411.4 L1749.0,1410.0" fill="none" stroke="#fff" stroke-width="4.3" stroke-linejoin="round" stroke-linecap="round" />
<path d="M1695.8,1351.7 L1695.1,1349.2 L1694.5,1346.7 L1693.9,1344.2 L1693.3,1341.6 L1692.8,1339.0 L1692.4,1336.4 L1691.9,1333.7 L1691.5,1331.0 L1691.2,1328.2 L1690.9,1325.5 L1690.7,1322.7 L1690.5,1319.8 L1690.3,1317.0 L1690.2,1314.1 L1690.1,1311.1 L1690.1,1308.2 L1690.1,1305.2 L1690.2,1302.2 L1690.3,1299.2 L1690.5,1296.2 L1690.7,1293.1 L1690.9,1290.0 L1691.2,1286.9 L1691.5,1283.8 L1691.9,1280.6 L1692.4,1277.5 L1692.8,1274.3 L1693.3,1271.1 L1693.9,1267.9" fill="none" stroke="#fff" stroke-width="4.3" stroke-linejoin="round" stroke-linecap="round" />
<path d="M1695.6,1351.8 L1691.7,1355.4 L1687.8,1358.9 L1683.9,1362.5" fill="none" stroke="#fff" stroke-width="4.3" stroke-linejoin="round" stroke-linecap="round" />
<path d="M1720.8,1365.7 L1718.3,1364.2 L1715.8,1362.8 L1713.2,1361.3 L1710.7,1359.9 L1708.2,1358.4 L1705.7,1357.0 L1703.2,1355.5 L1700.7,1354.1 L1698.2,1352.6 L1695.7,1351.2" fill="none" stroke="#fff" stroke-width="4.3" stroke-linejoin="round" stroke-linecap="round" />
<g stroke="#FF0000" stroke-width="4.8" stroke-linecap="round" fill="none"><line x1="1815.4" y1="1069.6" x2="1904.4" y2="1121.0"/><line x1="1920.8" y1="1130.5" x2="1934.1" y2="1138.2"/><line x1="1950.5" y1="1147.6" x2="1963.3" y2="1155.0"/><line x1="1979.9" y1="1164.6" x2="2050.7" y2="1205.5"/><line x1="2067.3" y1="1215.1" x2="2080.4" y2="1222.7"/><line x1="2097.3" y1="1232.4" x2="2109.9" y2="1239.7"/><line x1="2126.5" y1="1249.2" x2="2214.9" y2="1300.3"/><line x1="1749.9" y1="1199.5" x2="1838.9" y2="1250.9"/><line x1="1855.3" y1="1260.3" x2="1868.6" y2="1268.0"/><line x1="1885.0" y1="1277.5" x2="1897.8" y2="1284.9"/><line x1="1914.4" y1="1294.4" x2="1985.2" y2="1335.4"/><line x1="2001.8" y1="1344.9" x2="2014.9" y2="1352.5"/><line x1="2031.8" y1="1362.2" x2="2044.4" y2="1369.5"/><line x1="2061.0" y1="1379.1" x2="2149.4" y2="1430.2"/><line x1="1693.0" y1="1296.5" x2="1782.0" y2="1347.9"/><line x1="1798.4" y1="1357.4" x2="1811.7" y2="1365.1"/><line x1="1828.1" y1="1374.5" x2="1840.9" y2="1381.9"/><line x1="1857.5" y1="1391.5" x2="1928.3" y2="1432.4"/><line x1="1944.9" y1="1441.9" x2="1958.0" y2="1449.5"/><line x1="1974.9" y1="1459.3" x2="1987.5" y2="1466.6"/><line x1="2004.1" y1="1476.1" x2="2092.5" y2="1527.2"/><line x1="1735.2" y1="1233.5" x2="1824.2" y2="1284.9"/><line x1="1840.6" y1="1294.3" x2="1853.9" y2="1302.0"/><line x1="1870.3" y1="1311.5" x2="1883.1" y2="1318.9"/><line x1="1899.7" y1="1328.5" x2="1970.5" y2="1369.4"/><line x1="1987.1" y1="1378.9" x2="2000.2" y2="1386.5"/><line x1="2017.1" y1="1396.2" x2="2029.7" y2="1403.5"/><line x1="2046.3" y1="1413.1" x2="2134.7" y2="1464.2"/><line x1="1798.6" y1="1086.3" x2="1887.6" y2="1137.7"/><line x1="1904.0" y1="1147.2" x2="1917.3" y2="1154.9"/><line x1="1933.7" y1="1164.3" x2="1946.5" y2="1171.7"/><line x1="1963.1" y1="1181.3" x2="2033.9" y2="1222.2"/><line x1="2050.5" y1="1231.7" x2="2063.6" y2="1239.3"/><line x1="2080.5" y1="1249.1" x2="2093.1" y2="1256.4"/><line x1="2109.7" y1="1265.9" x2="2198.1" y2="1317.0"/></g>
<polygon points="2254.7,1274.8 2279.5,1288.8 2296.1,1279.2 2318.3,1269.6 2340.5,1263.7 2351.1,1261.8 2362.2,1260.7 2373.3,1261.1 2380.3,1262.5 2376,1266.5 2383,1268.2 2391.8,1269.9 2406.5,1274.4 2421.3,1281.8 2436.1,1292.8 2447.2,1305.4 2454.6,1318.7 2459.8,1333.5 2465.7,1350 2481.9,1397.3 2484.6,1401.4 2487.2,1405.8 2489.5,1410.4 2491.5,1415.3 2493.3,1420.3 2494.9,1425.6 2496.2,1431.1 2497.7,1436.4 2498.9,1441.9 2499.8,1447.7 2500.5,1453.6 2501.0,1459.7 2501.1,1466.0 2501.1,1472.4 2500.8,1478.9 2500.2,1485.6 2499.4,1492.4 2498.3,1499.3 2496.9,1506.3 2495.4,1513.3 2493.6,1520.4 2491.5,1527.5 2489.2,1534.6 2486.7,1541.8 2483.9,1548.9 2481.0,1556.0 2477.8,1563.0 2474.4,1570.1 2470.8,1577.0 2467.1,1583.8 2463.1,1590.6 2459.0,1597.2 2454.7,1603.7 2450.3,1610.1 2445.7,1616.3 2440.9,1622.3 2436.1,1628.2 2431.1,1633.8 2426.0,1639.3 2420.8,1644.5 2415.6,1649.5 2410.3,1654.3 2404.9,1658.8 2399.4,1663.0 2393.9,1667.0 2388.4,1670.7 2382.9,1674.2 2377.4,1677.3 2371.8,1680.1 2366.3,1682.6 2360.9,1684.9 2355.5,1686.8 2350.1,1688.4 2344.7,1690.1 2339.3,1691.6 2333.9,1692.7 2328.7,1693.6 2323.5,1694.0 2318.4,1694.2 2313.4,1694.0 2244.1,1706.4 2230,1708.3 2217.9,1708.7 2199.4,1706.5 2180.9,1700.6 2166.1,1690.2 2155,1677.6 2148,1668.5 2142.1,1669.5 2136.5,1661.4 2129.9,1650.3 2124.7,1637 2121,1624.8 2096.6,1611 2092.9,1588.7 2091.8,1570.2 2092.1,1551.8 2094.4,1529.6 2097.3,1513 2120.2,1525.5 2123.2,1520 2126.5,1505 2133.2,1483.5 2141.3,1461.4 2152.4,1435.5 2162,1416.3 2173.1,1400 2180.3,1390.9 2189.1,1376.2 2196.5,1364.3 2173.6,1350.6 2185.5,1337 2201,1318.5 2218.7,1302.2 2229.6,1291.8" fill="#2D70C0" stroke="none" stroke-width="0" stroke-linejoin="round" />
<path d="M2378,1265.3 C2375.0,1265.3 2366.2,1264.9 2360,1265.6 C2353.8,1266.3 2347.4,1267.5 2340.5,1269.6 C2333.6,1271.7 2325.7,1274.8 2318.3,1278.4 C2310.9,1282.0 2303.4,1286.5 2296.1,1291 C2288.8,1295.5 2281.3,1300.7 2274.5,1305.5 C2267.7,1310.3 2262.1,1314.0 2255,1320 C2247.9,1326.0 2238.2,1335.2 2232,1341.5 C2225.8,1347.8 2222.2,1352.0 2217.5,1358 C2212.8,1364.0 2208.4,1370.5 2203.5,1377.5 C2198.6,1384.5 2192.5,1393.3 2188,1400.3 C2183.5,1407.2 2180.1,1412.8 2176.3,1419.2 C2172.5,1425.6 2168.7,1430.9 2165,1438.4 C2161.3,1445.9 2157.2,1455.9 2153.9,1464.3 C2150.6,1472.7 2147.6,1481.4 2145,1488.7 C2142.4,1496.0 2140.6,1501.2 2138.6,1508 C2136.6,1514.8 2134.6,1521.1 2132.8,1529.6 C2131.0,1538.1 2128.8,1550.5 2127.6,1559.1 C2126.4,1567.7 2125.7,1574.3 2125.4,1581.3 C2125.1,1588.3 2125.6,1595.4 2125.9,1601 C2126.2,1606.6 2126.5,1609.8 2127.3,1614.8 C2128.1,1619.8 2129.3,1625.9 2130.6,1631.1 C2131.9,1636.3 2133.4,1640.9 2135.1,1645.8 C2136.8,1650.7 2139.4,1656.8 2141,1660.6 C2142.6,1664.4 2143.9,1667.2 2144.5,1668.5" fill="none" stroke="#fff" stroke-width="5.0" stroke-linejoin="round" stroke-linecap="round" />
<path d="M2313.4,1694.0 L2307.5,1692.6 L2301.9,1690.6 L2296.5,1688.2 L2291.5,1685.2 L2286.7,1681.7 L2282.3,1677.7 L2278.2,1673.2 L2274.5,1668.3 L2271.1,1662.9 L2268.2,1657.0 L2265.6,1650.8 L2263.4,1644.1 L2261.6,1637.1 L2260.2,1629.8 L2259.2,1622.1 L2258.7,1614.2 L2258.6,1605.9 L2258.8,1597.5 L2259.6,1588.8 L2260.7,1579.9 L2262.2,1570.9 L2264.2,1561.8 L2266.5,1552.6 L2269.3,1543.4 L2272.4,1534.1 L2275.9,1524.8 L2279.8,1515.6 L2284.0,1506.4 L2288.6,1497.3 L2293.4,1488.4 L2298.6,1479.7 L2304.1,1471.1 L2309.8,1462.8 L2315.8,1454.7 L2321.9,1446.9 L2328.3,1439.4 L2334.9,1432.2 L2341.6,1425.4 L2348.5,1419.0 L2355.5,1413.0 L2362.6,1407.4 L2369.7,1402.3 L2376.9,1397.6 L2384.1,1393.4 L2391.3,1389.7 L2398.4,1386.5 L2405.5,1383.8 L2412.5,1381.6 L2419.4,1380.0 L2426.2,1378.9 L2432.8,1378.3 L2439.2,1378.3 L2445.4,1378.8 L2451.5,1379.9 L2457.2,1381.5 L2462.8,1383.6 L2468.0,1386.3 L2472.9,1389.5 L2477.6,1393.2 L2481.9,1397.3" fill="none" stroke="#fff" stroke-width="4.8" stroke-linejoin="round" stroke-linecap="round" />
<clipPath id="cpHole"><ellipse cx="2381.3" cy="1536.7" rx="103.7" ry="59.87" transform="rotate(-60 2381.3 1536.7)"/></clipPath>
<ellipse cx="2381.3" cy="1536.7" rx="103.7" ry="59.87" transform="rotate(-60 2381.3 1536.7)" fill="#fff" stroke="none" stroke-width="0" />
<clipPath id="cpHole2"><ellipse cx="2368.5" cy="1529.3" rx="99" ry="57.16" transform="rotate(-60 2368.5 1529.3)"/></clipPath>
<g clip-path="url(#cpHole)">
<path d="M2437.4,1455.9 L2439.7,1459.6 L2441.7,1463.6 L2443.4,1467.9 L2444.8,1472.6 L2445.8,1477.5 L2446.6,1482.7 L2446.9,1488.2 L2447.0,1493.8 L2446.7,1499.6 L2446.1,1505.6 L2445.1,1511.7 L2443.8,1518.0 L2442.2,1524.3 L2440.3,1530.6 L2438.1,1536.9 L2435.6,1543.3 L2432.8,1549.5 L2429.7,1555.7 L2426.4,1561.8 L2422.8,1567.8 L2419.0,1573.6 L2415.0,1579.2 L2410.8,1584.6 L2406.5,1589.8 L2402.0,1594.7 L2397.4,1599.3 L2392.6,1603.6 L2387.8,1607.5 L2383.0,1611.1 L2378.1,1614.4 L2373.1,1617.3 L2368.2,1619.7 L2363.4,1621.8 L2358.5,1623.4 L2353.8,1624.7 L2349.2,1625.5 L2344.7,1625.8 L2340.3,1625.8 L2336.1,1625.3 L2332.0,1624.3" fill="none" stroke="#2D70C0" stroke-width="1.3" stroke-linejoin="round" stroke-linecap="round" />
<g clip-path="url(#cpHole2)">
<path d="M2404.9,1431.3 C2405.8,1435.2 2411.8,1445.2 2410.4,1454.9 C2409.0,1464.6 2403.1,1474.5 2396.6,1489.5 C2390.1,1504.5 2378.3,1528.8 2371.6,1545.0 C2364.9,1561.2 2360.3,1574.6 2356.4,1586.6 C2352.5,1598.6 2351.1,1608.8 2348.1,1617.1 C2345.1,1625.4 2340.0,1633.3 2338.4,1636.5 L2521.3,1636.5 L2521.3,1431.3Z" fill="#2D70C0" stroke="none" stroke-width="0" stroke-linejoin="round" stroke-linecap="round" />
<path d="M2433.4,1468.3 L2434.4,1472.6 L2435.1,1477.1 L2435.6,1481.8 L2435.8,1486.6 L2435.7,1491.6 L2435.4,1496.8 L2434.8,1502.1 L2433.9,1507.5 L2432.8,1512.9 L2431.4,1518.4 L2429.7,1524.0 L2427.9,1529.6 L2425.8,1535.1 L2423.4,1540.7 L2420.8,1546.2 L2418.1,1551.6 L2415.1,1556.9 L2411.9,1562.1 L2408.6,1567.2 L2405.1,1572.1 L2401.4,1576.9 L2397.7,1581.5 L2393.8,1585.9 L2389.7,1590.0 L2385.6,1593.9 L2381.5,1597.6 L2377.2,1601.0 L2372.9,1604.1 L2368.6,1606.9 L2364.3,1609.4 L2360.0,1611.6 L2355.7,1613.5 L2351.5,1615.0 L2347.3,1616.3 L2343.2,1617.1 L2339.2,1617.7 L2335.2,1617.9 L2331.4,1617.7 L2327.8,1617.2 L2324.2,1616.4" fill="none" stroke="#fff" stroke-width="1.3" stroke-linejoin="round" stroke-linecap="round" />
</g>
<polygon points="2411.8,1453.7 2418.2,1450.5 2435.2,1462.5 2432.8,1466.1" fill="#fff" stroke="none" stroke-width="0" stroke-linejoin="round" />
</g>
<clipPath id="cpB0"><ellipse cx="2474.2" cy="1450.0" rx="17.5" ry="10.10" transform="rotate(-60 2474.2 1450.0)"/></clipPath>
<ellipse cx="2474.2" cy="1450.0" rx="24" ry="13.86" transform="rotate(-60 2474.2 1450.0)" fill="#fff" stroke="none" stroke-width="0" />
<g clip-path="url(#cpB0)">
<ellipse cx="2474.2" cy="1450.0" rx="17.5" ry="10.10" transform="rotate(-60 2474.2 1450.0)" fill="#2D70C0" stroke="none" stroke-width="0" />
<ellipse cx="2464.5" cy="1447.8" rx="18.5" ry="10.68" transform="rotate(-60 2464.5 1447.8)" fill="#fff" stroke="none" stroke-width="0" />
</g>
<clipPath id="cpB1"><ellipse cx="2437.2" cy="1596.3" rx="17.5" ry="10.10" transform="rotate(-60 2437.2 1596.3)"/></clipPath>
<ellipse cx="2437.2" cy="1596.3" rx="24" ry="13.86" transform="rotate(-60 2437.2 1596.3)" fill="#fff" stroke="none" stroke-width="0" />
<g clip-path="url(#cpB1)">
<ellipse cx="2437.2" cy="1596.3" rx="17.5" ry="10.10" transform="rotate(-60 2437.2 1596.3)" fill="#2D70C0" stroke="none" stroke-width="0" />
<ellipse cx="2427.5" cy="1594.1" rx="18.5" ry="10.68" transform="rotate(-60 2427.5 1594.1)" fill="#fff" stroke="none" stroke-width="0" />
</g>
<clipPath id="cpB2"><ellipse cx="2322.9" cy="1660.2" rx="17.5" ry="10.10" transform="rotate(-60 2322.9 1660.2)"/></clipPath>
<ellipse cx="2322.9" cy="1660.2" rx="24" ry="13.86" transform="rotate(-60 2322.9 1660.2)" fill="#fff" stroke="none" stroke-width="0" />
<g clip-path="url(#cpB2)">
<ellipse cx="2322.9" cy="1660.2" rx="17.5" ry="10.10" transform="rotate(-60 2322.9 1660.2)" fill="#2D70C0" stroke="none" stroke-width="0" />
<ellipse cx="2313.2" cy="1658.0" rx="18.5" ry="10.68" transform="rotate(-60 2313.2 1658.0)" fill="#fff" stroke="none" stroke-width="0" />
</g>
<clipPath id="cpB3"><ellipse cx="2289.3" cy="1553.4" rx="17.5" ry="10.10" transform="rotate(-60 2289.3 1553.4)"/></clipPath>
<ellipse cx="2289.3" cy="1553.4" rx="24" ry="13.86" transform="rotate(-60 2289.3 1553.4)" fill="#fff" stroke="none" stroke-width="0" />
<g clip-path="url(#cpB3)">
<ellipse cx="2289.3" cy="1553.4" rx="17.5" ry="10.10" transform="rotate(-60 2289.3 1553.4)" fill="#2D70C0" stroke="none" stroke-width="0" />
<ellipse cx="2279.6" cy="1551.2" rx="18.5" ry="10.68" transform="rotate(-60 2279.6 1551.2)" fill="#fff" stroke="none" stroke-width="0" />
</g>
<clipPath id="cpB4"><ellipse cx="2382.8" cy="1423.6" rx="17.5" ry="10.10" transform="rotate(-60 2382.8 1423.6)"/></clipPath>
<ellipse cx="2382.8" cy="1423.6" rx="24" ry="13.86" transform="rotate(-60 2382.8 1423.6)" fill="#fff" stroke="none" stroke-width="0" />
<g clip-path="url(#cpB4)">
<ellipse cx="2382.8" cy="1423.6" rx="17.5" ry="10.10" transform="rotate(-60 2382.8 1423.6)" fill="#2D70C0" stroke="none" stroke-width="0" />
<ellipse cx="2373.1" cy="1421.4" rx="18.5" ry="10.68" transform="rotate(-60 2373.1 1421.4)" fill="#fff" stroke="none" stroke-width="0" />
</g>
<g stroke="#FF0000" stroke-width="4.8" stroke-linecap="round" fill="none"><line x1="2464.2" y1="1444.2" x2="2566.3" y2="1503.2"/><line x1="2583.2" y1="1512.9" x2="2596.4" y2="1520.6"/><line x1="2612.1" y1="1529.6" x2="2625.2" y2="1537.2"/><line x1="2642.1" y1="1546.9" x2="2802.1" y2="1639.3"/><line x1="2427.3" y1="1590.6" x2="2473.9" y2="1617.5"/><line x1="2491.3" y1="1627.5" x2="2504.4" y2="1635.1"/><line x1="2521.3" y1="1644.8" x2="2534.4" y2="1652.4"/><line x1="2550.2" y1="1661.5" x2="2622.1" y2="1703.1"/><line x1="2638.8" y1="1712.7" x2="2652.1" y2="1720.4"/><line x1="2668.3" y1="1729.7" x2="2681.4" y2="1737.3"/><line x1="2698.2" y1="1747.0" x2="2765.1" y2="1785.6"/><line x1="2320.3" y1="1528.8" x2="2406.1" y2="1578.4"/><line x1="2313.0" y1="1654.5" x2="2359.6" y2="1681.4"/><line x1="2377.0" y1="1691.4" x2="2390.1" y2="1699.0"/><line x1="2407.0" y1="1708.7" x2="2420.1" y2="1716.3"/><line x1="2435.9" y1="1725.4" x2="2507.8" y2="1767.0"/><line x1="2524.5" y1="1776.6" x2="2537.8" y2="1784.3"/><line x1="2554.0" y1="1793.6" x2="2567.1" y2="1801.2"/><line x1="2583.9" y1="1810.9" x2="2650.8" y2="1849.5"/><line x1="2279.4" y1="1547.7" x2="2326.0" y2="1574.6"/><line x1="2343.4" y1="1584.6" x2="2356.5" y2="1592.2"/><line x1="2373.4" y1="1601.9" x2="2386.5" y2="1609.5"/><line x1="2402.3" y1="1618.6" x2="2474.2" y2="1660.2"/><line x1="2490.9" y1="1669.8" x2="2504.2" y2="1677.5"/><line x1="2520.4" y1="1686.8" x2="2533.5" y2="1694.4"/><line x1="2550.3" y1="1704.1" x2="2617.2" y2="1742.7"/><line x1="2372.9" y1="1417.9" x2="2419.5" y2="1444.8"/><line x1="2436.9" y1="1454.8" x2="2450.0" y2="1462.4"/><line x1="2466.9" y1="1472.1" x2="2480.0" y2="1479.7"/><line x1="2495.8" y1="1488.8" x2="2567.7" y2="1530.4"/><line x1="2584.4" y1="1540.0" x2="2597.7" y2="1547.7"/><line x1="2613.9" y1="1557.0" x2="2627.0" y2="1564.6"/><line x1="2643.8" y1="1574.3" x2="2710.7" y2="1612.9"/></g>
<polygon points="2796.6,1620.5 2837.7,1644.3 2824.2,1667.7 2783.1,1643.9" fill="#C47E2B"/>
<ellipse cx="2789.8" cy="1632.2" rx="13.5" ry="7.79" transform="rotate(-60 2789.8 1632.2)" fill="#C47E2B" stroke="none" stroke-width="0" />
<ellipse cx="2837.9" cy="1660.0" rx="29.1" ry="16.80" transform="rotate(-60 2837.9 1660.0)" fill="#C47E2B" stroke="#fff" stroke-width="6" />
<ellipse cx="2837.9" cy="1660.0" rx="29.1" ry="16.80" transform="rotate(-60 2837.9 1660.0)" fill="#C47E2B" stroke="none" stroke-width="0" />
<ellipse cx="2839.2" cy="1660.7" rx="28.9" ry="16.69" transform="rotate(-60 2839.2 1660.7)" fill="#C47E2B" stroke="none" stroke-width="0" />
<ellipse cx="2840.5" cy="1661.5" rx="28.5" ry="16.45" transform="rotate(-60 2840.5 1661.5)" fill="#C47E2B" stroke="none" stroke-width="0" />
<ellipse cx="2841.8" cy="1662.2" rx="27.9" ry="16.11" transform="rotate(-60 2841.8 1662.2)" fill="#C47E2B" stroke="none" stroke-width="0" />
<ellipse cx="2843.1" cy="1663.0" rx="27" ry="15.59" transform="rotate(-60 2843.1 1663.0)" fill="#C47E2B" stroke="none" stroke-width="0" />
<ellipse cx="2844.4" cy="1663.7" rx="25.9" ry="14.95" transform="rotate(-60 2844.4 1663.7)" fill="#C47E2B" stroke="none" stroke-width="0" />
<ellipse cx="2845.7" cy="1664.5" rx="24.5" ry="14.15" transform="rotate(-60 2845.7 1664.5)" fill="#C47E2B" stroke="none" stroke-width="0" />
<ellipse cx="2847.0" cy="1665.2" rx="22.9" ry="13.22" transform="rotate(-60 2847.0 1665.2)" fill="#C47E2B" stroke="none" stroke-width="0" />
<ellipse cx="2848.3" cy="1666.0" rx="21" ry="12.12" transform="rotate(-60 2848.3 1666.0)" fill="#C47E2B" stroke="none" stroke-width="0" />
<ellipse cx="2849.6" cy="1666.7" rx="19" ry="10.97" transform="rotate(-60 2849.6 1666.7)" fill="#C47E2B" stroke="none" stroke-width="0" />
<ellipse cx="2850.9" cy="1667.5" rx="16.8" ry="9.70" transform="rotate(-60 2850.9 1667.5)" fill="#C47E2B" stroke="none" stroke-width="0" />
<ellipse cx="2851.2" cy="1667.7" rx="17.3" ry="9.99" transform="rotate(-60 2851.2 1667.7)" fill="#fff" stroke="none" stroke-width="0" />
<line x1="2848.7" y1="1673.2" x2="2853.7" y2="1667.9" stroke="#C47E2B" stroke-width="3"/>
<polygon points="2854.4,1661.2 2857.2,1660.2 2857.2,1663.7" fill="#C47E2B"/>
<polygon points="2759.6,1766.8 2800.7,1790.6 2787.2,1814.0 2746.1,1790.2" fill="#C47E2B"/>
<ellipse cx="2752.8" cy="1778.5" rx="13.5" ry="7.79" transform="rotate(-60 2752.8 1778.5)" fill="#C47E2B" stroke="none" stroke-width="0" />
<ellipse cx="2800.9" cy="1806.3" rx="29.1" ry="16.80" transform="rotate(-60 2800.9 1806.3)" fill="#C47E2B" stroke="#fff" stroke-width="6" />
<ellipse cx="2800.9" cy="1806.3" rx="29.1" ry="16.80" transform="rotate(-60 2800.9 1806.3)" fill="#C47E2B" stroke="none" stroke-width="0" />
<ellipse cx="2802.2" cy="1807.0" rx="28.9" ry="16.69" transform="rotate(-60 2802.2 1807.0)" fill="#C47E2B" stroke="none" stroke-width="0" />
<ellipse cx="2803.5" cy="1807.8" rx="28.5" ry="16.45" transform="rotate(-60 2803.5 1807.8)" fill="#C47E2B" stroke="none" stroke-width="0" />
<ellipse cx="2804.8" cy="1808.5" rx="27.9" ry="16.11" transform="rotate(-60 2804.8 1808.5)" fill="#C47E2B" stroke="none" stroke-width="0" />
<ellipse cx="2806.1" cy="1809.3" rx="27" ry="15.59" transform="rotate(-60 2806.1 1809.3)" fill="#C47E2B" stroke="none" stroke-width="0" />
<ellipse cx="2807.4" cy="1810.0" rx="25.9" ry="14.95" transform="rotate(-60 2807.4 1810.0)" fill="#C47E2B" stroke="none" stroke-width="0" />
<ellipse cx="2808.7" cy="1810.8" rx="24.5" ry="14.15" transform="rotate(-60 2808.7 1810.8)" fill="#C47E2B" stroke="none" stroke-width="0" />
<ellipse cx="2810.0" cy="1811.5" rx="22.9" ry="13.22" transform="rotate(-60 2810.0 1811.5)" fill="#C47E2B" stroke="none" stroke-width="0" />
<ellipse cx="2811.3" cy="1812.3" rx="21" ry="12.12" transform="rotate(-60 2811.3 1812.3)" fill="#C47E2B" stroke="none" stroke-width="0" />
<ellipse cx="2812.6" cy="1813.0" rx="19" ry="10.97" transform="rotate(-60 2812.6 1813.0)" fill="#C47E2B" stroke="none" stroke-width="0" />
<ellipse cx="2813.9" cy="1813.8" rx="16.8" ry="9.70" transform="rotate(-60 2813.9 1813.8)" fill="#C47E2B" stroke="none" stroke-width="0" />
<ellipse cx="2814.2" cy="1814.0" rx="17.3" ry="9.99" transform="rotate(-60 2814.2 1814.0)" fill="#fff" stroke="none" stroke-width="0" />
<line x1="2811.7" y1="1819.5" x2="2816.7" y2="1814.2" stroke="#C47E2B" stroke-width="3"/>
<polygon points="2817.4,1807.5 2820.2,1806.5 2820.2,1810.0" fill="#C47E2B"/>
<polygon points="2645.3,1830.7 2686.4,1854.5 2672.9,1877.9 2631.8,1854.1" fill="#C47E2B"/>
<ellipse cx="2638.5" cy="1842.4" rx="13.5" ry="7.79" transform="rotate(-60 2638.5 1842.4)" fill="#C47E2B" stroke="none" stroke-width="0" />
<ellipse cx="2686.6" cy="1870.2" rx="29.1" ry="16.80" transform="rotate(-60 2686.6 1870.2)" fill="#C47E2B" stroke="#fff" stroke-width="6" />
<ellipse cx="2686.6" cy="1870.2" rx="29.1" ry="16.80" transform="rotate(-60 2686.6 1870.2)" fill="#C47E2B" stroke="none" stroke-width="0" />
<ellipse cx="2687.9" cy="1870.9" rx="28.9" ry="16.69" transform="rotate(-60 2687.9 1870.9)" fill="#C47E2B" stroke="none" stroke-width="0" />
<ellipse cx="2689.2" cy="1871.7" rx="28.5" ry="16.45" transform="rotate(-60 2689.2 1871.7)" fill="#C47E2B" stroke="none" stroke-width="0" />
<ellipse cx="2690.5" cy="1872.4" rx="27.9" ry="16.11" transform="rotate(-60 2690.5 1872.4)" fill="#C47E2B" stroke="none" stroke-width="0" />
<ellipse cx="2691.8" cy="1873.2" rx="27" ry="15.59" transform="rotate(-60 2691.8 1873.2)" fill="#C47E2B" stroke="none" stroke-width="0" />
<ellipse cx="2693.1" cy="1873.9" rx="25.9" ry="14.95" transform="rotate(-60 2693.1 1873.9)" fill="#C47E2B" stroke="none" stroke-width="0" />
<ellipse cx="2694.4" cy="1874.7" rx="24.5" ry="14.15" transform="rotate(-60 2694.4 1874.7)" fill="#C47E2B" stroke="none" stroke-width="0" />
<ellipse cx="2695.7" cy="1875.4" rx="22.9" ry="13.22" transform="rotate(-60 2695.7 1875.4)" fill="#C47E2B" stroke="none" stroke-width="0" />
<ellipse cx="2697.0" cy="1876.2" rx="21" ry="12.12" transform="rotate(-60 2697.0 1876.2)" fill="#C47E2B" stroke="none" stroke-width="0" />
<ellipse cx="2698.3" cy="1876.9" rx="19" ry="10.97" transform="rotate(-60 2698.3 1876.9)" fill="#C47E2B" stroke="none" stroke-width="0" />
<ellipse cx="2699.6" cy="1877.7" rx="16.8" ry="9.70" transform="rotate(-60 2699.6 1877.7)" fill="#C47E2B" stroke="none" stroke-width="0" />
<ellipse cx="2699.9" cy="1877.9" rx="17.3" ry="9.99" transform="rotate(-60 2699.9 1877.9)" fill="#fff" stroke="none" stroke-width="0" />
<line x1="2697.4" y1="1883.4" x2="2702.4" y2="1878.1" stroke="#C47E2B" stroke-width="3"/>
<polygon points="2703.1,1871.4 2705.9,1870.4 2705.9,1873.9" fill="#C47E2B"/>
<polygon points="2611.7,1723.9 2652.8,1747.7 2639.3,1771.1 2598.2,1747.3" fill="#C47E2B"/>
<ellipse cx="2604.9" cy="1735.6" rx="13.5" ry="7.79" transform="rotate(-60 2604.9 1735.6)" fill="#C47E2B" stroke="none" stroke-width="0" />
<ellipse cx="2653.0" cy="1763.4" rx="29.1" ry="16.80" transform="rotate(-60 2653.0 1763.4)" fill="#C47E2B" stroke="#fff" stroke-width="6" />
<ellipse cx="2653.0" cy="1763.4" rx="29.1" ry="16.80" transform="rotate(-60 2653.0 1763.4)" fill="#C47E2B" stroke="none" stroke-width="0" />
<ellipse cx="2654.3" cy="1764.1" rx="28.9" ry="16.69" transform="rotate(-60 2654.3 1764.1)" fill="#C47E2B" stroke="none" stroke-width="0" />
<ellipse cx="2655.6" cy="1764.9" rx="28.5" ry="16.45" transform="rotate(-60 2655.6 1764.9)" fill="#C47E2B" stroke="none" stroke-width="0" />
<ellipse cx="2656.9" cy="1765.6" rx="27.9" ry="16.11" transform="rotate(-60 2656.9 1765.6)" fill="#C47E2B" stroke="none" stroke-width="0" />
<ellipse cx="2658.2" cy="1766.4" rx="27" ry="15.59" transform="rotate(-60 2658.2 1766.4)" fill="#C47E2B" stroke="none" stroke-width="0" />
<ellipse cx="2659.5" cy="1767.1" rx="25.9" ry="14.95" transform="rotate(-60 2659.5 1767.1)" fill="#C47E2B" stroke="none" stroke-width="0" />
<ellipse cx="2660.8" cy="1767.9" rx="24.5" ry="14.15" transform="rotate(-60 2660.8 1767.9)" fill="#C47E2B" stroke="none" stroke-width="0" />
<ellipse cx="2662.1" cy="1768.6" rx="22.9" ry="13.22" transform="rotate(-60 2662.1 1768.6)" fill="#C47E2B" stroke="none" stroke-width="0" />
<ellipse cx="2663.4" cy="1769.4" rx="21" ry="12.12" transform="rotate(-60 2663.4 1769.4)" fill="#C47E2B" stroke="none" stroke-width="0" />
<ellipse cx="2664.7" cy="1770.1" rx="19" ry="10.97" transform="rotate(-60 2664.7 1770.1)" fill="#C47E2B" stroke="none" stroke-width="0" />
<ellipse cx="2666.0" cy="1770.9" rx="16.8" ry="9.70" transform="rotate(-60 2666.0 1770.9)" fill="#C47E2B" stroke="none" stroke-width="0" />
<ellipse cx="2666.3" cy="1771.1" rx="17.3" ry="9.99" transform="rotate(-60 2666.3 1771.1)" fill="#fff" stroke="none" stroke-width="0" />
<line x1="2663.8" y1="1776.6" x2="2668.8" y2="1771.3" stroke="#C47E2B" stroke-width="3"/>
<polygon points="2669.5,1764.6 2672.3,1763.6 2672.3,1767.1" fill="#C47E2B"/>
<polygon points="2705.2,1594.1 2746.3,1617.9 2732.8,1641.3 2691.7,1617.5" fill="#C47E2B"/>
<ellipse cx="2698.4" cy="1605.8" rx="13.5" ry="7.79" transform="rotate(-60 2698.4 1605.8)" fill="#C47E2B" stroke="none" stroke-width="0" />
<ellipse cx="2746.5" cy="1633.6" rx="29.1" ry="16.80" transform="rotate(-60 2746.5 1633.6)" fill="#C47E2B" stroke="#fff" stroke-width="6" />
<ellipse cx="2746.5" cy="1633.6" rx="29.1" ry="16.80" transform="rotate(-60 2746.5 1633.6)" fill="#C47E2B" stroke="none" stroke-width="0" />
<ellipse cx="2747.8" cy="1634.3" rx="28.9" ry="16.69" transform="rotate(-60 2747.8 1634.3)" fill="#C47E2B" stroke="none" stroke-width="0" />
<ellipse cx="2749.1" cy="1635.1" rx="28.5" ry="16.45" transform="rotate(-60 2749.1 1635.1)" fill="#C47E2B" stroke="none" stroke-width="0" />
<ellipse cx="2750.4" cy="1635.8" rx="27.9" ry="16.11" transform="rotate(-60 2750.4 1635.8)" fill="#C47E2B" stroke="none" stroke-width="0" />
<ellipse cx="2751.7" cy="1636.6" rx="27" ry="15.59" transform="rotate(-60 2751.7 1636.6)" fill="#C47E2B" stroke="none" stroke-width="0" />
<ellipse cx="2753.0" cy="1637.3" rx="25.9" ry="14.95" transform="rotate(-60 2753.0 1637.3)" fill="#C47E2B" stroke="none" stroke-width="0" />
<ellipse cx="2754.3" cy="1638.1" rx="24.5" ry="14.15" transform="rotate(-60 2754.3 1638.1)" fill="#C47E2B" stroke="none" stroke-width="0" />
<ellipse cx="2755.6" cy="1638.8" rx="22.9" ry="13.22" transform="rotate(-60 2755.6 1638.8)" fill="#C47E2B" stroke="none" stroke-width="0" />
<ellipse cx="2756.9" cy="1639.6" rx="21" ry="12.12" transform="rotate(-60 2756.9 1639.6)" fill="#C47E2B" stroke="none" stroke-width="0" />
<ellipse cx="2758.2" cy="1640.3" rx="19" ry="10.97" transform="rotate(-60 2758.2 1640.3)" fill="#C47E2B" stroke="none" stroke-width="0" />
<ellipse cx="2759.5" cy="1641.1" rx="16.8" ry="9.70" transform="rotate(-60 2759.5 1641.1)" fill="#C47E2B" stroke="none" stroke-width="0" />
<ellipse cx="2759.8" cy="1641.3" rx="17.3" ry="9.99" transform="rotate(-60 2759.8 1641.3)" fill="#fff" stroke="none" stroke-width="0" />
<line x1="2757.3" y1="1646.8" x2="2762.3" y2="1641.5" stroke="#C47E2B" stroke-width="3"/>
<polygon points="2763.0,1634.8 2765.8,1633.8 2765.8,1637.3" fill="#C47E2B"/>
</svg></body></html>
